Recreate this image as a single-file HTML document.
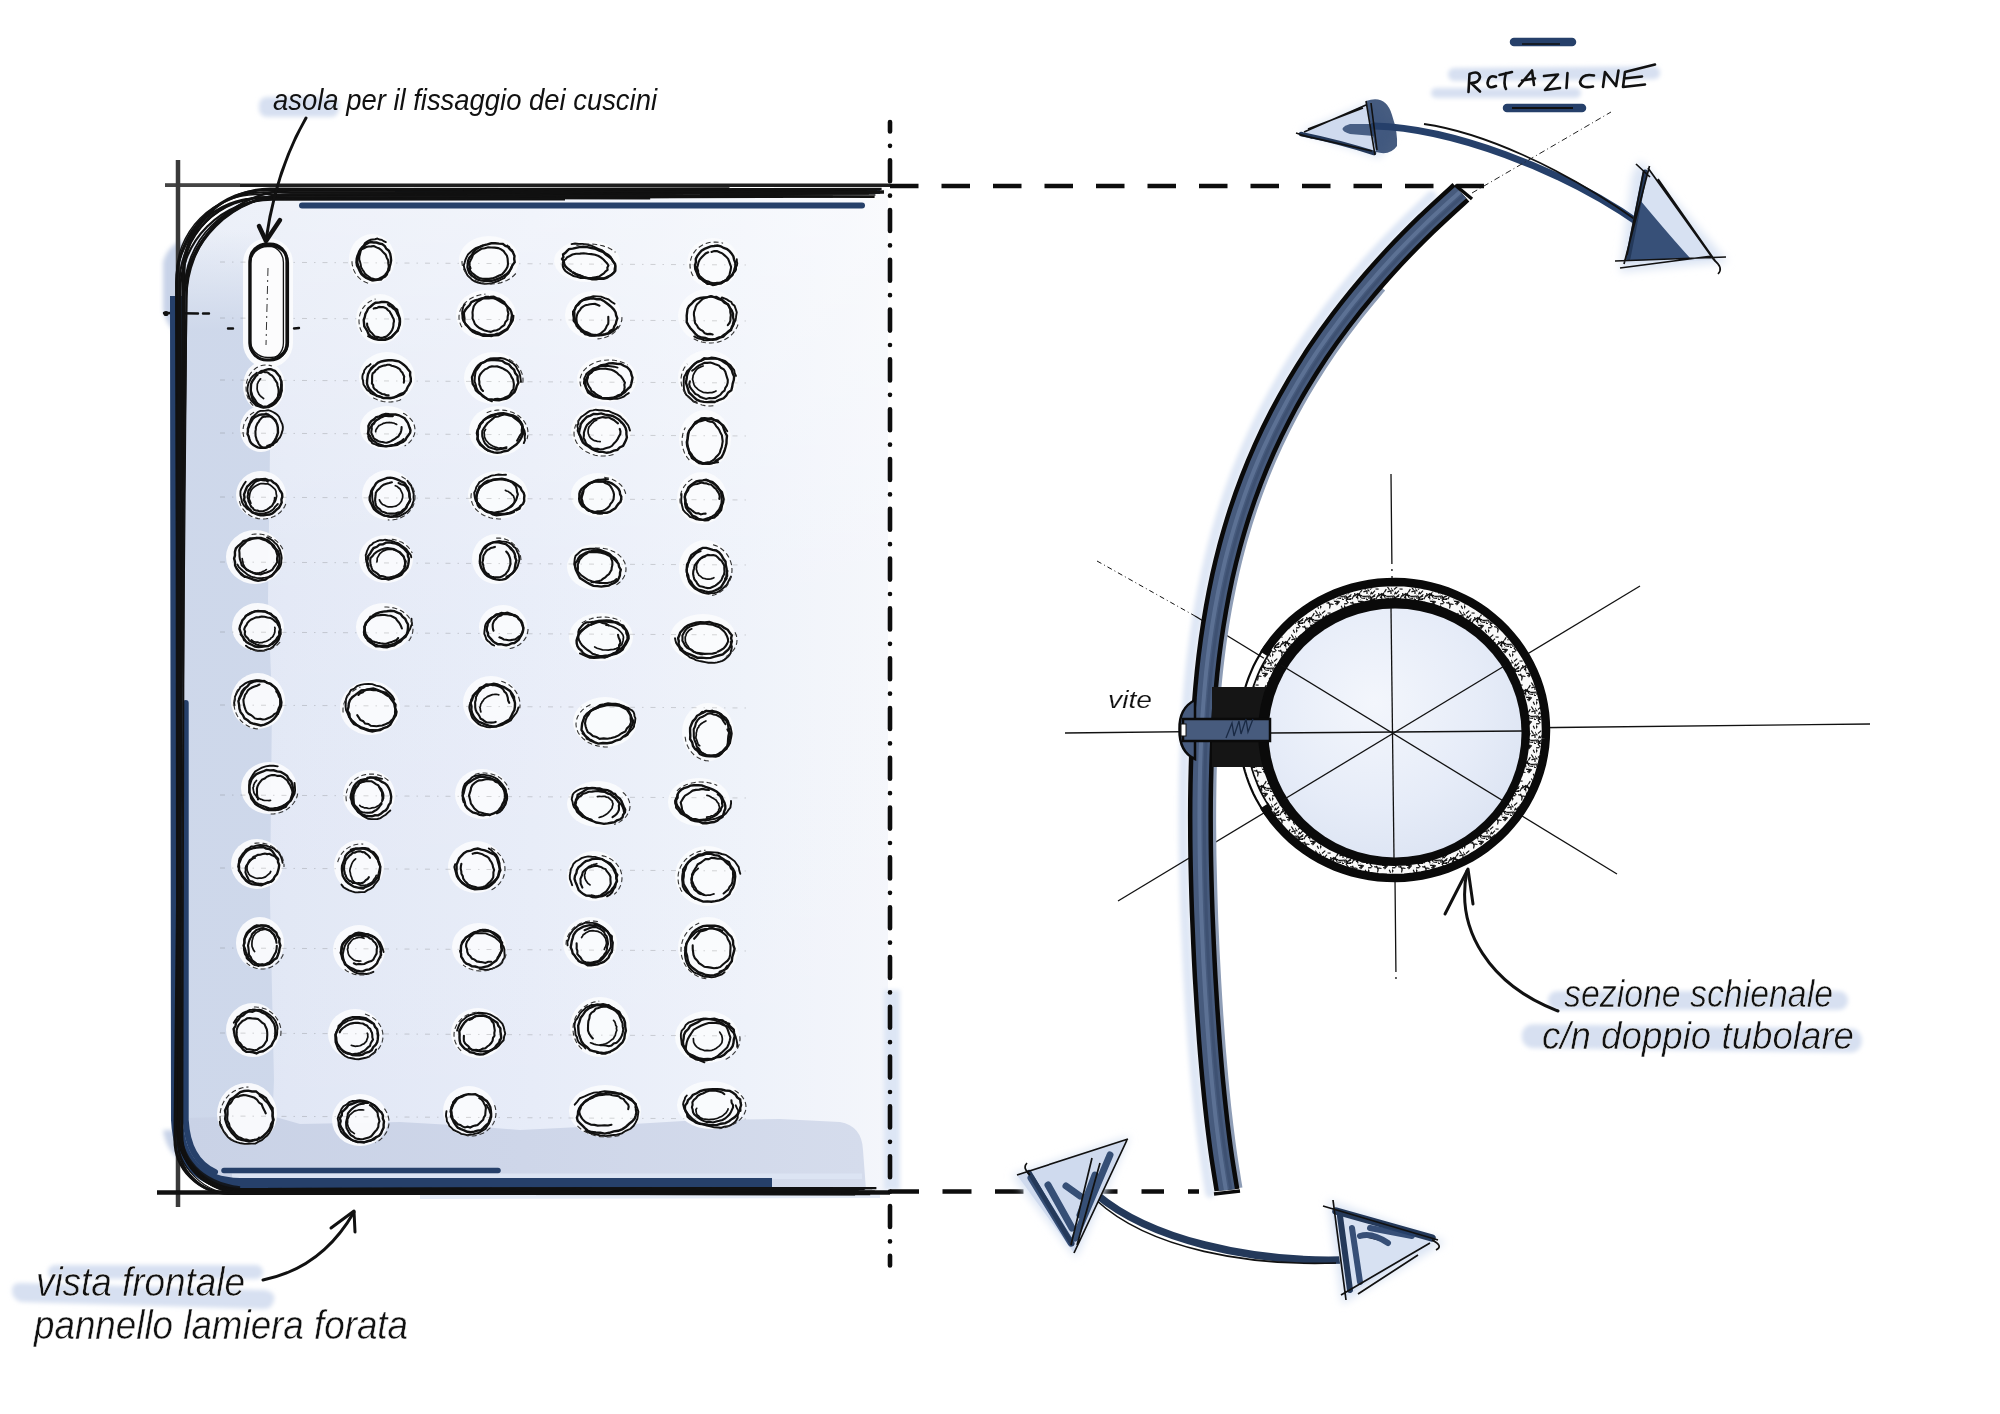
<!DOCTYPE html>
<html><head><meta charset="utf-8"><title>sketch</title>
<style>html,body{margin:0;padding:0;background:#fff;overflow:hidden}svg{display:block}</style>
</head><body>
<svg width="2000" height="1414" viewBox="0 0 2000 1414">
<defs>
<filter id="b2" x="-20%" y="-50%" width="140%" height="200%"><feGaussianBlur stdDeviation="2"/></filter>
<filter id="b4" x="-20%" y="-50%" width="140%" height="200%"><feGaussianBlur stdDeviation="4"/></filter>
<filter id="b8" x="-30%" y="-30%" width="160%" height="160%"><feGaussianBlur stdDeviation="8"/></filter>
<pattern id="hatch" width="24" height="24" patternUnits="userSpaceOnUse">
<rect width="24" height="24" fill="#fafafa"/>
<path d="M14.2,17.3 l-3.9,2.9 M17.2,22.0 l3.9,0.4 M22.5,14.9 l-3.1,1.0 M10.2,4.4 l-0.6,4.1 M-1.7,3.6 l3.1,3.7 M17.9,2.1 l-2.6,2.0 M14.1,1.3 l4.7,0.0 M3.4,3.6 l-4.7,0.3 M5.5,23.0 l-0.5,4.3 M3.3,22.5 l-2.8,4.1 M21.2,5.8 l1.4,3.0 M1.8,-0.3 l2.5,3.4 M-1.9,15.6 l1.8,3.2 M19.3,10.5 l2.2,3.3 M16.3,-0.5 l-3.0,0.2 M17.5,20.0 l4.6,0.3 M7.5,13.0 l3.1,0.1 M2.7,22.8 l3.7,2.6 M22.2,22.5 l1.7,3.3 M11.6,18.2 l4.2,1.5 M18.7,20.4 l4.9,0.6 M0.4,6.9 l-1.7,4.5 M6.8,22.0 l-0.5,3.6 M6.2,2.6 l3.2,0.8 M15.9,23.9 l2.7,1.5 M23.7,11.9 l1.0,3.3 M13.4,19.5 l0.5,3.8 M-0.6,21.8 l4.0,0.4 M19.8,1.4 l-3.3,3.7 M14.4,18.5 l3.7,1.3 M1.9,20.0 l2.3,3.1 M24.0,20.2 l-3.9,0.3 M10.7,17.0 l0.2,3.6 M8.5,1.8 l1.9,4.6 M23.0,14.3 l0.0,3.7 M0.3,5.1 l-3.7,3.0 M7.4,18.4 l-3.3,2.9 M15.3,17.8 l1.8,4.0 M5.3,10.6 l-3.3,2.9 M5.6,22.6 l-1.9,3.7 M-1.7,12.2 l3.1,3.1 M10.0,19.2 l-2.1,4.1 M7.0,14.7 l-3.2,3.4 M7.1,19.9 l-4.0,1.7 M23.4,22.9 l-0.2,4.1 M2.3,19.8 l-3.9,0.8 M16.0,16.7 l-2.2,2.5 M18.3,13.1 l-1.9,3.3 M14.2,18.1 l-1.9,4.0 M-1.3,2.2 l0.8,4.2 M3.7,15.8 l-1.2,2.8 M10.3,3.9 l3.2,0.6" stroke="#111" stroke-width="1.2" stroke-linecap="butt"/>
</pattern>
<linearGradient id="pg" x1="181" y1="0" x2="888" y2="0" gradientUnits="userSpaceOnUse">
<stop offset="0" stop-color="#dbe3f2"/>
<stop offset="0.15" stop-color="#e1e7f5"/>
<stop offset="0.5" stop-color="#e7ecf8"/>
<stop offset="0.8" stop-color="#eef2fa"/>
<stop offset="1" stop-color="#f4f6fb"/>
</linearGradient>
<linearGradient id="pgv" x1="0" y1="190" x2="0" y2="1190" gradientUnits="userSpaceOnUse">
<stop offset="0" stop-color="#ffffff" stop-opacity="0.45"/>
<stop offset="0.4" stop-color="#ffffff" stop-opacity="0.1"/>
<stop offset="1" stop-color="#ffffff" stop-opacity="0"/>
</linearGradient>
<radialGradient id="ig" cx="0.42" cy="0.38" r="0.7"><stop offset="0" stop-color="#f3f6fc"/><stop offset="0.6" stop-color="#e6ecf8"/><stop offset="1" stop-color="#dbe3f2"/></radialGradient>
</defs>
<rect width="2000" height="1414" fill="#fff"/>
<path d="M888,189 L286,191 A105,105 0 0 0 181,296 L181,1130 A60,60 0 0 0 241,1190 L888,1191 Z" fill="url(#pg)"/>
<path d="M888,189 L286,191 A105,105 0 0 0 181,296 L181,1130 A60,60 0 0 0 241,1190 L888,1191 Z" fill="url(#pgv)"/>
<linearGradient id="lsg" x1="0" y1="230" x2="0" y2="330" gradientUnits="userSpaceOnUse"><stop offset="0" stop-color="#cdd7ea" stop-opacity="0"/><stop offset="1" stop-color="#cdd7ea" stop-opacity="0.95"/></linearGradient>
<path d="M183,230 L262,230 L266,320 L270,450 L268,600 L272,700 L270,900 L274,1080 L272,1128 L183,1128 Z" fill="url(#lsg)"/>
<linearGradient id="bsg" x1="183" y1="0" x2="866" y2="0" gradientUnits="userSpaceOnUse"><stop offset="0" stop-color="#c9d2e6"/><stop offset="0.5" stop-color="#ced6e9"/><stop offset="1" stop-color="#d5dcec"/></linearGradient>
<path d="M183,1118 L272,1116 L300,1124 L400,1122 L470,1126 L520,1130 L600,1126 L700,1120 L780,1119 L840,1122 Q862,1126 863,1150 L866,1190 L241,1190 A60,60 0 0 1 183,1130 Z" fill="url(#bsg)"/>
<path d="M232,1173.5 L862,1173.5 L862,1179 L232,1179 Z" fill="#dce4f3"/>
<path d="M163,262 Q168,245 183,240 L183,335 Q168,332 163,310 Z" fill="#c8d3e8" filter="url(#b2)"/>
<path d="M163,1130 Q166,1150 180,1160 L186,1130 Z" fill="#c8d3e8" filter="url(#b2)"/>
<rect x="884" y="990" width="16" height="200" fill="#dde6f5" filter="url(#b2)"/>
<path d="M420,1192 L880,1192 L880,1198 L420,1199 Z" fill="#e4ebf7"/>
<ellipse cx="372" cy="259" rx="23" ry="25" fill="#fafbfd" opacity="0.95"/>
<ellipse cx="489" cy="260" rx="30" ry="24" fill="#fafbfd" opacity="0.95"/>
<ellipse cx="587" cy="261" rx="33" ry="21" fill="#fafbfd" opacity="0.95"/>
<ellipse cx="713" cy="263" rx="26" ry="25" fill="#fafbfd" opacity="0.95"/>
<ellipse cx="380" cy="319" rx="24" ry="25" fill="#fafbfd" opacity="0.95"/>
<ellipse cx="486" cy="315" rx="30" ry="25" fill="#fafbfd" opacity="0.95"/>
<ellipse cx="593" cy="315" rx="28" ry="24" fill="#fafbfd" opacity="0.95"/>
<ellipse cx="708" cy="316" rx="30" ry="27" fill="#fafbfd" opacity="0.95"/>
<ellipse cx="264" cy="386" rx="21" ry="25" fill="#fafbfd" opacity="0.95"/>
<ellipse cx="387" cy="377" rx="28" ry="25" fill="#fafbfd" opacity="0.95"/>
<ellipse cx="493" cy="378" rx="29" ry="26" fill="#fafbfd" opacity="0.95"/>
<ellipse cx="607" cy="379" rx="30" ry="23" fill="#fafbfd" opacity="0.95"/>
<ellipse cx="708" cy="378" rx="30" ry="28" fill="#fafbfd" opacity="0.95"/>
<ellipse cx="261" cy="429" rx="21" ry="23" fill="#fafbfd" opacity="0.95"/>
<ellipse cx="387" cy="428" rx="27" ry="22" fill="#fafbfd" opacity="0.95"/>
<ellipse cx="498" cy="431" rx="29" ry="25" fill="#fafbfd" opacity="0.95"/>
<ellipse cx="601" cy="431" rx="30" ry="25" fill="#fafbfd" opacity="0.95"/>
<ellipse cx="705" cy="439" rx="26" ry="29" fill="#fafbfd" opacity="0.95"/>
<ellipse cx="261" cy="495" rx="25" ry="24" fill="#fafbfd" opacity="0.95"/>
<ellipse cx="388" cy="495" rx="26" ry="25" fill="#fafbfd" opacity="0.95"/>
<ellipse cx="498" cy="495" rx="30" ry="24" fill="#fafbfd" opacity="0.95"/>
<ellipse cx="598" cy="495" rx="27" ry="22" fill="#fafbfd" opacity="0.95"/>
<ellipse cx="702" cy="498" rx="25" ry="26" fill="#fafbfd" opacity="0.95"/>
<ellipse cx="255" cy="557" rx="29" ry="27" fill="#fafbfd" opacity="0.95"/>
<ellipse cx="386" cy="559" rx="27" ry="24" fill="#fafbfd" opacity="0.95"/>
<ellipse cx="496" cy="559" rx="24" ry="25" fill="#fafbfd" opacity="0.95"/>
<ellipse cx="596" cy="567" rx="29" ry="23" fill="#fafbfd" opacity="0.95"/>
<ellipse cx="705" cy="568" rx="26" ry="28" fill="#fafbfd" opacity="0.95"/>
<ellipse cx="258" cy="627" rx="26" ry="24" fill="#fafbfd" opacity="0.95"/>
<ellipse cx="384" cy="627" rx="28" ry="24" fill="#fafbfd" opacity="0.95"/>
<ellipse cx="503" cy="627" rx="24" ry="22" fill="#fafbfd" opacity="0.95"/>
<ellipse cx="601" cy="637" rx="32" ry="24" fill="#fafbfd" opacity="0.95"/>
<ellipse cx="703" cy="638" rx="33" ry="24" fill="#fafbfd" opacity="0.95"/>
<ellipse cx="258" cy="701" rx="27" ry="28" fill="#fafbfd" opacity="0.95"/>
<ellipse cx="370" cy="708" rx="30" ry="27" fill="#fafbfd" opacity="0.95"/>
<ellipse cx="491" cy="703" rx="28" ry="27" fill="#fafbfd" opacity="0.95"/>
<ellipse cx="605" cy="722" rx="32" ry="25" fill="#fafbfd" opacity="0.95"/>
<ellipse cx="708" cy="732" rx="26" ry="29" fill="#fafbfd" opacity="0.95"/>
<ellipse cx="269" cy="788" rx="28" ry="26" fill="#fafbfd" opacity="0.95"/>
<ellipse cx="369" cy="795" rx="26" ry="25" fill="#fafbfd" opacity="0.95"/>
<ellipse cx="482" cy="794" rx="27" ry="25" fill="#fafbfd" opacity="0.95"/>
<ellipse cx="598" cy="804" rx="31" ry="23" fill="#fafbfd" opacity="0.95"/>
<ellipse cx="699" cy="802" rx="31" ry="24" fill="#fafbfd" opacity="0.95"/>
<ellipse cx="257" cy="864" rx="26" ry="25" fill="#fafbfd" opacity="0.95"/>
<ellipse cx="359" cy="866" rx="25" ry="26" fill="#fafbfd" opacity="0.95"/>
<ellipse cx="476" cy="867" rx="28" ry="26" fill="#fafbfd" opacity="0.95"/>
<ellipse cx="594" cy="876" rx="27" ry="25" fill="#fafbfd" opacity="0.95"/>
<ellipse cx="707" cy="876" rx="32" ry="30" fill="#fafbfd" opacity="0.95"/>
<ellipse cx="260" cy="943" rx="24" ry="26" fill="#fafbfd" opacity="0.95"/>
<ellipse cx="359" cy="950" rx="26" ry="25" fill="#fafbfd" opacity="0.95"/>
<ellipse cx="479" cy="947" rx="27" ry="24" fill="#fafbfd" opacity="0.95"/>
<ellipse cx="590" cy="943" rx="27" ry="26" fill="#fafbfd" opacity="0.95"/>
<ellipse cx="708" cy="948" rx="30" ry="31" fill="#fafbfd" opacity="0.95"/>
<ellipse cx="253" cy="1030" rx="27" ry="27" fill="#fafbfd" opacity="0.95"/>
<ellipse cx="355" cy="1034" rx="27" ry="25" fill="#fafbfd" opacity="0.95"/>
<ellipse cx="478" cy="1033" rx="27" ry="25" fill="#fafbfd" opacity="0.95"/>
<ellipse cx="600" cy="1027" rx="30" ry="30" fill="#fafbfd" opacity="0.95"/>
<ellipse cx="707" cy="1037" rx="32" ry="26" fill="#fafbfd" opacity="0.95"/>
<ellipse cx="247" cy="1114" rx="30" ry="31" fill="#fafbfd" opacity="0.95"/>
<ellipse cx="360" cy="1120" rx="28" ry="26" fill="#fafbfd" opacity="0.95"/>
<ellipse cx="469" cy="1111" rx="26" ry="25" fill="#fafbfd" opacity="0.95"/>
<ellipse cx="605" cy="1111" rx="36" ry="26" fill="#fafbfd" opacity="0.95"/>
<ellipse cx="711" cy="1105" rx="34" ry="24" fill="#fafbfd" opacity="0.95"/>
<rect x="243" y="238" width="50" height="130" rx="25" fill="#fafbfd"/>
<line x1="220" y1="262" x2="750" y2="265" stroke="#555" stroke-width="0.8" stroke-dasharray="5 7 1.5 7" opacity="0.3"/>
<line x1="220" y1="318" x2="750" y2="321" stroke="#555" stroke-width="0.8" stroke-dasharray="5 7 1.5 7" opacity="0.3"/>
<line x1="220" y1="380" x2="750" y2="383" stroke="#555" stroke-width="0.8" stroke-dasharray="5 7 1.5 7" opacity="0.3"/>
<line x1="220" y1="433" x2="750" y2="436" stroke="#555" stroke-width="0.8" stroke-dasharray="5 7 1.5 7" opacity="0.3"/>
<line x1="220" y1="497" x2="750" y2="500" stroke="#555" stroke-width="0.8" stroke-dasharray="5 7 1.5 7" opacity="0.3"/>
<line x1="220" y1="562" x2="750" y2="565" stroke="#555" stroke-width="0.8" stroke-dasharray="5 7 1.5 7" opacity="0.3"/>
<line x1="220" y1="632" x2="750" y2="635" stroke="#555" stroke-width="0.8" stroke-dasharray="5 7 1.5 7" opacity="0.3"/>
<line x1="220" y1="705" x2="750" y2="708" stroke="#555" stroke-width="0.8" stroke-dasharray="5 7 1.5 7" opacity="0.3"/>
<line x1="220" y1="795" x2="750" y2="798" stroke="#555" stroke-width="0.8" stroke-dasharray="5 7 1.5 7" opacity="0.3"/>
<line x1="220" y1="868" x2="750" y2="871" stroke="#555" stroke-width="0.8" stroke-dasharray="5 7 1.5 7" opacity="0.3"/>
<line x1="220" y1="948" x2="750" y2="951" stroke="#555" stroke-width="0.8" stroke-dasharray="5 7 1.5 7" opacity="0.3"/>
<line x1="220" y1="1033" x2="750" y2="1036" stroke="#555" stroke-width="0.8" stroke-dasharray="5 7 1.5 7" opacity="0.3"/>
<line x1="220" y1="1116" x2="750" y2="1119" stroke="#555" stroke-width="0.8" stroke-dasharray="5 7 1.5 7" opacity="0.3"/>
<path d="M358.0,254.6 L359.2,251.6 L360.8,248.8 L363.1,246.8 L365.2,244.6 L367.8,243.1 L370.6,242.0 L373.6,242.5 L376.5,242.5 L379.3,243.5 L382.2,244.1 L384.7,246.0 L386.3,248.8 L388.9,250.8 L390.2,253.8 L390.8,257.1 L391.1,260.4 L390.5,263.7 L389.7,266.7 L389.1,269.9 L387.1,272.4 L385.3,274.8 L383.0,276.8 L380.4,278.1 L377.8,279.5 L374.9,279.9 L371.9,280.2 L369.1,279.2 L366.3,278.0 L363.9,276.2 L361.5,274.1 L359.9,271.4 L358.6,268.4 L357.0,265.5 L356.5,262.2 L356.7,258.8 L357.5,255.6 L358.9,252.7 L360.4,250.0 L362.3,247.5 L364.6,245.7" fill="none" stroke="#111" stroke-width="2.4" stroke-linecap="round"/>
<path d="M369.4,278.6 L366.6,277.8 L364.4,275.5 L362.0,273.7 L360.6,270.8 L359.5,268.0 L358.1,265.2 L357.4,262.2 L357.8,259.3 L358.3,256.6 L359.0,253.9 L359.7,251.2 L361.6,249.3 L364.0,248.2 L366.2,247.0 L368.7,246.5 L371.3,246.4 L373.9,246.0 L376.5,247.4 L379.2,248.4 L381.5,250.3 L383.5,252.6 L385.7,254.7 L386.7,257.7 L388.2,260.4 L388.3,263.4 L388.8,266.3 L388.3,269.1 L387.6,271.7 L387.0,274.6 L385.2,276.6 L382.9,277.8 L381.0,279.6 L378.2,279.7 L375.7,280.2 L373.0,280.4 L370.3,279.4" fill="none" stroke="#111" stroke-width="2.1" stroke-linecap="round"/>
<path d="M379.6,279.3 L377.5,279.4 L375.3,279.5 L373.1,278.7 L370.9,278.1 L369.0,276.7 L367.0,275.3 L365.1,273.8 L363.8,271.6 L362.4,269.5 L361.1,267.2 L360.7,264.5 L360.1,262.0 L359.3,259.5 L359.4,256.8 L360.0,254.3 L360.6,251.9 L361.1,249.3 L362.0,247.0 L363.8,245.4 L364.9,243.2 L366.7,241.7 L368.7,240.6 L370.8,239.8 L372.9,239.5 L375.1,239.2 L377.3,238.5 L379.5,239.5 L381.7,239.8 L383.7,241.2 L385.8,242.1" fill="none" stroke="#111" stroke-width="1.9" stroke-linecap="round"/>
<path d="M368.1,283.1 L366.9,282.8 L365.7,282.3 L364.6,281.8 L363.5,281.2 L362.4,280.5 L361.4,279.8 L360.4,279.1 L359.4,278.2 L358.5,277.3 L357.7,276.4 L356.9,275.4 L356.1,274.4 L355.4,273.3 L354.8,272.2 L354.2,271.0 L353.7,269.9 L353.3,268.7 L352.9,267.4 L352.6,266.2 L352.3,264.9 L352.1,263.6 L352.0,262.3 L352.0,261.0 L352.0,259.7" fill="none" stroke="#333" stroke-width="1.1" stroke-dasharray="5 3"/>
<path d="M507.4,245.8 L509.1,248.5 L511.9,250.3 L513.2,253.1 L514.5,255.9 L514.2,259.0 L514.7,262.1 L512.4,265.2 L511.3,268.3 L509.3,271.3 L506.7,274.1 L503.3,276.3 L499.7,278.1 L495.9,279.7 L491.9,280.8 L488.0,280.6 L484.1,280.8 L480.3,280.4 L476.8,279.2 L474.3,277.2 L471.4,275.4 L469.3,273.0 L468.3,270.1 L467.5,267.2 L467.8,264.0 L468.1,260.9 L469.3,257.8 L471.8,255.0 L473.6,251.9 L476.2,249.1 L479.7,247.0 L483.4,245.4 L487.4,244.4 L491.3,243.3 L495.2,243.2 L498.9,243.6 L502.8,243.9 L505.4,246.0 L508.9,247.1 L510.4,249.8 L512.9,251.9" fill="none" stroke="#111" stroke-width="2.4" stroke-linecap="round"/>
<path d="M470.5,268.3 L469.7,265.7 L469.4,262.9 L470.7,260.1 L472.0,257.5 L473.1,254.7 L475.7,252.5 L478.5,250.7 L481.4,248.8 L484.8,248.2 L488.1,247.2 L491.5,247.5 L494.8,247.6 L498.2,248.1 L501.1,249.3 L503.6,251.1 L505.2,253.5 L506.9,255.7 L507.6,258.4 L507.8,261.1 L508.0,263.9 L507.5,266.8 L506.1,269.5 L504.1,272.0 L501.9,274.4 L498.6,275.8 L495.6,277.2 L492.4,278.4 L489.0,278.9 L485.7,278.9 L482.4,278.7 L479.2,278.0 L476.5,276.5 L474.2,274.6 L471.8,272.9 L470.1,270.5 L469.8,267.6" fill="none" stroke="#111" stroke-width="2.1" stroke-linecap="round"/>
<path d="M512.4,265.3 L511.0,268.0 L509.9,270.6 L508.6,273.3 L506.2,275.5 L504.3,278.0 L501.2,279.5 L498.1,281.0 L494.9,282.1 L491.6,283.3 L488.1,283.6 L484.6,283.7 L481.2,283.3 L477.9,282.6 L474.7,281.5 L472.1,279.8 L470.0,277.7 L467.7,275.7 L466.3,273.2 L465.4,270.6 L464.3,268.1 L463.8,265.3 L464.7,262.5 L465.4,259.8 L466.6,257.1 L468.1,254.4 L470.4,252.2 L472.9,250.1 L475.7,248.2 L479.0,247.0 L482.2,245.6" fill="none" stroke="#111" stroke-width="1.9" stroke-linecap="round"/>
<path d="M515.8,273.5 L513.9,275.5 L511.8,277.3 L509.4,279.0 L506.8,280.4 L504.0,281.7 L501.1,282.6 L498.0,283.4 L494.8,283.8 L491.6,284.0 L488.3,283.9 L485.1,283.5 L482.0,282.9 L479.0,282.0 L476.2,280.9 L473.5,279.5 L471.0,277.9 L468.8,276.2 L466.9,274.2 L465.2,272.1 L463.9,269.8 L462.9,267.5 L462.3,265.1 L462.0,262.7 L462.1,260.2" fill="none" stroke="#333" stroke-width="1.1" stroke-dasharray="5 3"/>
<path d="M570.9,271.0 L568.0,268.8 L565.5,266.5 L564.2,264.0 L563.8,261.5 L562.1,259.0 L563.4,256.9 L563.1,254.4 L565.4,252.8 L567.1,250.9 L569.0,249.1 L572.7,248.6 L576.0,247.8 L579.3,247.1 L583.2,246.8 L587.3,247.1 L591.4,248.0 L595.6,248.9 L599.3,250.6 L603.3,252.1 L605.8,254.5 L608.7,256.6 L611.5,258.8 L613.0,261.2 L615.0,263.7 L615.5,266.2 L615.4,268.5 L615.3,270.9 L613.7,272.9 L611.6,274.5 L609.4,276.1 L607.1,277.7 L603.8,278.7 L599.7,278.6 L596.2,279.3 L592.1,279.2 L588.0,278.2 L583.9,277.2 L580.2,275.6 L576.3,274.3 L572.9,272.4" fill="none" stroke="#111" stroke-width="2.4" stroke-linecap="round"/>
<path d="M562.8,263.1 L563.4,261.0 L565.6,259.3 L567.1,257.4 L569.8,256.0 L572.4,254.5 L576.0,253.7 L579.9,253.6 L583.7,253.3 L587.5,253.8 L591.3,254.1 L595.1,254.8 L598.6,256.0 L601.2,257.7 L603.5,259.5 L605.3,261.5 L607.2,263.4 L608.4,265.6 L607.3,267.7 L607.6,269.8 L605.4,271.6 L603.8,273.4 L601.5,274.9 L599.1,276.5 L595.6,277.2 L592.0,277.9 L588.3,278.4 L584.5,278.0 L580.6,278.0 L577.1,276.8 L573.5,275.9 L570.6,274.4 L568.0,272.8 L565.4,271.0 L563.9,269.0 L563.0,266.9 L562.7,264.8" fill="none" stroke="#111" stroke-width="2.1" stroke-linecap="round"/>
<path d="M571.6,244.1 L575.0,243.5 L578.9,243.9 L582.7,243.9 L586.7,244.6 L590.8,245.5 L594.6,247.2 L598.3,248.8 L602.2,250.4 L604.9,252.7 L608.4,254.7 L610.8,257.1 L612.0,259.7 L613.6,262.1 L615.0,264.6 L614.9,266.9 L614.5,269.1 L614.5,271.5 L612.8,273.3 L611.3,275.1 L608.4,276.1 L605.9,277.4 L603.0,278.3 L599.2,278.3 L595.6,278.5 L591.9,278.6 L587.9,278.1 L583.8,277.2 L580.1,275.4 L576.2,274.1 L572.5,272.4" fill="none" stroke="#111" stroke-width="1.9" stroke-linecap="round"/>
<path d="M576.4,245.5 L578.1,245.1 L579.9,244.8 L581.6,244.5 L583.4,244.3 L585.3,244.1 L587.1,244.0 L588.9,244.0 L590.8,244.0 L592.6,244.1 L594.4,244.3 L596.2,244.5 L598.0,244.8 L599.7,245.1 L601.4,245.5 L603.1,245.9 L604.7,246.5 L606.3,247.0 L607.8,247.6 L609.3,248.3 L610.7,249.0 L612.0,249.8 L613.2,250.6 L614.4,251.4 L615.4,252.3" fill="none" stroke="#333" stroke-width="1.1" stroke-dasharray="5 3"/>
<path d="M697.6,274.5 L696.5,271.5 L695.7,268.4 L695.0,265.3 L695.9,262.2 L695.8,258.8 L697.3,255.9 L699.3,253.2 L701.5,250.7 L704.5,248.9 L707.6,247.6 L710.7,246.4 L714.1,246.0 L717.5,245.5 L720.8,246.3 L723.7,248.0 L727.0,249.0 L729.5,251.2 L731.7,253.7 L733.4,256.4 L734.1,259.6 L735.3,262.7 L735.4,266.0 L734.6,269.2 L733.6,272.3 L732.0,275.2 L729.6,277.6 L727.3,280.1 L724.1,281.2 L721.2,282.8 L717.9,283.7 L714.6,283.5 L711.3,283.6 L707.9,283.1 L704.9,281.8 L702.4,279.6 L699.4,278.0 L697.7,275.2 L696.6,272.2 L695.3,269.2 L695.0,266.0" fill="none" stroke="#111" stroke-width="2.4" stroke-linecap="round"/>
<path d="M711.5,251.9 L714.2,251.1 L717.0,251.1 L719.6,252.3 L722.2,253.3 L724.3,255.1 L726.4,256.9 L728.2,259.0 L729.2,261.6 L730.1,264.2 L731.1,266.9 L730.7,269.8 L730.0,272.5 L729.4,275.4 L727.6,277.7 L726.0,280.2 L723.6,281.8 L721.2,283.4 L718.3,283.7 L715.7,284.8 L712.9,285.1 L710.2,284.0 L707.3,283.9 L705.2,282.0 L702.8,280.5 L701.2,278.3 L699.4,276.1 L698.2,273.5 L698.1,270.7 L697.1,267.9 L697.9,265.1 L698.5,262.3 L699.7,259.7 L701.5,257.5 L703.5,255.5 L705.6,253.5 L708.2,252.3" fill="none" stroke="#111" stroke-width="2.1" stroke-linecap="round"/>
<path d="M736.8,259.2 L736.8,261.3 L737.3,263.3 L737.0,265.3 L736.0,267.3 L736.1,269.5 L735.1,271.4 L733.4,272.9 L732.7,275.0 L730.9,276.4 L729.3,277.9 L727.7,279.5 L725.4,280.1 L723.5,281.2 L721.4,282.2 L719.2,282.6 L717.0,282.7 L714.7,283.2 L712.5,282.9 L710.3,282.4 L708.4,281.4 L706.2,281.0 L704.4,279.9 L702.8,278.6 L701.3,277.2 L699.6,275.9 L698.7,274.1 L697.4,272.5 L696.5,270.7 L696.1,268.7 L695.9,266.6" fill="none" stroke="#111" stroke-width="1.9" stroke-linecap="round"/>
<path d="M693.1,276.1 L692.0,274.1 L691.2,271.9 L690.5,269.7 L690.1,267.4 L690.0,265.1 L690.1,262.8 L690.5,260.5 L691.1,258.3 L691.9,256.1 L693.0,254.0 L694.3,252.1 L695.8,250.2 L697.5,248.5 L699.4,247.0 L701.4,245.7 L703.6,244.5 L705.9,243.6 L708.3,242.8 L710.7,242.3 L713.2,242.1 L715.7,242.0 L718.2,242.2 L720.7,242.6 L723.1,243.2" fill="none" stroke="#333" stroke-width="1.1" stroke-dasharray="5 3"/>
<path d="M395.0,333.3 L392.9,335.4 L390.8,337.7 L388.1,338.9 L385.2,339.8 L382.2,339.8 L379.3,339.8 L376.5,338.8 L373.8,337.8 L371.0,336.5 L368.7,334.5 L367.5,331.5 L366.0,328.9 L364.3,326.3 L364.0,323.2 L363.7,320.0 L364.8,317.0 L365.4,314.0 L366.9,311.3 L368.2,308.4 L370.7,306.5 L372.9,304.5 L375.5,302.8 L378.6,302.6 L381.5,302.0 L384.5,301.9 L387.5,302.3 L390.0,304.0 L392.5,305.7 L394.5,307.9 L397.1,309.7 L397.8,312.8 L398.9,315.7 L399.9,318.6 L400.0,321.7 L399.8,324.8 L398.6,327.7 L397.7,330.8 L395.4,332.8 L393.4,335.1 L391.3,337.4" fill="none" stroke="#111" stroke-width="2.4" stroke-linecap="round"/>
<path d="M373.7,308.6 L375.5,308.1 L377.3,307.7 L379.1,306.9 L381.0,307.1 L383.0,307.1 L384.8,307.7 L386.6,308.7 L388.0,310.3 L389.7,311.5 L390.7,313.4 L391.8,315.2 L392.7,317.2 L393.7,319.1 L394.0,321.3 L393.5,323.5 L393.4,325.7 L393.0,327.7 L392.2,329.7 L391.3,331.5 L390.1,333.1 L388.7,334.4 L387.3,335.8 L385.7,336.9 L383.8,337.3 L382.0,337.9 L380.1,337.7 L378.2,337.0 L376.3,336.9 L374.5,336.1 L373.1,334.5 L371.8,332.9 L370.2,331.6 L369.1,329.8 L368.2,327.8 L367.2,325.8 L367.1,323.6" fill="none" stroke="#111" stroke-width="2.1" stroke-linecap="round"/>
<path d="M387.8,304.6 L389.5,306.1 L391.6,307.0 L393.0,308.6 L394.9,309.8 L396.2,311.6 L397.0,313.5 L397.9,315.4 L399.0,317.2 L399.3,319.2 L399.7,321.3 L399.3,323.3 L399.0,325.3 L399.0,327.4 L398.0,329.2 L396.9,330.9 L395.7,332.6 L394.4,334.2 L392.8,335.6 L391.2,337.0 L389.1,337.7 L387.2,338.8 L385.1,339.2 L382.9,339.8 L380.7,339.9 L378.4,339.9 L376.2,339.6 L374.0,339.2 L371.9,338.2 L369.9,337.2 L368.0,336.2" fill="none" stroke="#111" stroke-width="1.9" stroke-linecap="round"/>
<path d="M361.7,331.9 L361.0,330.3 L360.3,328.8 L359.8,327.1 L359.4,325.5 L359.2,323.8 L359.0,322.1 L359.0,320.4 L359.1,318.7 L359.4,317.0 L359.7,315.3 L360.2,313.7 L360.8,312.1 L361.5,310.5 L362.3,309.0 L363.3,307.6 L364.3,306.3 L365.5,305.0 L366.7,303.8 L368.0,302.7 L369.4,301.8 L370.9,300.9 L372.4,300.1 L374.0,299.4 L375.6,298.9" fill="none" stroke="#333" stroke-width="1.1" stroke-dasharray="5 3"/>
<path d="M490.6,335.7 L486.9,335.6 L483.1,335.8 L479.7,334.4 L476.1,333.3 L472.8,331.8 L470.3,329.4 L468.3,326.9 L465.7,324.5 L464.3,321.6 L464.4,318.6 L464.0,315.6 L463.8,312.5 L465.5,309.8 L467.5,307.3 L469.7,305.1 L471.3,302.2 L474.5,300.6 L478.0,299.6 L481.5,298.5 L485.2,298.0 L488.9,298.3 L492.8,297.9 L496.4,299.2 L499.5,300.9 L502.4,302.8 L505.5,304.5 L507.8,307.0 L510.1,309.4 L511.4,312.3 L512.0,315.3 L511.5,318.2 L511.1,321.1 L510.3,324.0 L508.7,326.6 L507.3,329.4 L504.4,331.3 L501.5,333.2 L498.5,335.0 L494.6,335.2 L491.0,336.0" fill="none" stroke="#111" stroke-width="2.4" stroke-linecap="round"/>
<path d="M490.6,296.7 L493.7,296.5 L496.4,297.9 L499.3,298.7 L501.8,300.4 L504.4,302.2 L505.8,304.9 L507.4,307.5 L507.6,310.6 L508.4,313.5 L507.7,316.5 L507.5,319.6 L505.4,322.0 L504.3,325.0 L501.7,326.8 L499.5,328.9 L496.7,330.2 L493.7,330.8 L490.7,331.9 L487.7,331.3 L484.7,330.6 L482.0,329.3 L479.4,328.0 L477.0,326.2 L474.9,324.0 L473.8,321.1 L472.5,318.4 L472.7,315.4 L472.5,312.4 L473.0,309.4 L473.7,306.4 L475.4,303.8 L477.6,301.6 L480.4,300.1 L482.8,298.3 L485.6,296.9 L488.7,296.8" fill="none" stroke="#111" stroke-width="2.1" stroke-linecap="round"/>
<path d="M513.5,315.6 L513.3,318.0 L512.9,320.4 L511.6,322.7 L510.3,324.8 L508.7,326.9 L507.0,328.9 L504.5,330.2 L502.0,331.6 L499.6,333.1 L496.6,333.7 L493.8,334.8 L490.7,334.8 L487.6,334.9 L484.5,334.3 L481.4,334.1 L478.7,332.7 L475.9,331.7 L473.3,330.3 L470.5,329.1 L468.2,327.2 L466.7,325.0 L464.9,322.9 L463.2,320.8 L462.5,318.3 L462.4,315.8 L462.1,313.4 L462.3,311.0 L462.8,308.6 L463.4,306.2 L464.9,304.2" fill="none" stroke="#111" stroke-width="1.9" stroke-linecap="round"/>
<path d="M462.0,327.2 L461.0,325.5 L460.3,323.7 L459.7,321.9 L459.3,320.1 L459.0,318.3 L459.0,316.4 L459.2,314.5 L459.5,312.7 L460.0,310.9 L460.8,309.1 L461.6,307.4 L462.7,305.7 L463.9,304.2 L465.3,302.7 L466.9,301.3 L468.5,300.0 L470.3,298.8 L472.2,297.7 L474.3,296.7 L476.4,295.9 L478.6,295.3 L480.8,294.7 L483.1,294.3 L485.4,294.1" fill="none" stroke="#333" stroke-width="1.1" stroke-dasharray="5 3"/>
<path d="M576.3,306.0 L578.7,304.1 L580.6,301.7 L583.2,300.0 L586.7,299.4 L589.9,298.6 L593.4,298.3 L596.9,299.3 L600.5,299.3 L603.7,300.9 L606.5,303.0 L609.1,305.0 L611.6,307.2 L613.9,309.6 L615.6,312.4 L616.1,315.3 L617.3,318.3 L616.4,321.1 L615.8,323.9 L614.2,326.4 L613.4,329.3 L610.4,330.7 L608.4,333.1 L605.2,334.1 L602.0,335.0 L598.6,335.4 L595.1,335.0 L591.6,335.2 L588.1,334.2 L584.9,332.6 L582.0,330.6 L579.8,328.1 L576.9,326.1 L575.7,323.2 L573.7,320.5 L573.8,317.5 L573.2,314.5 L573.2,311.6 L575.0,309.1 L576.0,306.4 L578.4,304.5" fill="none" stroke="#111" stroke-width="2.4" stroke-linecap="round"/>
<path d="M608.3,316.7 L608.3,319.1 L608.4,321.5 L608.2,323.9 L606.8,325.9 L605.9,328.0 L604.7,330.1 L602.9,331.5 L601.1,333.1 L599.1,334.4 L596.8,334.9 L594.6,335.7 L592.2,335.6 L589.8,335.6 L587.5,334.8 L585.2,334.2 L583.5,332.5 L581.3,331.5 L580.1,329.4 L578.1,327.8 L577.4,325.5 L576.8,323.2 L576.6,320.9 L576.4,318.5 L576.7,316.1 L577.4,313.8 L578.5,311.7 L580.1,309.9 L581.4,307.8 L583.4,306.4 L585.5,305.2 L587.9,304.8 L590.2,304.3 L592.6,304.0 L595.0,303.9 L597.3,304.8 L599.5,305.7" fill="none" stroke="#111" stroke-width="2.1" stroke-linecap="round"/>
<path d="M617.8,326.8 L615.7,329.4 L612.7,331.4 L609.8,333.3 L606.1,334.2 L602.5,334.9 L598.7,335.4 L594.8,335.1 L591.0,334.1 L587.5,332.5 L583.9,331.1 L581.0,328.7 L578.7,325.9 L576.7,323.0 L575.2,319.9 L574.6,316.7 L574.6,313.5 L574.3,310.2 L575.5,307.1 L577.5,304.4 L579.7,301.8 L582.8,299.9 L585.8,298.1 L589.6,297.3 L593.2,296.3 L597.1,296.4 L601.1,296.6 L604.7,298.2 L608.5,299.3 L611.4,301.7 L614.6,303.8" fill="none" stroke="#111" stroke-width="1.9" stroke-linecap="round"/>
<path d="M622.0,317.1 L621.9,318.4 L621.8,319.8 L621.5,321.1 L621.2,322.4 L620.7,323.7 L620.2,325.0 L619.5,326.2 L618.8,327.4 L617.9,328.6 L617.0,329.7 L616.0,330.8 L614.9,331.8 L613.8,332.8 L612.6,333.7 L611.3,334.6 L609.9,335.3 L608.5,336.0 L607.0,336.7 L605.5,337.3 L604.0,337.7 L602.4,338.2 L600.8,338.5 L599.2,338.7 L597.5,338.9" fill="none" stroke="#333" stroke-width="1.1" stroke-dasharray="5 3"/>
<path d="M733.5,323.7 L731.9,326.7 L731.1,330.0 L728.1,332.0 L725.6,334.2 L723.2,336.7 L719.7,337.7 L716.4,339.3 L712.7,339.7 L708.9,339.3 L705.3,338.0 L701.5,337.5 L697.9,336.1 L695.2,333.6 L692.8,330.8 L690.4,328.2 L688.5,325.3 L686.7,322.2 L686.8,318.9 L686.7,315.6 L687.1,312.4 L687.5,309.1 L689.0,306.0 L691.6,303.7 L693.8,301.2 L696.7,299.1 L700.2,298.0 L703.9,297.5 L707.5,297.1 L711.2,296.4 L714.9,297.4 L718.3,299.0 L721.9,300.2 L724.5,302.8 L728.1,304.5 L729.8,307.6 L731.8,310.6 L733.0,313.8 L733.0,317.2 L733.9,320.5 L733.0,323.7" fill="none" stroke="#111" stroke-width="2.4" stroke-linecap="round"/>
<path d="M712.7,334.5 L710.1,333.9 L707.2,334.1 L704.6,333.2 L702.7,330.9 L700.3,329.6 L698.2,327.8 L696.9,325.3 L695.1,323.1 L694.6,320.3 L694.4,317.6 L693.9,314.9 L694.0,312.1 L695.0,309.5 L695.7,306.8 L697.0,304.3 L699.0,302.4 L701.0,300.5 L703.0,298.7 L705.6,297.7 L708.2,297.0 L710.9,296.2 L713.6,297.0 L716.4,296.8 L718.8,298.2 L721.4,299.0 L723.5,300.8 L725.6,302.5 L727.7,304.4 L729.1,306.8 L730.2,309.4 L730.3,312.3 L730.9,314.9 L730.5,317.7 L730.4,320.5 L729.5,323.0 L727.8,325.2" fill="none" stroke="#111" stroke-width="2.1" stroke-linecap="round"/>
<path d="M721.9,297.5 L724.4,298.3 L726.8,299.4 L728.9,300.8 L731.3,301.9 L732.3,304.1 L734.5,305.6 L735.3,307.9 L736.1,310.1 L736.8,312.4 L736.3,315.0 L736.0,317.4 L735.6,319.9 L734.5,322.3 L733.6,324.8 L732.4,327.2 L730.5,329.4 L728.3,331.3 L726.3,333.4 L723.6,334.8 L721.3,336.8 L718.4,337.5 L715.6,338.6 L712.7,339.2 L709.8,340.1 L706.8,340.3 L704.0,340.2 L701.5,339.1 L698.7,338.7 L696.3,337.7 L694.2,336.4" fill="none" stroke="#111" stroke-width="1.9" stroke-linecap="round"/>
<path d="M738.0,324.5 L737.3,326.4 L736.4,328.3 L735.4,330.0 L734.2,331.7 L732.9,333.3 L731.4,334.9 L729.8,336.3 L728.1,337.6 L726.2,338.7 L724.3,339.8 L722.2,340.7 L720.1,341.4 L717.9,342.1 L715.7,342.5 L713.4,342.8 L711.1,343.0 L708.8,343.0 L706.5,342.8 L704.3,342.5 L702.0,342.0 L699.8,341.4 L697.7,340.7 L695.7,339.7 L693.7,338.7" fill="none" stroke="#333" stroke-width="1.1" stroke-dasharray="5 3"/>
<path d="M259.2,372.8 L261.3,371.1 L263.7,370.7 L266.0,369.8 L268.4,369.2 L270.8,369.2 L273.0,370.2 L275.2,371.0 L276.8,372.9 L278.3,374.8 L279.9,376.7 L280.5,379.4 L281.5,381.8 L281.2,384.7 L281.2,387.5 L280.6,390.3 L280.1,393.2 L278.7,395.7 L277.3,398.1 L275.6,400.4 L273.8,402.5 L271.6,403.9 L269.4,405.3 L267.1,406.7 L264.6,406.8 L262.2,406.9 L260.2,405.7 L258.0,405.0 L256.3,403.4 L254.2,402.3 L253.0,400.0 L252.0,397.7 L251.4,395.1 L250.9,392.5 L250.8,389.8 L250.9,386.9 L251.1,384.0 L252.3,381.3 L254.0,378.9 L255.5,376.5 L257.5,374.6" fill="none" stroke="#111" stroke-width="2.4" stroke-linecap="round"/>
<path d="M259.5,373.0 L261.3,372.7 L263.0,371.6 L264.9,372.3 L266.8,372.2 L268.6,373.2 L270.3,374.7 L272.0,375.6 L273.5,377.3 L274.7,379.2 L275.9,381.1 L277.2,383.1 L277.5,385.5 L278.2,387.8 L278.6,390.1 L278.6,392.5 L278.1,394.8 L278.0,397.2 L276.9,399.1 L276.3,401.3 L275.0,402.9 L273.3,404.0 L271.9,405.2 L270.2,406.1 L268.6,407.1 L266.7,407.1 L264.8,407.0 L262.9,407.1 L261.2,405.7 L259.4,404.7 L257.7,403.5 L256.3,401.8 L255.1,399.9 L253.9,398.0 L252.5,396.1 L251.8,393.8 L251.1,391.5" fill="none" stroke="#111" stroke-width="2.1" stroke-linecap="round"/>
<path d="M281.3,382.0 L281.9,384.8 L281.8,387.7 L282.0,390.6 L281.2,393.3 L280.5,396.1 L279.3,398.6 L277.5,400.8 L275.8,403.0 L273.7,404.7 L271.4,406.1 L268.8,406.9 L266.3,407.4 L263.7,407.7 L261.1,407.4 L258.6,406.4 L256.1,405.6 L254.1,403.7 L252.3,401.8 L250.5,399.7 L249.2,397.3 L248.5,394.6 L247.6,391.9 L247.4,389.0 L247.8,386.2 L248.4,383.4 L249.8,380.9 L251.0,378.3 L252.7,376.2 L254.8,374.4 L256.9,372.7" fill="none" stroke="#111" stroke-width="1.9" stroke-linecap="round"/>
<path d="M263.6,398.5 L262.8,397.9 L262.1,397.3 L261.3,396.9 L260.7,396.2 L260.0,395.6 L259.4,394.8 L258.8,394.1 L258.5,393.1 L258.0,392.2 L257.6,391.3 L257.4,390.3 L257.2,389.3 L257.1,388.3 L257.2,387.3 L257.2,386.3 L257.3,385.4 L257.3,384.3 L257.6,383.4 L258.1,382.6 L258.3,381.6 L259.0,381.0 L259.5,380.2 L260.0,379.4 L260.6,378.8" fill="none" stroke="#111" stroke-width="1.7" stroke-linecap="round"/>
<path d="M253.2,405.7 L251.5,403.9 L250.1,401.9 L248.8,399.7 L247.7,397.3 L246.9,394.9 L246.4,392.3 L246.1,389.7 L246.0,387.1 L246.2,384.4 L246.7,381.9 L247.5,379.4 L248.4,377.0 L249.6,374.8 L251.1,372.7 L252.7,370.8 L254.5,369.2 L256.4,367.8 L258.5,366.7 L260.7,365.8 L262.9,365.3 L265.2,365.0 L267.5,365.1 L269.8,365.4 L272.0,366.1" fill="none" stroke="#333" stroke-width="1.1" stroke-dasharray="5 3"/>
<path d="M370.4,369.9 L372.7,367.4 L375.3,365.2 L377.9,362.8 L381.3,361.5 L384.8,360.8 L388.3,360.2 L391.8,360.1 L395.2,360.7 L398.7,361.3 L401.4,363.1 L404.0,364.9 L406.3,367.1 L408.1,369.6 L410.2,372.1 L410.1,375.3 L410.8,378.3 L410.8,381.5 L409.4,384.5 L407.6,387.2 L406.3,390.3 L403.8,392.8 L400.3,394.1 L397.3,395.9 L394.0,397.3 L390.5,398.3 L387.0,398.0 L383.4,398.1 L380.2,396.7 L376.8,395.9 L374.3,393.7 L371.9,391.6 L369.5,389.4 L367.9,386.6 L367.0,383.6 L367.1,380.4 L367.5,377.3 L368.0,374.1 L369.5,371.2 L371.2,368.3 L373.7,365.8" fill="none" stroke="#111" stroke-width="2.4" stroke-linecap="round"/>
<path d="M388.6,395.4 L386.4,395.3 L384.3,394.2 L382.0,394.0 L380.1,392.9 L378.1,391.9 L376.6,390.4 L374.7,389.2 L373.4,387.4 L373.2,385.2 L371.9,383.4 L372.1,381.4 L372.1,379.4 L372.1,377.4 L372.2,375.3 L372.7,373.3 L374.6,371.9 L375.7,370.2 L377.5,369.0 L378.9,367.4 L380.9,366.5 L383.0,365.8 L385.1,365.4 L387.3,364.8 L389.6,364.8 L391.7,365.7 L393.8,366.2 L396.0,366.9 L397.9,368.0 L399.8,369.2 L400.9,371.1 L402.4,372.7 L403.2,374.6 L404.2,376.5 L403.9,378.6 L404.1,380.6 L403.8,382.6" fill="none" stroke="#111" stroke-width="2.1" stroke-linecap="round"/>
<path d="M404.7,392.9 L403.0,394.4 L400.7,395.3 L398.3,396.2 L396.0,397.1 L393.4,397.5 L390.8,397.8 L388.2,397.7 L385.6,397.6 L382.9,397.9 L380.4,396.9 L378.0,396.0 L375.6,395.2 L373.2,394.3 L370.8,393.3 L369.4,391.4 L367.2,390.1 L366.0,388.2 L364.8,386.4 L363.5,384.5 L363.2,382.5 L363.0,380.5 L362.4,378.5 L362.4,376.4 L362.8,374.4 L363.9,372.6 L364.2,370.5 L365.5,368.7 L366.8,367.0 L368.9,365.7 L370.6,364.1" fill="none" stroke="#111" stroke-width="1.9" stroke-linecap="round"/>
<path d="M401.1,399.5 L400.0,400.0 L398.9,400.4 L397.7,400.8 L396.6,401.1 L395.4,401.4 L394.2,401.6 L393.0,401.8 L391.7,401.9 L390.5,402.0 L389.3,402.0 L388.0,402.0 L386.8,401.9 L385.6,401.8 L384.4,401.7 L383.2,401.5 L382.0,401.2 L380.8,400.9 L379.6,400.6 L378.5,400.2 L377.4,399.8 L376.3,399.3 L375.2,398.8 L374.1,398.2 L373.1,397.6" fill="none" stroke="#333" stroke-width="1.1" stroke-dasharray="5 3"/>
<path d="M515.7,389.1 L514.1,392.0 L511.9,394.5 L509.4,396.9 L506.4,398.7 L502.7,399.4 L499.1,400.3 L495.4,400.0 L491.7,399.5 L487.8,399.2 L484.6,397.0 L481.6,394.8 L478.7,392.7 L475.9,390.2 L474.7,386.9 L472.7,383.8 L472.3,380.5 L472.0,377.1 L473.3,374.0 L474.5,371.0 L476.1,368.2 L478.1,365.6 L480.8,363.4 L484.2,362.2 L487.2,360.5 L490.9,360.0 L494.6,360.0 L498.4,360.2 L502.2,360.8 L505.3,363.1 L509.0,364.4 L511.3,367.3 L514.1,369.8 L515.2,373.1 L517.6,376.1 L517.6,379.5 L518.4,382.9 L516.8,386.0 L515.9,389.2 L514.5,392.2 L511.7,394.3" fill="none" stroke="#111" stroke-width="2.4" stroke-linecap="round"/>
<path d="M483.0,391.0 L481.1,389.0 L480.3,386.6 L479.3,384.3 L479.4,381.8 L479.0,379.3 L479.2,376.9 L480.1,374.6 L481.6,372.6 L483.2,370.9 L485.0,369.3 L487.4,368.4 L489.4,366.9 L491.9,366.4 L494.6,366.5 L497.2,366.4 L499.8,367.2 L502.3,368.2 L504.6,369.5 L507.0,370.8 L508.9,372.6 L510.5,374.7 L511.5,377.1 L513.0,379.3 L513.5,381.7 L513.9,384.2 L513.7,386.6 L513.5,389.1 L511.8,391.0 L510.8,393.1 L509.6,395.2 L507.4,396.6 L505.0,397.4 L502.8,398.6 L500.4,399.3 L497.6,398.8 L495.0,399.0" fill="none" stroke="#111" stroke-width="2.1" stroke-linecap="round"/>
<path d="M491.9,401.3 L488.6,400.0 L485.6,398.1 L482.5,396.3 L480.7,393.3 L478.0,391.0 L476.5,387.9 L475.7,384.6 L474.6,381.4 L474.8,378.0 L475.1,374.8 L475.7,371.5 L477.7,368.8 L479.5,366.1 L481.5,363.5 L484.4,361.8 L487.1,359.9 L490.3,358.5 L493.7,358.1 L497.2,358.1 L500.7,357.9 L504.2,358.7 L507.5,360.0 L510.5,361.9 L513.5,363.8 L515.9,366.3 L517.4,369.4 L519.2,372.3 L520.1,375.5 L520.6,378.8 L521.0,382.0" fill="none" stroke="#111" stroke-width="1.9" stroke-linecap="round"/>
<path d="M509.1,359.3 L510.3,359.9 L511.5,360.6 L512.7,361.4 L513.8,362.2 L514.8,363.1 L515.9,364.0 L516.8,364.9 L517.7,365.9 L518.5,367.0 L519.3,368.0 L520.0,369.1 L520.6,370.3 L521.1,371.4 L521.6,372.6 L522.1,373.8 L522.4,375.0 L522.7,376.3 L522.8,377.5 L523.0,378.7 L523.0,380.0 L523.0,381.2 L522.8,382.5 L522.7,383.7 L522.4,385.0" fill="none" stroke="#333" stroke-width="1.1" stroke-dasharray="5 3"/>
<path d="M629.3,387.4 L626.6,390.0 L623.6,392.3 L620.8,395.0 L616.8,396.5 L612.8,397.8 L608.7,398.2 L604.7,398.3 L600.8,398.1 L597.3,397.1 L593.6,396.2 L590.9,394.3 L588.1,392.4 L586.9,389.6 L585.8,386.9 L585.4,384.0 L585.1,381.0 L587.0,378.0 L588.3,374.9 L591.1,372.4 L593.6,369.7 L597.2,367.8 L600.6,365.5 L604.7,364.8 L608.7,363.4 L612.9,363.3 L616.8,363.7 L620.8,364.0 L623.8,365.8 L627.1,367.2 L629.3,369.4 L630.9,372.0 L631.5,374.9 L632.5,377.6 L632.0,380.6 L631.3,383.6 L630.3,386.8 L627.3,389.3 L624.9,392.0 L621.5,394.3 L617.6,395.7" fill="none" stroke="#111" stroke-width="2.4" stroke-linecap="round"/>
<path d="M601.1,397.0 L598.5,395.6 L596.0,394.2 L594.1,392.3 L591.4,390.8 L590.5,388.5 L588.9,386.5 L588.0,384.3 L587.1,382.1 L587.1,379.8 L587.8,377.8 L588.0,375.6 L589.1,373.7 L591.5,372.7 L592.9,370.9 L595.2,369.9 L597.6,369.2 L600.2,368.7 L603.0,368.7 L605.7,368.6 L608.6,369.2 L611.5,369.8 L614.2,371.0 L616.7,372.5 L618.6,374.5 L620.9,376.2 L622.4,378.3 L623.7,380.5 L624.9,382.7 L624.3,384.9 L624.7,387.2 L624.3,389.3 L623.7,391.3 L622.1,392.9 L621.2,395.0 L618.6,395.7 L616.5,396.9" fill="none" stroke="#111" stroke-width="2.1" stroke-linecap="round"/>
<path d="M628.8,393.1 L626.1,394.7 L623.8,396.6 L620.7,397.8 L617.4,398.7 L613.7,398.8 L610.1,399.2 L606.5,398.7 L602.8,398.6 L599.2,397.7 L595.9,396.4 L593.3,394.3 L590.5,392.6 L588.1,390.6 L586.3,388.3 L585.3,385.9 L583.9,383.4 L584.1,380.9 L584.2,378.4 L585.4,376.2 L586.4,373.8 L588.6,371.9 L590.9,370.2 L593.3,368.4 L596.5,367.4 L599.6,366.2 L603.2,366.0 L606.8,365.8 L610.4,366.2 L614.0,366.7 L617.6,367.6" fill="none" stroke="#111" stroke-width="1.9" stroke-linecap="round"/>
<path d="M580.9,386.3 L580.3,384.1 L580.0,381.9 L580.1,379.7 L580.4,377.5 L581.1,375.4 L582.0,373.3 L583.3,371.2 L584.9,369.3 L586.7,367.6 L588.8,365.9 L591.1,364.5 L593.6,363.2 L596.3,362.1 L599.1,361.3 L602.0,360.6 L605.0,360.2 L608.1,360.0 L611.1,360.1 L614.1,360.3 L617.1,360.8 L620.0,361.6 L622.8,362.5 L625.4,363.7 L627.8,365.0" fill="none" stroke="#333" stroke-width="1.1" stroke-dasharray="5 3"/>
<path d="M714.9,402.0 L711.1,401.8 L707.4,402.1 L703.8,401.9 L700.1,401.2 L696.7,399.7 L694.1,397.3 L691.6,394.9 L689.0,392.5 L688.0,389.1 L687.0,385.9 L685.9,382.6 L686.6,379.1 L687.0,375.7 L688.1,372.4 L689.7,369.3 L692.1,366.5 L694.6,363.9 L697.5,361.8 L701.0,360.5 L704.2,358.3 L708.0,358.6 L711.6,357.8 L715.3,358.1 L718.8,359.2 L721.9,360.7 L724.8,362.7 L727.7,364.6 L729.8,367.3 L731.8,370.1 L732.7,373.4 L734.1,376.5 L733.8,380.0 L732.7,383.4 L732.2,386.8 L731.3,390.3 L728.1,392.5 L726.3,395.6 L723.6,398.3 L720.0,399.5 L716.6,401.1" fill="none" stroke="#111" stroke-width="2.4" stroke-linecap="round"/>
<path d="M692.2,370.7 L694.7,369.0 L696.8,367.0 L699.1,365.3 L701.7,364.2 L704.5,362.8 L707.5,362.9 L710.5,362.5 L713.4,363.5 L716.1,364.6 L719.0,365.6 L720.9,367.8 L723.7,369.2 L725.3,371.7 L726.1,374.5 L726.9,377.1 L727.8,379.9 L727.7,382.7 L726.9,385.5 L725.3,387.9 L724.5,390.7 L722.1,392.5 L720.3,394.8 L717.8,396.3 L715.2,397.9 L712.2,398.3 L709.2,398.0 L706.1,398.9 L703.2,398.1 L700.4,397.0 L698.1,395.1 L695.3,393.9 L693.5,391.6 L691.6,389.4 L690.0,387.0 L689.2,384.2 L689.9,381.3" fill="none" stroke="#111" stroke-width="2.1" stroke-linecap="round"/>
<path d="M696.6,402.5 L693.4,401.4 L691.2,399.1 L688.9,397.0 L686.3,395.0 L684.9,392.3 L684.0,389.4 L683.8,386.3 L683.7,383.2 L683.8,380.2 L684.0,377.0 L685.7,374.0 L687.1,371.0 L689.8,368.6 L692.1,366.1 L694.9,363.8 L697.8,361.8 L701.4,360.9 L704.6,359.1 L708.2,358.8 L711.8,358.9 L715.3,358.6 L718.7,359.2 L722.1,360.0 L725.3,361.1 L727.8,363.2 L730.4,365.1 L732.2,367.6 L734.2,370.1 L734.7,373.1 L736.0,375.9" fill="none" stroke="#111" stroke-width="1.9" stroke-linecap="round"/>
<path d="M716.0,391.0 L714.1,391.9 L712.1,392.6 L709.9,392.7 L707.7,392.9 L705.6,392.7 L703.4,392.5 L701.6,391.4 L699.6,390.6 L698.0,389.3 L696.5,387.9 L695.0,386.5 L694.1,384.8 L693.5,382.9 L693.1,381.1 L692.5,379.2 L692.9,377.3 L693.1,375.4 L694.0,373.6 L694.9,371.9 L696.1,370.3 L697.4,368.8 L699.2,367.6 L701.2,366.8 L703.1,366.0" fill="none" stroke="#111" stroke-width="1.7" stroke-linecap="round"/>
<path d="M713.4,405.8 L710.5,406.0 L707.7,405.9 L704.9,405.6 L702.1,405.0 L699.4,404.2 L696.8,403.1 L694.3,401.9 L692.0,400.4 L689.8,398.7 L687.9,396.8 L686.2,394.8 L684.7,392.6 L683.4,390.3 L682.4,387.9 L681.7,385.5 L681.2,383.0 L681.0,380.4 L681.1,377.8 L681.5,375.3 L682.1,372.8 L683.1,370.4 L684.2,368.1 L685.7,365.9 L687.3,363.8" fill="none" stroke="#333" stroke-width="1.1" stroke-dasharray="5 3"/>
<path d="M265.4,413.9 L267.8,414.4 L269.8,415.7 L271.9,417.0 L273.5,418.7 L275.4,420.2 L276.4,422.6 L277.3,424.9 L277.8,427.4 L277.9,430.1 L278.0,432.7 L277.2,435.3 L276.2,437.8 L274.9,440.1 L273.5,442.3 L271.8,444.4 L269.4,445.3 L267.3,447.1 L264.9,447.8 L262.4,447.9 L260.0,447.7 L257.6,447.4 L255.5,446.2 L253.4,445.0 L251.5,443.5 L250.1,441.4 L249.3,438.9 L248.7,436.4 L247.5,434.0 L247.9,431.3 L247.9,428.6 L249.1,426.1 L249.9,423.6 L251.4,421.3 L252.8,419.0 L254.7,417.1 L257.1,416.0 L259.3,414.9 L261.8,414.5 L264.1,414.5 L266.6,414.0" fill="none" stroke="#111" stroke-width="2.4" stroke-linecap="round"/>
<path d="M275.8,439.3 L275.4,441.6 L274.0,442.9 L273.0,444.8 L271.4,445.4 L270.1,446.8 L268.5,446.9 L267.0,447.2 L265.4,447.8 L263.8,447.9 L262.3,447.1 L260.9,446.3 L259.6,445.1 L258.5,443.5 L257.7,441.6 L256.7,440.1 L256.2,438.0 L255.6,436.0 L255.5,433.8 L255.4,431.6 L255.8,429.4 L255.9,427.2 L256.7,425.2 L257.5,423.3 L258.7,421.8 L259.7,420.0 L261.0,418.6 L262.3,417.2 L263.9,416.7 L265.5,416.7 L267.0,416.3 L268.5,416.4 L270.1,416.5 L271.6,417.1 L273.0,418.1 L274.3,419.5 L275.4,421.1" fill="none" stroke="#111" stroke-width="2.1" stroke-linecap="round"/>
<path d="M248.6,427.6 L248.7,424.9 L249.9,422.4 L250.7,419.8 L251.9,417.3 L254.1,415.7 L256.0,413.9 L257.9,412.0 L260.3,410.9 L263.0,410.9 L265.5,410.6 L268.1,410.2 L270.6,410.9 L273.0,412.0 L275.3,413.3 L277.4,414.9 L279.1,416.9 L280.1,419.4 L281.2,421.8 L282.4,424.3 L282.9,427.0 L282.7,429.8 L281.9,432.4 L281.1,435.0 L279.9,437.4 L278.2,439.4 L276.7,441.7 L274.4,443.1 L272.2,444.5 L269.8,445.4 L267.2,445.8" fill="none" stroke="#111" stroke-width="1.9" stroke-linecap="round"/>
<path d="M243.8,436.9 L243.5,435.6 L243.3,434.4 L243.1,433.1 L243.0,431.9 L243.0,430.6 L243.1,429.3 L243.2,428.0 L243.4,426.8 L243.7,425.5 L244.0,424.3 L244.5,423.1 L244.9,422.0 L245.5,420.8 L246.1,419.7 L246.8,418.7 L247.5,417.7 L248.3,416.7 L249.2,415.8 L250.1,415.0 L251.0,414.2 L252.0,413.4 L253.1,412.8 L254.1,412.2 L255.3,411.6" fill="none" stroke="#333" stroke-width="1.1" stroke-dasharray="5 3"/>
<path d="M409.7,427.7 L410.5,430.3 L410.1,432.9 L408.4,435.3 L406.7,437.5 L405.4,440.0 L403.0,441.9 L399.9,443.2 L397.2,444.8 L393.8,445.3 L390.5,445.7 L387.1,446.1 L383.7,445.9 L380.6,444.9 L377.4,444.0 L375.4,441.9 L372.7,440.5 L370.9,438.3 L369.9,435.9 L367.9,433.7 L368.5,431.1 L368.5,428.5 L368.4,425.9 L369.6,423.4 L371.3,421.1 L374.1,419.3 L376.1,417.2 L379.5,416.3 L382.3,414.8 L385.6,413.9 L389.0,414.3 L392.3,414.5 L395.7,414.5 L399.0,415.3 L401.8,416.7 L404.6,418.2 L406.2,420.5 L407.8,422.7 L408.7,425.1 L409.5,427.6 L410.5,430.1" fill="none" stroke="#111" stroke-width="2.4" stroke-linecap="round"/>
<path d="M401.6,427.1 L401.5,429.0 L401.1,430.9 L400.6,432.8 L399.4,434.6 L398.4,436.5 L396.4,437.6 L394.8,439.0 L392.9,440.0 L391.0,441.1 L388.9,442.1 L386.8,442.7 L384.6,442.5 L382.5,442.0 L380.5,441.8 L378.5,441.3 L376.9,440.1 L375.0,439.3 L373.5,438.0 L372.9,436.2 L372.0,434.5 L371.3,432.8 L371.4,430.8 L371.8,428.9 L371.6,426.9 L372.3,425.0 L374.1,423.5 L374.9,421.5 L376.6,420.2 L378.5,419.1 L380.3,417.9 L382.3,417.0 L384.3,416.0 L386.5,416.0 L388.6,416.1 L390.7,416.1 L392.9,416.1" fill="none" stroke="#111" stroke-width="2.1" stroke-linecap="round"/>
<path d="M403.7,438.9 L401.7,440.7 L399.3,442.1 L396.8,443.4 L394.2,444.6 L391.5,445.2 L388.8,445.8 L386.0,446.5 L383.4,446.4 L380.9,446.1 L378.5,445.8 L376.3,445.0 L374.4,444.0 L372.2,443.2 L371.2,441.4 L369.5,440.2 L368.7,438.4 L368.2,436.5 L368.6,434.4 L368.4,432.4 L368.5,430.4 L369.9,428.3 L371.2,426.3 L372.2,424.2 L374.3,422.4 L376.0,420.5 L378.4,419.0 L380.5,417.2 L383.2,416.2 L385.9,415.3 L388.5,414.1" fill="none" stroke="#111" stroke-width="1.9" stroke-linecap="round"/>
<path d="M375.7,431.7 L375.7,430.8 L375.9,430.0 L376.4,429.1 L377.0,428.4 L377.4,427.6 L378.0,426.8 L378.6,426.1 L379.3,425.3 L380.4,425.0 L381.3,424.4 L382.4,424.0 L383.3,423.4 L384.5,423.2 L385.5,422.8 L386.6,422.6 L387.9,422.7 L389.0,422.4 L390.2,422.6 L391.3,422.7 L392.5,422.9 L393.7,423.0 L394.7,423.5 L395.7,423.9 L396.7,424.4" fill="none" stroke="#111" stroke-width="1.7" stroke-linecap="round"/>
<path d="M403.1,413.2 L404.8,414.1 L406.4,415.1 L407.9,416.3 L409.3,417.5 L410.5,418.8 L411.6,420.1 L412.6,421.5 L413.4,423.0 L414.0,424.5 L414.5,426.1 L414.8,427.7 L415.0,429.3 L415.0,430.9 L414.8,432.5 L414.5,434.1 L413.9,435.6 L413.3,437.1 L412.5,438.6 L411.5,440.0 L410.4,441.4 L409.1,442.7 L407.7,443.9 L406.2,445.0 L404.6,446.0" fill="none" stroke="#333" stroke-width="1.1" stroke-dasharray="5 3"/>
<path d="M483.7,420.3 L486.6,418.2 L490.0,416.9 L493.2,415.6 L496.5,414.1 L500.0,413.4 L503.6,413.1 L507.0,413.9 L510.0,415.2 L513.4,415.9 L515.5,418.2 L518.6,419.5 L520.4,422.0 L521.8,424.6 L522.8,427.5 L522.8,430.5 L523.1,433.6 L521.9,436.6 L520.4,439.4 L518.6,442.1 L516.3,444.6 L513.5,446.6 L510.7,448.5 L507.9,450.7 L504.3,451.2 L500.9,452.4 L497.3,452.7 L493.8,452.4 L490.6,451.4 L487.7,450.1 L485.0,448.5 L482.7,446.5 L480.2,444.6 L478.6,442.0 L477.3,439.3 L477.6,436.2 L476.9,433.2 L477.5,430.2 L479.4,427.4 L480.3,424.3 L482.8,421.8" fill="none" stroke="#111" stroke-width="2.4" stroke-linecap="round"/>
<path d="M506.3,448.3 L503.1,448.8 L500.0,449.3 L496.8,449.6 L494.1,448.7 L491.4,447.9 L488.6,447.1 L486.8,445.3 L485.0,443.5 L483.9,441.2 L483.1,438.8 L482.3,436.4 L482.2,433.8 L482.3,431.0 L483.8,428.3 L485.5,425.8 L487.4,423.3 L489.8,421.2 L492.3,419.1 L494.9,417.0 L498.2,416.5 L501.2,415.3 L504.4,414.5 L507.5,414.4 L510.4,414.9 L513.3,415.6 L516.0,416.6 L518.2,418.2 L519.3,420.6 L521.0,422.5 L522.4,424.7 L522.2,427.5 L521.7,430.2 L521.8,433.0 L520.0,435.5 L518.6,438.1 L517.1,440.7" fill="none" stroke="#111" stroke-width="2.1" stroke-linecap="round"/>
<path d="M488.1,450.8 L485.3,448.8 L483.1,446.3 L480.8,443.8 L478.8,441.1 L477.8,438.1 L478.0,434.9 L477.9,431.9 L478.3,428.8 L478.9,425.8 L480.7,423.2 L482.9,420.9 L485.1,418.6 L487.8,416.7 L490.8,415.1 L494.2,414.4 L497.7,413.7 L501.3,413.6 L504.8,414.0 L508.2,415.3 L511.7,416.1 L514.5,418.2 L517.2,420.3 L519.9,422.4 L521.6,425.2 L523.1,428.0 L524.5,430.9 L525.1,434.0 L524.7,437.0 L525.0,440.2 L523.8,443.1" fill="none" stroke="#111" stroke-width="1.9" stroke-linecap="round"/>
<path d="M506.7,447.0 L505.3,447.4 L503.9,447.7 L502.4,448.2 L500.8,447.9 L499.3,448.1 L497.7,447.9 L496.2,447.4 L494.7,446.9 L493.2,446.3 L491.8,445.6 L490.6,444.7 L489.2,443.9 L488.2,442.8 L487.3,441.7 L486.2,440.6 L485.6,439.4 L485.0,438.1 L484.4,436.8 L484.4,435.5 L484.4,434.2 L484.1,432.9 L484.3,431.7 L484.9,430.5 L485.6,429.4" fill="none" stroke="#111" stroke-width="1.7" stroke-linecap="round"/>
<path d="M486.7,412.8 L489.2,411.8 L491.7,411.0 L494.4,410.5 L497.1,410.1 L499.8,410.0 L502.5,410.1 L505.2,410.4 L507.9,410.9 L510.4,411.7 L512.9,412.6 L515.3,413.7 L517.5,415.0 L519.5,416.5 L521.4,418.2 L523.1,419.9 L524.5,421.9 L525.7,423.9 L526.7,426.0 L527.4,428.1 L527.8,430.3 L528.0,432.6 L527.9,434.8 L527.6,437.0 L527.0,439.2" fill="none" stroke="#333" stroke-width="1.1" stroke-dasharray="5 3"/>
<path d="M618.9,419.9 L621.7,422.3 L623.9,425.0 L625.6,428.0 L626.4,431.1 L626.4,434.2 L626.9,437.4 L625.9,440.3 L624.5,443.1 L623.1,445.9 L619.7,447.4 L617.4,449.8 L613.8,450.7 L610.5,452.1 L606.8,452.8 L602.9,451.9 L599.1,451.7 L595.3,450.6 L591.8,449.0 L588.9,446.8 L585.6,444.9 L582.9,442.4 L581.3,439.4 L580.4,436.3 L578.9,433.3 L579.4,430.2 L580.2,427.3 L580.7,424.2 L582.5,421.6 L584.6,419.2 L586.9,416.8 L590.4,415.6 L593.6,414.0 L597.5,414.1 L601.2,413.4 L605.0,414.6 L608.8,415.1 L612.6,416.0 L616.0,417.8 L619.2,419.8 L621.4,422.6" fill="none" stroke="#111" stroke-width="2.4" stroke-linecap="round"/>
<path d="M619.7,428.9 L620.5,431.4 L620.3,434.1 L618.9,436.6 L617.6,439.1 L616.0,441.4 L613.9,443.4 L612.1,445.8 L609.4,447.3 L606.4,448.0 L603.5,449.0 L600.5,449.5 L597.7,448.7 L594.6,448.9 L591.8,448.0 L589.9,446.1 L587.4,444.8 L585.7,442.7 L584.9,440.3 L583.5,438.0 L583.9,435.3 L583.9,432.7 L584.7,430.1 L585.7,427.5 L587.0,425.0 L589.2,422.9 L591.5,421.0 L593.9,419.1 L597.1,418.6 L600.0,417.8 L602.9,417.1 L605.8,417.6 L608.9,417.3 L611.3,418.8 L613.8,420.0 L615.9,421.7 L618.0,423.4" fill="none" stroke="#111" stroke-width="2.1" stroke-linecap="round"/>
<path d="M582.7,440.8 L581.4,438.3 L579.8,435.9 L578.9,433.4 L577.6,430.9 L578.0,428.4 L577.3,425.9 L578.3,423.6 L578.3,421.0 L579.7,419.0 L581.2,416.9 L583.4,415.5 L585.5,413.9 L587.6,412.4 L589.9,410.9 L592.9,410.4 L595.8,409.7 L599.1,410.2 L602.2,410.3 L605.3,410.8 L608.6,411.0 L611.5,412.4 L614.5,413.6 L617.6,414.9 L620.3,416.6 L622.4,418.8 L624.7,420.9 L626.4,423.2 L628.2,425.5 L629.2,428.1 L630.0,430.6" fill="none" stroke="#111" stroke-width="1.9" stroke-linecap="round"/>
<path d="M600.2,441.7 L598.7,441.5 L597.3,441.3 L595.9,440.9 L594.4,440.7 L593.2,440.1 L592.2,439.3 L591.1,438.5 L590.2,437.6 L589.5,436.6 L589.0,435.5 L588.6,434.4 L588.2,433.2 L588.1,431.9 L588.1,430.7 L588.3,429.4 L588.6,428.2 L589.0,426.9 L590.0,425.8 L590.9,424.7 L591.7,423.6 L592.9,422.7 L593.8,421.5 L595.2,420.8 L596.6,420.3" fill="none" stroke="#111" stroke-width="1.7" stroke-linecap="round"/>
<path d="M613.5,454.5 L610.5,455.2 L607.5,455.7 L604.4,456.0 L601.3,456.0 L598.2,455.7 L595.2,455.2 L592.3,454.4 L589.5,453.3 L586.8,452.1 L584.3,450.6 L582.1,448.9 L580.1,447.1 L578.3,445.1 L576.8,442.9 L575.6,440.6 L574.8,438.3 L574.2,435.9 L574.0,433.4 L574.1,430.9 L574.6,428.5 L575.3,426.1 L576.4,423.8 L577.8,421.6 L579.5,419.6" fill="none" stroke="#333" stroke-width="1.1" stroke-dasharray="5 3"/>
<path d="M721.2,457.6 L718.2,459.5 L715.6,461.9 L712.3,463.1 L709.1,463.9 L705.8,463.5 L702.5,463.5 L699.2,463.0 L696.3,461.0 L694.0,458.4 L691.5,456.0 L689.6,453.0 L688.4,449.5 L687.2,446.0 L686.8,442.2 L687.7,438.5 L688.2,434.8 L689.0,431.1 L691.2,428.1 L693.4,425.4 L695.4,422.2 L698.5,420.7 L701.4,418.5 L704.8,418.2 L708.1,418.6 L711.4,418.3 L714.4,419.8 L717.7,420.7 L720.3,423.0 L722.7,425.6 L723.9,429.2 L725.2,432.5 L727.0,435.8 L726.6,439.7 L726.5,443.4 L725.6,447.0 L724.6,450.5 L723.2,454.0 L721.4,457.4 L718.4,459.2 L715.5,461.1" fill="none" stroke="#111" stroke-width="2.4" stroke-linecap="round"/>
<path d="M692.3,426.8 L693.8,424.4 L696.2,423.4 L698.3,421.6 L700.7,421.3 L703.1,420.4 L705.6,419.7 L707.9,420.9 L710.2,421.6 L712.7,421.9 L714.7,423.7 L716.2,426.1 L717.9,428.0 L719.4,430.3 L720.5,432.8 L721.9,435.3 L722.3,438.3 L722.7,441.3 L722.2,444.3 L721.7,447.2 L720.6,449.9 L719.8,452.8 L718.1,455.1 L716.1,456.9 L714.5,459.2 L712.4,460.7 L710.2,462.0 L707.8,462.3 L705.4,462.7 L702.9,463.9 L700.6,462.8 L698.3,462.0 L696.2,460.6 L693.9,459.6 L691.8,458.0 L690.7,455.2 L689.1,453.1" fill="none" stroke="#111" stroke-width="2.1" stroke-linecap="round"/>
<path d="M718.2,462.2 L714.9,462.6 L711.7,463.4 L708.4,463.8 L705.0,463.7 L701.7,462.5 L698.6,461.2 L695.7,459.2 L693.1,456.8 L691.4,453.7 L689.1,451.1 L688.3,447.6 L687.5,444.2 L687.4,440.8 L687.6,437.4 L687.6,433.9 L689.3,430.8 L691.2,428.1 L693.3,425.5 L695.4,422.8 L698.4,421.2 L701.4,419.6 L704.8,419.6 L708.1,419.3 L711.4,419.4 L714.6,420.3 L717.7,421.7 L720.6,423.5 L723.5,425.4 L725.4,428.3 L727.3,431.3" fill="none" stroke="#111" stroke-width="1.9" stroke-linecap="round"/>
<path d="M689.3,460.0 L688.3,459.0 L687.5,457.8 L686.6,456.7 L685.9,455.4 L685.2,454.2 L684.5,452.9 L684.0,451.5 L683.5,450.2 L683.1,448.8 L682.7,447.3 L682.4,445.9 L682.2,444.4 L682.1,443.0 L682.0,441.5 L682.0,440.0 L682.1,438.6 L682.3,437.1 L682.5,435.7 L682.8,434.2 L683.2,432.8 L683.6,431.4 L684.1,430.1 L684.7,428.7 L685.4,427.4" fill="none" stroke="#333" stroke-width="1.1" stroke-dasharray="5 3"/>
<path d="M280.8,491.3 L282.1,493.9 L282.3,496.8 L281.4,499.5 L281.7,502.5 L280.4,505.1 L279.0,507.6 L276.7,509.5 L274.7,511.5 L272.4,513.4 L269.6,514.5 L266.5,514.8 L263.6,515.4 L260.5,515.4 L257.6,514.6 L254.8,513.3 L252.0,512.2 L250.3,509.7 L248.1,507.8 L246.3,505.5 L245.5,502.7 L244.0,500.2 L244.5,497.3 L244.0,494.5 L245.0,491.8 L246.0,489.2 L247.2,486.6 L249.4,484.7 L251.3,482.7 L253.6,480.8 L256.3,479.5 L259.4,479.5 L262.3,479.1 L265.3,478.9 L268.1,480.1 L271.1,480.4 L273.4,482.5 L275.9,483.9 L277.8,486.2 L279.1,488.7 L280.3,491.2" fill="none" stroke="#111" stroke-width="2.4" stroke-linecap="round"/>
<path d="M274.9,497.8 L274.6,500.0 L274.0,502.1 L273.1,504.1 L271.9,506.0 L270.2,507.2 L268.6,508.5 L266.9,509.6 L265.1,510.4 L263.3,511.3 L261.3,511.3 L259.4,511.4 L257.7,510.6 L255.7,510.5 L253.9,509.7 L252.8,507.9 L251.2,506.8 L250.3,504.9 L249.5,503.0 L248.5,501.2 L248.3,499.1 L247.6,497.1 L247.9,494.9 L248.1,492.7 L248.5,490.5 L250.0,488.8 L251.0,486.9 L252.3,485.3 L253.6,483.6 L255.0,482.0 L256.9,481.1 L258.7,480.5 L260.6,479.8 L262.5,480.1 L264.4,480.5 L266.3,480.4 L267.8,481.7" fill="none" stroke="#111" stroke-width="2.1" stroke-linecap="round"/>
<path d="M277.8,504.0 L276.3,505.6 L274.8,507.2 L273.6,509.0 L271.8,510.4 L270.0,511.6 L267.9,512.3 L265.8,513.0 L263.6,513.7 L261.4,513.8 L259.1,514.0 L256.9,513.3 L254.7,513.1 L252.6,512.3 L250.6,511.2 L249.0,509.8 L247.0,508.7 L245.6,507.1 L244.0,505.6 L242.9,503.7 L241.9,501.8 L241.6,499.7 L241.0,497.6 L240.5,495.6 L240.4,493.4 L240.5,491.2 L241.2,489.2 L242.3,487.3 L243.2,485.4 L244.4,483.6 L245.7,481.8" fill="none" stroke="#111" stroke-width="1.9" stroke-linecap="round"/>
<path d="M250.9,503.2 L250.1,501.1 L249.2,499.0 L249.4,496.8 L249.7,494.5 L250.2,492.3 L251.2,490.2 L252.6,488.3 L254.4,486.8 L256.4,485.5 L258.6,484.4 L260.9,483.5 L263.3,483.6 L265.6,483.8 L268.0,483.9 L270.1,485.0 L271.9,486.4 L273.5,487.9 L275.2,489.5 L276.0,491.5 L276.2,493.8 L276.7,496.0 L276.2,498.2 L275.6,500.4 L274.6,502.5" fill="none" stroke="#111" stroke-width="1.7" stroke-linecap="round"/>
<path d="M285.8,503.9 L284.8,506.2 L283.5,508.4 L282.0,510.4 L280.3,512.3 L278.3,513.9 L276.2,515.4 L273.9,516.6 L271.4,517.6 L268.8,518.3 L266.2,518.8 L263.5,519.0 L260.9,518.9 L258.2,518.6 L255.6,517.9 L253.1,517.1 L250.7,515.9 L248.5,514.5 L246.5,513.0 L244.6,511.2 L243.0,509.2 L241.7,507.1 L240.6,504.9 L239.8,502.5 L239.2,500.1" fill="none" stroke="#333" stroke-width="1.1" stroke-dasharray="5 3"/>
<path d="M370.8,502.9 L369.7,500.0 L369.7,497.0 L370.7,494.1 L371.2,491.1 L372.7,488.5 L374.5,486.1 L376.1,483.4 L378.5,481.4 L381.4,480.2 L384.3,479.0 L387.2,477.9 L390.4,477.6 L393.4,478.1 L396.3,479.2 L399.1,480.3 L401.7,481.7 L404.5,483.0 L406.2,485.5 L408.0,487.9 L408.8,490.7 L409.5,493.6 L409.5,496.5 L410.2,499.6 L409.0,502.4 L407.3,505.0 L406.3,507.9 L404.2,510.1 L401.8,512.2 L399.3,514.0 L396.3,515.1 L393.3,516.2 L390.2,516.6 L387.1,515.9 L384.0,515.6 L381.2,514.2 L378.6,512.8 L376.2,511.0 L373.9,509.0 L372.6,506.4 L371.4,503.7" fill="none" stroke="#111" stroke-width="2.4" stroke-linecap="round"/>
<path d="M398.5,483.0 L401.0,484.2 L403.8,484.9 L406.0,486.6 L407.2,488.9 L408.6,491.1 L409.2,493.6 L409.6,496.1 L410.1,498.6 L409.9,501.3 L408.1,503.5 L406.9,505.9 L405.5,508.3 L403.0,509.8 L400.9,511.9 L398.0,512.6 L395.3,513.5 L392.4,513.6 L389.6,513.6 L386.7,513.3 L384.2,512.3 L381.5,511.4 L379.9,509.3 L377.6,507.7 L376.0,505.6 L375.5,503.0 L375.1,500.5 L375.2,498.0 L375.6,495.5 L375.8,492.8 L377.3,490.5 L379.5,488.6 L381.3,486.4 L383.6,484.7 L386.3,483.7 L389.1,483.1 L391.9,482.3" fill="none" stroke="#111" stroke-width="2.1" stroke-linecap="round"/>
<path d="M407.5,480.8 L409.1,483.4 L411.1,485.6 L412.1,488.5 L413.0,491.3 L413.7,494.2 L413.5,497.2 L413.8,500.3 L412.7,503.2 L411.7,506.1 L410.0,508.7 L407.9,510.9 L405.5,512.9 L402.9,514.4 L400.2,515.9 L397.2,516.7 L394.2,516.7 L391.1,517.0 L388.1,516.5 L385.2,515.7 L382.4,514.5 L379.8,512.8 L377.6,510.8 L375.5,508.5 L373.9,506.0 L373.3,503.0 L372.5,500.1 L372.2,497.1 L372.2,494.2 L372.1,491.1 L373.5,488.3" fill="none" stroke="#111" stroke-width="1.9" stroke-linecap="round"/>
<path d="M395.3,485.7 L397.2,486.4 L398.6,487.8 L400.2,489.0 L400.9,490.7 L401.8,492.4 L402.6,494.1 L402.7,496.0 L402.6,497.8 L402.0,499.5 L401.4,501.2 L400.2,502.7 L399.0,504.1 L397.5,505.1 L395.9,506.2 L394.0,506.5 L392.1,506.8 L390.1,506.9 L388.2,506.8 L386.3,506.3 L384.6,505.2 L382.7,504.5 L381.3,503.1 L380.2,501.5 L379.4,499.8" fill="none" stroke="#111" stroke-width="1.7" stroke-linecap="round"/>
<path d="M401.5,476.6 L403.9,477.9 L406.2,479.5 L408.3,481.3 L410.1,483.4 L411.7,485.6 L413.0,487.9 L413.9,490.4 L414.6,493.0 L415.0,495.6 L415.0,498.2 L414.7,500.8 L414.0,503.4 L413.1,505.9 L411.8,508.3 L410.3,510.5 L408.4,512.5 L406.4,514.4 L404.1,516.0 L401.7,517.3 L399.1,518.4 L396.3,519.2 L393.5,519.8 L390.7,520.0 L387.8,519.9" fill="none" stroke="#333" stroke-width="1.1" stroke-dasharray="5 3"/>
<path d="M513.9,511.8 L510.8,513.1 L507.3,513.8 L503.8,514.4 L500.2,514.9 L496.5,515.2 L492.8,514.4 L489.8,512.5 L486.5,511.4 L483.6,509.6 L481.2,507.5 L479.5,505.1 L477.4,502.8 L476.0,500.1 L476.2,497.3 L476.6,494.6 L477.4,492.0 L478.7,489.5 L479.5,486.7 L482.3,484.9 L484.5,482.6 L487.5,481.0 L491.2,480.5 L494.6,479.7 L498.2,479.2 L501.9,478.8 L505.6,479.3 L508.9,480.7 L512.2,481.8 L515.2,483.6 L517.9,485.4 L520.5,487.5 L521.6,490.2 L523.6,492.7 L524.4,495.5 L524.1,498.3 L524.2,501.1 L523.1,503.8 L520.6,505.9 L519.5,508.7 L516.2,510.2" fill="none" stroke="#111" stroke-width="2.4" stroke-linecap="round"/>
<path d="M479.5,507.7 L477.8,505.4 L477.0,502.8 L476.9,500.0 L476.5,497.3 L477.0,494.6 L477.8,491.8 L478.8,488.9 L481.2,486.6 L483.5,484.2 L486.8,482.8 L489.8,481.2 L492.9,479.6 L496.4,479.2 L499.7,479.1 L503.0,479.5 L506.1,480.1 L509.2,480.9 L511.9,482.3 L513.9,484.3 L515.8,486.4 L516.7,489.0 L517.0,491.7 L517.9,494.3 L517.0,497.1 L516.2,499.9 L514.5,502.5 L512.4,504.9 L509.8,507.0 L507.2,509.0 L504.2,510.5 L500.8,511.5 L497.5,512.1 L494.1,512.8 L490.9,512.1 L487.4,512.3 L484.8,510.7" fill="none" stroke="#111" stroke-width="2.1" stroke-linecap="round"/>
<path d="M520.7,505.6 L518.6,507.9 L515.7,509.6 L512.7,511.4 L509.4,512.6 L505.8,513.5 L502.1,513.8 L498.4,513.7 L494.8,513.2 L491.3,512.5 L487.9,511.4 L484.8,509.8 L481.8,508.2 L479.4,506.0 L478.1,503.4 L475.9,501.1 L475.0,498.3 L474.5,495.5 L474.2,492.7 L475.6,490.0 L476.2,487.3 L477.9,484.8 L479.4,482.2 L482.4,480.5 L485.0,478.4 L488.3,477.2 L491.4,475.6 L495.0,475.1 L498.6,474.5 L502.3,474.9 L506.0,474.8" fill="none" stroke="#111" stroke-width="1.9" stroke-linecap="round"/>
<path d="M505.4,490.3 L506.4,491.0 L507.8,491.2 L508.7,491.9 L509.6,492.6 L510.7,493.2 L511.4,494.0 L512.1,494.8 L513.1,495.5 L513.7,496.4 L513.8,497.3 L514.3,498.2 L514.4,499.1 L514.7,500.0 L514.4,500.9 L514.4,501.8 L514.2,502.7 L513.9,503.5 L513.4,504.3 L512.9,505.1 L512.4,505.9 L511.6,506.6 L510.7,507.2 L509.7,507.7 L508.5,507.9" fill="none" stroke="#111" stroke-width="1.7" stroke-linecap="round"/>
<path d="M501.0,519.0 L498.8,519.0 L496.6,518.8 L494.3,518.6 L492.2,518.2 L490.0,517.7 L488.0,517.0 L486.0,516.3 L484.1,515.4 L482.2,514.4 L480.5,513.3 L478.9,512.1 L477.5,510.8 L476.1,509.5 L474.9,508.1 L473.9,506.6 L473.0,505.0 L472.3,503.4 L471.7,501.8 L471.3,500.1 L471.1,498.4 L471.0,496.7 L471.1,495.0 L471.4,493.3 L471.9,491.7" fill="none" stroke="#333" stroke-width="1.1" stroke-dasharray="5 3"/>
<path d="M589.2,483.1 L592.4,482.4 L595.3,480.9 L598.8,481.3 L602.1,481.4 L605.6,481.2 L608.8,482.1 L611.8,483.4 L614.5,485.1 L616.8,487.0 L618.7,489.2 L619.8,491.6 L620.1,494.2 L621.3,496.6 L621.2,499.2 L620.5,501.8 L618.4,503.9 L616.8,506.0 L615.3,508.4 L612.6,509.9 L610.0,511.6 L606.9,512.7 L603.4,512.8 L600.1,513.2 L596.7,512.9 L593.4,512.3 L590.5,511.0 L587.4,509.9 L585.4,507.8 L582.5,506.3 L580.9,504.0 L579.6,501.6 L579.2,499.0 L579.4,496.5 L579.4,494.0 L580.0,491.4 L581.5,489.1 L583.8,487.3 L586.1,485.5 L588.4,483.7 L591.4,482.6" fill="none" stroke="#111" stroke-width="2.4" stroke-linecap="round"/>
<path d="M586.0,486.6 L588.1,484.9 L590.3,483.3 L592.8,482.3 L595.4,481.8 L597.9,481.5 L600.5,481.8 L603.1,481.7 L605.2,483.1 L607.7,483.9 L609.8,485.4 L611.2,487.4 L612.4,489.6 L613.4,491.9 L614.0,494.4 L613.8,497.0 L613.5,499.5 L612.2,501.8 L610.5,503.9 L609.4,506.2 L607.4,508.1 L605.3,509.7 L602.8,510.7 L600.2,511.2 L597.6,511.2 L595.0,511.9 L592.5,511.2 L589.9,510.6 L587.9,509.0 L585.8,507.6 L584.2,505.6 L582.8,503.5 L582.4,501.0 L581.6,498.6 L582.1,496.1 L582.9,493.7 L583.5,491.2" fill="none" stroke="#111" stroke-width="2.1" stroke-linecap="round"/>
<path d="M602.4,513.5 L600.0,513.3 L597.6,513.5 L595.3,512.9 L592.9,512.6 L591.0,511.4 L588.6,510.8 L587.3,509.2 L585.5,508.0 L584.3,506.4 L583.4,504.8 L582.3,503.1 L581.1,501.5 L581.3,499.5 L581.0,497.6 L581.1,495.7 L581.8,493.8 L582.3,491.9 L583.6,490.2 L584.6,488.4 L586.1,486.8 L587.4,485.0 L589.3,483.6 L591.3,482.4 L593.5,481.4 L595.7,480.4 L598.1,479.8 L600.6,479.8 L603.0,479.4 L605.5,479.0 L608.0,479.1" fill="none" stroke="#111" stroke-width="1.9" stroke-linecap="round"/>
<path d="M604.1,477.3 L605.5,477.5 L606.9,477.7 L608.3,478.0 L609.6,478.4 L610.9,478.9 L612.2,479.3 L613.5,479.9 L614.7,480.5 L615.8,481.1 L616.9,481.8 L618.0,482.6 L619.0,483.4 L620.0,484.2 L620.8,485.0 L621.7,485.9 L622.4,486.9 L623.1,487.8 L623.7,488.8 L624.3,489.9 L624.8,490.9 L625.2,492.0 L625.5,493.0 L625.7,494.1 L625.9,495.2" fill="none" stroke="#333" stroke-width="1.1" stroke-dasharray="5 3"/>
<path d="M721.8,506.5 L721.1,509.9 L719.1,512.7 L716.5,514.7 L714.4,517.4 L711.1,518.1 L708.2,520.0 L704.9,520.3 L701.6,519.7 L698.3,518.8 L695.5,516.9 L692.3,515.7 L690.4,512.8 L688.0,510.4 L686.0,507.4 L685.2,504.0 L685.4,500.5 L684.8,497.0 L685.5,493.6 L687.1,490.7 L688.4,487.5 L690.8,485.1 L693.5,483.2 L696.3,481.5 L699.6,480.8 L702.8,480.4 L706.1,479.8 L709.3,481.2 L712.5,482.1 L715.1,484.4 L717.5,486.8 L719.3,489.6 L721.9,492.2 L722.8,495.6 L723.6,499.1 L723.1,502.5 L721.9,505.7 L720.9,508.9 L719.1,511.7 L717.5,514.7 L714.9,516.8" fill="none" stroke="#111" stroke-width="2.4" stroke-linecap="round"/>
<path d="M705.6,513.6 L703.2,513.8 L700.8,514.4 L698.6,513.4 L696.1,513.3 L694.1,512.1 L692.3,510.7 L690.6,509.3 L688.6,508.1 L687.1,506.4 L686.8,504.2 L685.4,502.3 L685.4,500.2 L684.9,498.1 L684.9,495.9 L685.6,493.8 L686.9,492.0 L688.1,490.2 L688.9,488.0 L690.6,486.5 L692.5,485.1 L694.8,484.3 L697.2,484.0 L699.3,483.2 L701.6,482.4 L704.0,483.3 L706.3,483.4 L708.5,484.3 L711.0,484.5 L712.7,486.0 L714.3,487.6 L716.0,489.0 L717.2,490.8 L718.4,492.6 L719.3,494.6 L719.7,496.7 L719.3,498.9" fill="none" stroke="#111" stroke-width="2.1" stroke-linecap="round"/>
<path d="M704.3,480.0 L707.7,480.4 L710.5,482.1 L713.5,483.4 L716.0,485.5 L718.2,487.9 L720.1,490.6 L721.1,493.7 L721.4,496.9 L721.6,500.1 L721.4,503.3 L720.3,506.4 L719.1,509.4 L717.0,511.8 L715.0,514.5 L712.2,516.3 L709.2,517.6 L706.1,518.7 L702.9,519.8 L699.5,519.8 L696.2,519.3 L693.2,517.9 L690.0,516.9 L687.8,514.4 L685.2,512.4 L683.1,509.8 L682.3,506.6 L681.6,503.5 L681.2,500.4 L681.4,497.2 L681.5,494.0" fill="none" stroke="#111" stroke-width="1.9" stroke-linecap="round"/>
<path d="M680.3,503.5 L680.1,502.3 L680.0,501.1 L680.0,499.8 L680.0,498.6 L680.1,497.3 L680.3,496.1 L680.6,494.9 L680.9,493.7 L681.2,492.5 L681.6,491.3 L682.1,490.1 L682.7,489.0 L683.3,487.9 L683.9,486.9 L684.6,485.8 L685.4,484.9 L686.2,483.9 L687.1,483.0 L688.0,482.1 L688.9,481.3 L689.9,480.6 L690.9,479.9 L692.0,479.2 L693.1,478.6" fill="none" stroke="#333" stroke-width="1.1" stroke-dasharray="5 3"/>
<path d="M244.6,576.7 L241.5,574.5 L239.1,571.7 L236.8,568.8 L235.1,565.5 L235.0,562.0 L234.1,558.6 L235.0,555.3 L234.9,551.8 L235.9,548.4 L238.3,545.8 L241.0,543.7 L243.4,541.1 L246.9,540.1 L250.0,538.5 L253.7,538.4 L257.3,537.9 L261.0,537.9 L264.6,539.1 L268.1,540.6 L271.0,543.1 L273.7,545.5 L275.5,548.6 L278.1,551.3 L279.1,554.7 L279.6,558.1 L279.3,561.5 L279.2,564.9 L277.5,567.9 L276.0,570.8 L273.8,573.4 L271.6,576.0 L268.4,577.4 L265.5,579.6 L261.8,580.1 L258.1,580.7 L254.4,580.0 L250.9,578.7 L247.5,577.4 L243.9,576.2 L241.2,573.6" fill="none" stroke="#111" stroke-width="2.4" stroke-linecap="round"/>
<path d="M256.0,574.0 L252.8,572.8 L249.9,571.3 L246.8,570.0 L244.4,567.6 L241.8,565.4 L240.9,562.2 L239.9,559.3 L239.5,556.2 L239.5,553.2 L239.2,550.1 L240.3,547.2 L242.7,545.0 L244.8,543.0 L246.9,540.7 L249.9,539.7 L252.9,538.5 L256.1,537.9 L259.5,538.3 L262.6,539.5 L265.9,540.4 L268.6,542.4 L271.5,544.2 L273.3,547.0 L275.6,549.5 L276.6,552.6 L277.5,555.7 L277.0,558.8 L277.2,562.0 L275.8,564.7 L273.9,567.1 L272.3,569.7 L269.6,571.3 L266.7,572.5 L263.7,573.3 L260.7,574.4 L257.4,573.9" fill="none" stroke="#111" stroke-width="2.1" stroke-linecap="round"/>
<path d="M267.1,537.4 L269.9,538.8 L272.5,540.4 L274.6,542.6 L276.9,544.6 L278.4,547.1 L279.8,549.7 L280.6,552.4 L281.3,555.1 L281.7,557.9 L281.3,560.6 L281.2,563.3 L280.5,566.0 L279.1,568.4 L277.2,570.4 L275.2,572.2 L273.2,574.2 L270.8,575.6 L268.4,577.1 L265.4,577.6 L262.5,578.0 L259.5,578.2 L256.5,577.9 L253.5,577.3 L250.7,576.3 L247.9,574.9 L245.6,573.1 L243.3,571.2 L241.1,569.2 L238.9,567.1 L237.4,564.5" fill="none" stroke="#111" stroke-width="1.9" stroke-linecap="round"/>
<path d="M266.3,569.6 L265.2,570.4 L264.0,571.1 L262.7,571.6 L261.5,572.3 L260.1,572.5 L258.8,573.0 L257.4,573.1 L256.0,573.1 L254.6,572.9 L253.2,572.7 L251.9,572.1 L250.6,571.7 L249.3,571.1 L248.3,570.2 L247.1,569.6 L246.1,568.5 L245.0,567.6 L244.4,566.4 L243.8,565.2 L243.1,564.0 L243.0,562.6 L242.6,561.3 L242.4,560.0 L242.2,558.6" fill="none" stroke="#111" stroke-width="1.7" stroke-linecap="round"/>
<path d="M251.6,534.5 L253.2,534.2 L254.8,534.1 L256.4,534.0 L258.0,534.0 L259.6,534.1 L261.2,534.3 L262.7,534.5 L264.3,534.9 L265.8,535.3 L267.3,535.8 L268.8,536.3 L270.2,537.0 L271.6,537.7 L272.9,538.5 L274.2,539.3 L275.5,540.2 L276.6,541.2 L277.7,542.2 L278.8,543.3 L279.8,544.4 L280.6,545.6 L281.5,546.8 L282.2,548.1 L282.9,549.4" fill="none" stroke="#333" stroke-width="1.1" stroke-dasharray="5 3"/>
<path d="M367.7,564.5 L366.7,561.7 L367.9,558.8 L368.2,555.9 L370.2,553.4 L371.7,550.7 L373.6,548.0 L376.9,546.8 L379.4,544.6 L382.9,544.3 L386.0,542.6 L389.4,542.4 L392.7,543.1 L395.9,543.6 L398.8,544.9 L401.3,546.7 L403.8,548.4 L405.8,550.6 L407.8,552.9 L407.9,555.9 L408.9,558.6 L408.7,561.6 L408.2,564.5 L407.4,567.4 L405.5,570.0 L403.2,572.2 L401.3,574.8 L398.2,576.3 L395.0,577.4 L391.9,578.6 L388.5,579.5 L385.3,578.6 L381.9,578.9 L378.8,577.8 L376.1,576.3 L373.7,574.5 L371.5,572.6 L369.5,570.3 L368.3,567.7 L367.3,565.0 L367.4,562.1" fill="none" stroke="#111" stroke-width="2.4" stroke-linecap="round"/>
<path d="M394.3,549.7 L397.1,550.9 L399.9,552.2 L401.8,554.3 L403.7,556.4 L404.5,558.9 L405.8,561.3 L405.2,563.9 L405.4,566.5 L403.9,568.8 L402.4,571.0 L400.5,573.1 L398.1,574.7 L395.4,575.9 L392.4,576.8 L389.3,577.5 L386.1,577.3 L383.1,576.2 L379.8,575.9 L377.7,573.9 L375.3,572.2 L372.7,570.6 L371.7,568.1 L371.0,565.7 L370.4,563.2 L370.2,560.6 L370.5,558.1 L372.6,556.0 L374.1,553.9 L376.3,552.2 L378.8,550.7 L381.4,549.4 L384.4,548.6 L387.5,548.0 L390.7,548.5 L393.8,549.1 L396.6,550.4" fill="none" stroke="#111" stroke-width="2.1" stroke-linecap="round"/>
<path d="M368.8,565.9 L367.9,563.7 L366.7,561.7 L365.9,559.5 L366.0,557.3 L365.7,555.2 L366.5,553.2 L366.9,551.2 L367.8,549.3 L368.7,547.4 L369.9,545.7 L371.9,544.5 L373.4,542.9 L375.5,542.0 L377.7,541.0 L379.9,540.2 L382.6,540.3 L385.0,539.7 L387.7,540.3 L390.3,540.6 L392.9,541.4 L395.4,542.3 L398.0,543.0 L400.1,544.6 L402.2,546.0 L404.3,547.6 L406.4,549.2 L407.8,551.2 L409.2,553.2 L410.8,555.1 L411.3,557.3" fill="none" stroke="#111" stroke-width="1.9" stroke-linecap="round"/>
<path d="M376.9,561.8 L377.2,560.0 L377.2,558.2 L378.1,556.6 L379.0,555.0 L379.9,553.5 L381.4,552.3 L382.9,551.1 L384.7,550.4 L386.5,549.6 L388.6,549.5 L390.6,549.3 L392.7,549.5 L394.7,550.2 L396.7,550.8 L398.5,551.9 L400.1,553.2 L401.4,554.7 L402.9,556.1 L404.0,557.7 L404.5,559.6 L404.7,561.4 L404.9,563.2 L404.6,565.0 L404.0,566.7" fill="none" stroke="#111" stroke-width="1.7" stroke-linecap="round"/>
<path d="M391.7,539.2 L392.8,539.4 L394.0,539.6 L395.1,539.8 L396.2,540.1 L397.2,540.4 L398.3,540.8 L399.4,541.2 L400.4,541.7 L401.4,542.1 L402.3,542.6 L403.3,543.2 L404.2,543.8 L405.1,544.4 L405.9,545.1 L406.7,545.7 L407.5,546.5 L408.3,547.2 L409.0,548.0 L409.6,548.8 L410.2,549.6 L410.8,550.4 L411.3,551.3 L411.8,552.2 L412.3,553.1" fill="none" stroke="#333" stroke-width="1.1" stroke-dasharray="5 3"/>
<path d="M508.7,546.3 L510.8,548.9 L513.3,551.0 L514.8,554.0 L515.1,557.3 L516.4,560.5 L515.5,563.7 L515.1,566.8 L514.5,570.1 L512.8,572.9 L510.3,574.9 L508.1,577.1 L505.5,578.8 L502.4,579.6 L499.2,579.9 L496.1,579.4 L493.1,578.5 L490.2,577.4 L487.4,576.0 L484.9,573.8 L483.1,571.1 L481.4,568.2 L480.4,565.1 L479.8,561.8 L480.1,558.5 L480.2,555.2 L481.6,552.3 L482.9,549.3 L484.9,546.7 L487.5,544.8 L490.3,543.3 L493.4,542.4 L496.5,542.1 L499.6,542.5 L502.6,543.4 L505.8,544.0 L508.3,546.1 L510.9,548.0 L512.9,550.7 L514.5,553.5 L515.4,556.7" fill="none" stroke="#111" stroke-width="2.4" stroke-linecap="round"/>
<path d="M506.2,551.5 L507.7,553.2 L508.9,555.1 L509.7,557.3 L510.3,559.5 L510.4,561.9 L510.5,564.2 L509.7,566.4 L509.0,568.6 L508.2,570.7 L506.8,572.3 L505.6,574.3 L503.7,575.3 L501.9,576.5 L500.0,577.2 L497.9,577.4 L495.9,577.2 L493.8,577.1 L491.8,576.7 L489.8,576.1 L488.4,574.2 L486.4,573.2 L485.0,571.4 L484.0,569.3 L483.5,567.0 L483.2,564.8 L482.3,562.5 L483.0,560.3 L483.2,558.0 L483.4,555.6 L484.6,553.7 L485.8,551.7 L487.2,550.1 L489.2,549.2 L490.9,547.9 L492.9,547.6 L494.9,546.9" fill="none" stroke="#111" stroke-width="2.1" stroke-linecap="round"/>
<path d="M484.9,548.5 L486.4,546.8 L488.2,545.1 L490.3,544.0 L492.2,542.6 L494.5,541.9 L496.8,541.4 L499.2,540.9 L501.5,541.4 L503.8,541.6 L506.2,541.9 L508.4,542.7 L510.6,543.5 L512.4,545.0 L513.7,546.9 L515.8,548.2 L516.7,550.3 L517.5,552.4 L518.7,554.4 L519.0,556.6 L519.4,558.9 L519.1,561.2 L518.4,563.4 L517.9,565.7 L517.0,567.8 L515.7,569.7 L514.4,571.7 L512.5,573.1 L510.7,574.6 L508.7,575.7 L506.5,576.6" fill="none" stroke="#111" stroke-width="1.9" stroke-linecap="round"/>
<path d="M496.2,538.1 L497.9,538.0 L499.6,538.1 L501.2,538.2 L502.9,538.5 L504.5,538.9 L506.1,539.5 L507.6,540.1 L509.1,540.9 L510.6,541.7 L511.9,542.7 L513.2,543.8 L514.4,544.9 L515.6,546.2 L516.6,547.5 L517.5,548.9 L518.4,550.3 L519.1,551.8 L519.7,553.4 L520.2,555.0 L520.6,556.6 L520.8,558.3 L521.0,560.0 L521.0,561.6 L520.9,563.3" fill="none" stroke="#333" stroke-width="1.1" stroke-dasharray="5 3"/>
<path d="M596.1,551.1 L600.1,551.6 L603.8,553.1 L607.5,554.4 L610.5,556.6 L613.7,558.6 L616.2,561.1 L618.5,563.8 L619.1,566.8 L620.8,569.7 L620.0,572.6 L619.9,575.5 L618.8,578.2 L617.4,580.8 L614.8,582.8 L611.5,584.0 L608.7,585.7 L604.9,586.0 L601.3,586.6 L597.4,586.1 L593.4,585.9 L589.9,584.1 L586.5,582.2 L583.4,580.2 L580.0,578.1 L578.5,575.2 L577.0,572.3 L575.7,569.4 L575.1,566.4 L575.1,563.3 L577.2,561.0 L578.4,558.4 L580.2,555.9 L583.1,554.2 L586.1,552.7 L589.6,551.8 L593.5,552.0 L597.2,552.1 L601.0,552.6 L604.8,553.5 L608.2,555.2" fill="none" stroke="#111" stroke-width="2.4" stroke-linecap="round"/>
<path d="M577.6,571.4 L577.9,569.1 L577.9,566.9 L577.8,564.6 L578.7,562.5 L579.3,560.2 L580.9,558.2 L582.5,556.4 L584.5,554.8 L586.7,553.7 L588.6,551.8 L591.2,551.3 L593.6,550.3 L596.1,550.8 L598.6,550.5 L601.0,550.8 L603.1,551.8 L605.1,552.8 L607.5,553.4 L609.2,555.0 L610.7,556.7 L611.3,558.9 L612.2,560.9 L612.4,563.1 L612.3,565.4 L611.7,567.6 L611.5,569.9 L610.2,572.0 L609.1,574.1 L607.0,575.6 L605.3,577.4 L603.2,578.7 L601.2,580.4 L598.7,581.1 L596.2,581.5 L593.7,582.2 L591.3,581.9" fill="none" stroke="#111" stroke-width="2.1" stroke-linecap="round"/>
<path d="M616.5,579.0 L614.2,581.0 L610.9,582.1 L607.5,583.0 L603.6,583.0 L599.8,583.0 L595.8,582.5 L591.8,581.2 L588.0,579.8 L584.6,577.6 L581.3,575.4 L578.9,572.7 L576.6,570.0 L575.1,567.0 L574.2,564.1 L574.5,561.3 L574.8,558.5 L575.6,555.8 L577.9,553.8 L580.0,551.8 L582.6,550.0 L586.2,549.3 L589.9,548.7 L593.8,548.7 L597.8,549.0 L601.8,550.4 L605.6,551.9 L609.4,553.6 L612.2,556.2 L615.3,558.5 L617.4,561.3" fill="none" stroke="#111" stroke-width="1.9" stroke-linecap="round"/>
<path d="M594.9,548.1 L597.9,548.0 L600.9,548.1 L603.8,548.5 L606.7,549.0 L609.5,549.8 L612.1,550.9 L614.6,552.1 L616.9,553.5 L619.0,555.1 L620.8,556.8 L622.4,558.7 L623.7,560.7 L624.8,562.8 L625.5,565.0 L625.9,567.2 L626.0,569.4 L625.8,571.6 L625.2,573.8 L624.4,576.0 L623.3,578.0 L621.9,580.0 L620.2,581.8 L618.2,583.5 L616.1,585.1" fill="none" stroke="#333" stroke-width="1.1" stroke-dasharray="5 3"/>
<path d="M727.3,571.0 L726.5,574.6 L726.5,578.4 L724.5,581.3 L722.7,584.3 L720.8,587.3 L717.9,589.1 L714.8,590.5 L711.7,591.8 L708.3,592.2 L705.0,591.4 L701.8,590.3 L698.4,589.7 L695.4,587.8 L692.9,585.2 L691.2,582.0 L688.8,579.2 L688.2,575.5 L686.7,572.1 L686.8,568.4 L687.1,564.7 L688.7,561.5 L689.8,558.2 L691.4,555.0 L694.3,553.1 L697.0,551.3 L699.7,549.4 L702.8,547.9 L706.2,547.9 L709.5,548.8 L712.7,549.9 L716.2,550.5 L719.1,552.5 L721.5,555.2 L723.2,558.5 L725.5,561.4 L725.8,565.1 L726.6,568.6 L726.9,572.2 L727.1,576.0 L725.1,579.0" fill="none" stroke="#111" stroke-width="2.4" stroke-linecap="round"/>
<path d="M699.2,585.9 L697.4,583.8 L696.2,581.5 L694.4,579.5 L693.7,576.8 L693.1,574.0 L693.3,571.1 L694.1,568.3 L694.7,565.4 L696.5,563.0 L698.3,560.8 L700.3,558.7 L702.6,556.9 L705.2,555.9 L707.8,554.9 L710.5,555.3 L713.3,555.0 L715.8,555.8 L717.9,557.5 L719.6,559.4 L721.7,561.0 L723.1,563.4 L724.3,565.8 L724.3,568.7 L724.5,571.6 L724.0,574.4 L722.6,577.0 L721.6,579.8 L719.8,582.0 L717.6,583.9 L715.4,585.6 L712.9,586.8 L710.3,588.0 L707.6,588.1 L705.0,587.6 L702.7,586.7 L700.0,586.2" fill="none" stroke="#111" stroke-width="2.1" stroke-linecap="round"/>
<path d="M731.0,576.5 L729.6,579.3 L728.2,581.9 L726.9,584.6 L724.7,586.7 L722.5,588.6 L720.2,590.7 L717.5,592.1 L714.6,593.0 L711.5,593.1 L708.5,593.7 L705.5,593.4 L702.6,592.6 L699.8,591.5 L697.2,590.0 L694.6,588.5 L692.5,586.3 L690.5,584.1 L688.9,581.5 L688.1,578.6 L687.0,575.7 L687.0,572.7 L686.6,569.7 L687.6,566.8 L688.2,563.9 L689.4,561.1 L691.0,558.5 L693.2,556.3 L695.3,554.1 L697.8,552.3 L700.7,551.1" fill="none" stroke="#111" stroke-width="1.9" stroke-linecap="round"/>
<path d="M713.9,577.7 L712.4,578.4 L710.8,578.8 L709.2,579.1 L707.6,579.1 L706.0,578.9 L704.4,578.5 L702.8,578.2 L701.5,577.2 L700.3,576.1 L698.8,575.2 L698.1,573.7 L697.2,572.3 L696.8,570.6 L696.3,569.1 L696.6,567.4 L696.6,565.7 L696.9,564.1 L697.8,562.7 L698.3,561.1 L699.5,560.0 L700.6,558.7 L702.1,558.0 L703.6,557.3 L705.1,556.8" fill="none" stroke="#111" stroke-width="1.7" stroke-linecap="round"/>
<path d="M713.0,544.8 L715.7,545.6 L718.3,546.8 L720.7,548.2 L722.9,550.0 L725.0,552.0 L726.8,554.2 L728.4,556.6 L729.7,559.2 L730.7,561.9 L731.5,564.7 L731.9,567.6 L732.0,570.5 L731.8,573.4 L731.3,576.2 L730.4,579.0 L729.3,581.7 L727.9,584.2 L726.3,586.6 L724.4,588.7 L722.2,590.6 L719.9,592.3 L717.4,593.6 L714.8,594.7 L712.1,595.4" fill="none" stroke="#333" stroke-width="1.1" stroke-dasharray="5 3"/>
<path d="M244.2,640.2 L243.1,637.2 L241.3,634.7 L240.5,631.8 L239.5,628.8 L240.1,625.8 L241.4,623.1 L242.3,620.3 L244.5,618.1 L246.2,615.6 L249.1,614.2 L251.9,612.7 L254.8,611.4 L258.1,611.0 L261.4,611.4 L264.7,611.5 L267.7,612.8 L270.8,613.9 L273.0,616.3 L275.9,617.9 L277.4,620.7 L278.4,623.6 L279.4,626.4 L280.1,629.4 L279.2,632.2 L279.4,635.4 L277.3,637.8 L275.8,640.3 L273.3,642.2 L271.0,644.3 L268.4,646.1 L264.9,646.3 L261.7,646.7 L258.4,647.0 L255.1,646.5 L252.2,645.0 L249.3,643.6 L246.4,642.0 L244.5,639.5 L243.0,636.9 L240.9,634.4" fill="none" stroke="#111" stroke-width="2.4" stroke-linecap="round"/>
<path d="M264.9,645.9 L262.0,645.8 L259.2,645.2 L256.4,644.4 L253.9,643.2 L251.6,641.8 L249.2,640.5 L247.8,638.3 L245.7,636.4 L244.7,634.1 L245.1,631.7 L244.2,629.3 L245.0,627.0 L246.5,625.0 L247.5,622.8 L249.2,621.0 L251.3,619.5 L253.8,618.4 L256.2,617.4 L259.0,617.1 L261.8,616.5 L264.6,616.7 L267.4,617.5 L270.4,617.9 L272.9,619.3 L274.9,621.1 L277.0,622.8 L278.2,625.1 L279.7,627.2 L280.4,629.6 L280.1,632.0 L280.3,634.4 L279.1,636.6 L277.8,638.6 L276.5,640.6 L274.3,642.1 L272.5,643.9" fill="none" stroke="#111" stroke-width="2.1" stroke-linecap="round"/>
<path d="M245.1,616.5 L247.6,614.6 L250.2,612.8 L253.3,611.8 L256.5,611.1 L259.7,610.9 L262.9,611.2 L266.1,611.6 L269.0,613.2 L271.7,614.9 L274.3,616.7 L276.3,619.1 L278.4,621.5 L279.6,624.4 L279.9,627.5 L280.5,630.5 L280.7,633.6 L279.8,636.6 L278.9,639.6 L277.2,642.1 L275.0,644.3 L273.0,646.7 L270.4,648.6 L267.2,649.3 L264.2,650.5 L261.0,650.8 L257.8,650.7 L254.6,650.0 L251.6,648.9 L248.5,647.7 L246.0,645.7" fill="none" stroke="#111" stroke-width="1.9" stroke-linecap="round"/>
<path d="M274.8,627.4 L275.1,628.6 L274.8,629.9 L274.9,631.1 L274.8,632.4 L274.3,633.6 L273.7,634.8 L273.2,636.0 L272.4,637.1 L271.1,637.9 L270.4,639.1 L269.0,639.7 L267.8,640.6 L266.5,641.3 L265.0,641.6 L263.6,642.0 L262.2,642.6 L260.7,642.7 L259.2,642.8 L257.8,642.2 L256.4,642.2 L255.0,641.9 L253.6,641.5 L252.4,640.8 L251.5,639.9" fill="none" stroke="#111" stroke-width="1.7" stroke-linecap="round"/>
<path d="M280.1,642.0 L279.3,643.0 L278.4,643.9 L277.4,644.8 L276.3,645.7 L275.2,646.4 L274.1,647.2 L272.9,647.8 L271.7,648.4 L270.4,649.0 L269.2,649.5 L267.8,649.9 L266.5,650.2 L265.1,650.5 L263.7,650.8 L262.3,650.9 L260.9,651.0 L259.5,651.0 L258.1,650.9 L256.7,650.8 L255.3,650.6 L254.0,650.4 L252.6,650.0 L251.3,649.6 L250.0,649.2" fill="none" stroke="#333" stroke-width="1.1" stroke-dasharray="5 3"/>
<path d="M366.1,638.0 L364.7,635.2 L364.8,632.1 L364.6,629.1 L364.7,626.0 L365.8,622.9 L368.3,620.4 L370.6,617.9 L373.1,615.5 L376.1,613.6 L379.6,612.3 L383.2,611.6 L386.8,611.3 L390.6,610.8 L394.3,611.1 L397.5,612.6 L400.7,614.0 L402.6,616.6 L405.2,618.7 L406.4,621.5 L408.0,624.3 L408.0,627.4 L407.7,630.5 L407.1,633.6 L405.6,636.7 L402.7,638.9 L400.4,641.5 L397.2,643.2 L394.2,645.3 L390.6,646.1 L387.0,647.3 L383.3,647.0 L379.8,646.3 L376.0,646.3 L373.3,644.2 L370.5,642.5 L367.9,640.5 L366.6,637.7 L364.5,635.2 L364.0,632.1 L364.7,629.0" fill="none" stroke="#111" stroke-width="2.4" stroke-linecap="round"/>
<path d="M398.2,638.0 L396.6,639.9 L394.0,640.9 L391.5,642.1 L388.9,642.8 L386.2,643.8 L383.3,643.6 L380.5,643.3 L377.7,642.7 L375.0,642.0 L372.2,641.2 L370.3,639.4 L368.0,637.9 L366.8,635.8 L365.5,633.8 L365.1,631.5 L364.6,629.3 L364.4,627.0 L365.6,625.0 L366.2,622.8 L367.8,621.0 L369.6,619.2 L371.6,617.7 L374.0,616.6 L376.5,615.4 L379.4,615.3 L382.1,614.9 L385.0,615.0 L387.7,615.5 L390.7,615.8 L393.2,617.0 L395.7,618.3 L397.1,620.4 L398.7,622.2 L400.1,624.2 L401.1,626.3 L401.9,628.5" fill="none" stroke="#111" stroke-width="2.1" stroke-linecap="round"/>
<path d="M411.5,618.8 L411.5,621.3 L412.1,623.8 L410.9,626.4 L410.0,629.0 L408.5,631.5 L407.2,634.1 L404.6,636.2 L402.4,638.4 L399.7,640.2 L396.8,641.8 L394.0,643.7 L390.7,644.6 L387.5,645.3 L384.4,645.4 L381.1,645.9 L378.1,645.5 L375.4,644.6 L373.0,643.3 L370.9,641.9 L368.6,640.6 L367.0,638.7 L365.4,636.7 L364.4,634.4 L364.2,631.9 L364.7,629.2 L364.5,626.7 L365.7,624.1 L367.4,621.6 L368.9,619.1 L370.4,616.5" fill="none" stroke="#111" stroke-width="1.9" stroke-linecap="round"/>
<path d="M384.4,607.0 L386.9,607.0 L389.3,607.2 L391.8,607.5 L394.2,608.0 L396.5,608.7 L398.7,609.6 L400.9,610.6 L402.9,611.8 L404.7,613.1 L406.4,614.6 L408.0,616.2 L409.3,617.9 L410.5,619.7 L411.4,621.5 L412.1,623.5 L412.6,625.4 L412.9,627.5 L413.0,629.5 L412.8,631.5 L412.4,633.5 L411.8,635.4 L411.0,637.3 L409.9,639.2 L408.7,640.9" fill="none" stroke="#333" stroke-width="1.1" stroke-dasharray="5 3"/>
<path d="M488.9,622.3 L490.1,620.1 L491.7,618.0 L494.1,616.5 L496.1,614.7 L499.0,614.2 L501.5,613.1 L504.4,613.4 L507.2,612.7 L509.9,613.5 L512.4,614.7 L515.1,615.3 L517.4,616.8 L518.7,619.1 L521.0,620.7 L522.3,623.0 L522.5,625.5 L523.3,628.0 L523.1,630.5 L522.5,632.9 L521.4,635.2 L520.0,637.4 L518.7,639.7 L516.7,641.4 L514.4,643.0 L511.5,643.4 L509.0,644.6 L506.2,645.2 L503.5,644.7 L500.8,644.1 L497.9,644.2 L495.4,642.9 L493.1,641.4 L491.4,639.4 L489.7,637.5 L488.1,635.5 L487.9,632.9 L486.8,630.6 L486.8,628.0 L487.5,625.6 L487.8,623.1" fill="none" stroke="#111" stroke-width="2.4" stroke-linecap="round"/>
<path d="M493.5,630.7 L492.9,628.6 L492.7,626.5 L492.7,624.4 L493.4,622.4 L494.2,620.6 L495.9,619.1 L497.1,617.5 L498.8,616.2 L501.0,615.5 L502.8,614.2 L505.3,614.2 L507.6,614.3 L509.9,614.7 L512.3,614.9 L514.5,615.9 L516.8,616.7 L518.5,618.3 L520.0,620.1 L521.0,622.0 L521.9,623.9 L523.1,625.8 L523.3,627.9 L523.0,629.9 L522.5,631.9 L521.6,633.7 L520.8,635.7 L518.7,636.7 L517.1,638.0 L515.4,639.4 L513.0,639.7 L510.7,640.1 L508.4,640.2 L506.1,639.8 L503.7,639.5 L501.7,638.2 L499.4,637.3" fill="none" stroke="#111" stroke-width="2.1" stroke-linecap="round"/>
<path d="M494.1,645.5 L492.2,644.6 L490.6,643.4 L489.3,641.9 L487.6,640.7 L486.3,639.2 L485.8,637.3 L485.1,635.6 L484.3,633.8 L484.4,631.9 L484.6,630.0 L484.9,628.2 L485.0,626.3 L485.6,624.4 L486.6,622.6 L488.0,621.0 L489.2,619.4 L490.9,618.0 L492.9,617.0 L494.7,615.9 L496.6,614.7 L498.7,614.0 L501.0,613.7 L503.2,613.4 L505.4,613.5 L507.5,613.8 L509.7,614.0 L511.8,614.6 L513.9,615.1 L515.8,616.0 L517.5,617.2" fill="none" stroke="#111" stroke-width="1.9" stroke-linecap="round"/>
<path d="M528.0,629.1 L528.0,630.3 L527.8,631.4 L527.6,632.6 L527.3,633.7 L527.0,634.9 L526.6,636.0 L526.1,637.1 L525.5,638.1 L524.8,639.1 L524.1,640.1 L523.3,641.1 L522.5,642.0 L521.6,642.9 L520.6,643.7 L519.6,644.5 L518.5,645.2 L517.4,645.8 L516.3,646.4 L515.1,647.0 L513.8,647.5 L512.6,647.9 L511.3,648.2 L510.0,648.5 L508.7,648.7" fill="none" stroke="#333" stroke-width="1.1" stroke-dasharray="5 3"/>
<path d="M591.3,624.4 L594.7,622.6 L598.4,621.0 L602.5,620.6 L606.5,620.5 L610.5,620.6 L613.9,621.8 L617.6,622.6 L620.1,624.5 L623.3,625.8 L624.9,628.3 L626.6,630.5 L627.7,633.1 L628.5,635.7 L628.6,638.5 L627.4,641.3 L625.9,644.0 L624.1,646.6 L622.7,649.5 L619.8,651.8 L616.4,653.7 L612.3,654.6 L608.6,655.9 L604.8,657.4 L600.8,656.8 L597.0,656.9 L593.0,656.9 L589.1,656.3 L585.9,654.9 L583.1,653.1 L581.4,650.6 L579.0,648.6 L577.4,646.1 L576.7,643.3 L576.6,640.4 L577.5,637.5 L578.6,634.7 L580.5,632.0 L583.1,629.6 L585.7,627.2 L588.5,624.8" fill="none" stroke="#111" stroke-width="2.4" stroke-linecap="round"/>
<path d="M618.0,634.7 L618.6,637.5 L619.9,640.2 L620.4,643.0 L619.0,645.2 L619.4,648.1 L617.5,650.0 L616.2,652.2 L613.3,653.1 L611.2,654.5 L608.4,655.3 L605.4,655.6 L602.4,656.1 L599.1,655.8 L595.8,654.8 L592.6,653.7 L589.9,651.5 L587.1,649.7 L584.6,647.6 L582.1,645.4 L580.4,642.7 L578.9,640.0 L578.3,637.2 L578.4,634.6 L578.4,631.9 L579.1,629.4 L580.7,627.4 L582.3,625.4 L584.2,623.6 L586.8,622.4 L590.0,622.2 L593.0,621.9 L595.9,621.2 L599.2,621.6 L602.4,623.0 L605.7,623.6 L608.7,625.3" fill="none" stroke="#111" stroke-width="2.1" stroke-linecap="round"/>
<path d="M579.1,632.6 L581.9,629.8 L585.8,627.8 L589.2,625.4 L593.4,623.8 L597.7,622.3 L602.1,621.9 L606.4,621.7 L610.6,622.2 L614.8,622.5 L618.0,624.2 L621.5,625.6 L623.3,628.2 L625.9,630.3 L626.2,633.3 L627.3,636.0 L627.3,639.1 L625.6,642.2 L624.1,645.2 L621.5,648.0 L618.3,650.5 L615.4,653.2 L611.3,654.9 L607.2,656.7 L602.7,657.2 L598.4,657.9 L594.1,658.0 L589.8,657.9 L586.4,656.4 L583.1,655.0 L579.9,653.4" fill="none" stroke="#111" stroke-width="1.9" stroke-linecap="round"/>
<path d="M606.0,625.2 L608.8,625.5 L611.5,626.2 L614.1,627.2 L616.5,628.4 L618.6,629.8 L620.3,631.5 L621.8,633.3 L623.0,635.1 L623.5,637.1 L623.3,639.0 L623.0,640.9 L622.4,642.7 L621.8,644.6 L619.9,645.9 L618.4,647.4 L616.2,648.6 L613.7,649.3 L611.0,649.7 L608.3,650.1 L605.4,650.0 L602.5,649.9 L599.8,649.0 L597.1,648.2 L594.7,647.0" fill="none" stroke="#111" stroke-width="1.7" stroke-linecap="round"/>
<path d="M581.8,623.0 L583.1,622.1 L584.5,621.4 L585.9,620.7 L587.4,620.0 L588.9,619.4 L590.5,618.9 L592.1,618.4 L593.8,618.0 L595.5,617.7 L597.2,617.4 L598.9,617.2 L600.7,617.1 L602.4,617.0 L604.2,617.0 L605.9,617.1 L607.7,617.2 L609.4,617.5 L611.1,617.8 L612.8,618.1 L614.4,618.5 L616.0,619.0 L617.6,619.6 L619.1,620.2 L620.6,620.9" fill="none" stroke="#333" stroke-width="1.1" stroke-dasharray="5 3"/>
<path d="M682.3,649.4 L679.8,646.9 L678.6,644.0 L678.8,641.1 L678.1,638.2 L679.3,635.3 L680.2,632.5 L682.5,630.0 L684.9,627.4 L688.0,625.3 L692.0,623.9 L696.1,622.8 L700.4,622.2 L704.8,622.4 L709.3,622.0 L713.4,623.3 L717.5,624.3 L721.4,625.7 L724.3,627.9 L727.8,629.8 L729.6,632.6 L731.8,635.2 L731.1,638.3 L731.9,641.2 L731.1,644.1 L730.1,646.9 L728.2,649.6 L725.5,652.0 L722.8,654.3 L718.6,655.5 L714.6,656.7 L710.6,657.9 L706.1,658.1 L701.8,657.6 L697.2,657.7 L693.5,655.9 L689.9,654.3 L686.0,652.8 L682.7,650.7 L680.4,648.1 L678.8,645.3" fill="none" stroke="#111" stroke-width="2.4" stroke-linecap="round"/>
<path d="M716.2,652.8 L712.5,653.6 L708.5,653.8 L704.6,653.9 L700.8,653.4 L696.8,652.9 L693.3,651.6 L690.6,649.5 L687.2,648.0 L685.1,645.7 L683.9,643.2 L682.4,640.7 L682.5,638.1 L682.4,635.4 L683.7,633.0 L685.2,630.6 L687.1,628.4 L689.9,626.6 L693.4,625.4 L697.0,624.5 L700.6,623.6 L704.5,623.5 L708.4,624.3 L712.2,624.6 L715.7,625.9 L719.2,627.2 L721.6,629.3 L724.1,631.4 L725.8,633.7 L727.0,636.2 L727.9,638.8 L728.1,641.4 L727.0,643.9 L725.5,646.3 L723.6,648.5 L720.6,650.2 L717.6,651.7" fill="none" stroke="#111" stroke-width="2.1" stroke-linecap="round"/>
<path d="M730.6,642.0 L731.1,644.2 L731.9,646.6 L731.6,648.7 L731.0,650.8 L730.7,653.0 L729.5,654.9 L728.1,656.6 L726.4,658.1 L724.5,659.6 L722.4,660.8 L719.9,661.7 L717.2,662.4 L714.5,662.9 L711.4,662.8 L708.4,662.8 L705.2,662.1 L702.1,661.5 L699.0,660.9 L695.9,660.1 L693.1,658.5 L689.9,657.5 L687.6,655.4 L685.0,653.7 L682.7,651.7 L680.2,649.8 L679.2,647.3 L677.6,645.1 L676.1,642.8 L675.5,640.5 L675.0,638.2" fill="none" stroke="#111" stroke-width="1.9" stroke-linecap="round"/>
<path d="M702.8,654.4 L700.9,654.3 L699.1,653.7 L697.2,653.4 L695.6,652.4 L693.8,651.8 L692.7,650.5 L691.2,649.6 L689.4,648.7 L688.7,647.3 L687.9,646.0 L686.9,644.7 L686.2,643.4 L685.6,642.1 L685.3,640.7 L685.3,639.3 L685.2,637.9 L685.4,636.5 L686.0,635.3 L686.3,633.9 L687.0,632.7 L687.9,631.6 L688.9,630.4 L690.3,629.6 L691.8,628.8" fill="none" stroke="#111" stroke-width="1.7" stroke-linecap="round"/>
<path d="M735.0,632.3 L735.5,633.4 L736.0,634.5 L736.4,635.6 L736.6,636.7 L736.8,637.9 L737.0,639.0 L737.0,640.2 L736.9,641.3 L736.8,642.4 L736.6,643.6 L736.3,644.7 L735.9,645.8 L735.4,646.9 L734.8,648.0 L734.2,649.1 L733.4,650.1 L732.6,651.1 L731.7,652.1 L730.8,653.0 L729.8,653.9 L728.7,654.8 L727.5,655.6 L726.3,656.4 L725.0,657.2" fill="none" stroke="#333" stroke-width="1.1" stroke-dasharray="5 3"/>
<path d="M239.1,698.7 L240.6,695.2 L241.9,691.6 L244.3,688.7 L247.3,686.5 L249.7,683.5 L253.1,681.9 L256.7,680.9 L260.4,681.4 L264.0,681.0 L267.2,682.9 L270.7,683.9 L273.5,686.2 L276.2,688.6 L278.1,691.7 L279.8,694.9 L280.6,698.6 L281.4,702.3 L281.0,706.1 L279.6,709.6 L278.1,713.0 L276.2,716.1 L273.8,719.0 L271.0,721.3 L267.8,723.2 L264.5,724.7 L260.8,725.5 L257.2,724.5 L253.8,723.8 L250.3,722.7 L247.7,720.3 L244.5,718.4 L242.9,715.1 L240.6,712.2 L239.4,708.6 L239.1,704.9 L238.4,701.1 L240.0,697.5 L241.6,694.2 L243.3,690.9 L245.4,688.0" fill="none" stroke="#111" stroke-width="2.4" stroke-linecap="round"/>
<path d="M276.3,691.6 L278.0,693.6 L278.7,696.1 L280.1,698.3 L280.2,700.9 L280.3,703.4 L279.8,705.9 L278.7,708.2 L277.9,710.6 L276.8,712.9 L274.3,714.1 L272.6,716.0 L270.3,717.2 L267.9,718.2 L265.5,719.3 L262.8,719.5 L260.2,718.9 L257.5,719.0 L254.9,718.4 L252.9,716.5 L250.8,715.0 L248.4,713.8 L246.5,711.9 L245.5,709.6 L244.6,707.2 L244.0,704.8 L243.6,702.3 L243.4,699.7 L244.3,697.3 L245.0,694.9 L246.6,692.8 L247.8,690.5 L249.8,688.8 L252.1,687.5 L254.5,686.5 L257.0,685.7 L259.5,684.5" fill="none" stroke="#111" stroke-width="2.1" stroke-linecap="round"/>
<path d="M234.5,705.5 L234.1,702.7 L234.9,699.8 L234.9,696.9 L236.1,694.3 L237.4,691.7 L239.1,689.3 L240.6,686.8 L243.0,685.1 L245.3,683.4 L247.9,682.2 L250.6,681.1 L253.4,680.6 L256.2,680.1 L259.0,680.3 L261.8,680.8 L264.6,681.3 L267.1,682.6 L269.9,683.5 L271.9,685.6 L274.5,687.0 L275.9,689.6 L277.4,692.0 L278.9,694.5 L279.5,697.3 L280.5,700.0 L280.3,702.9 L280.7,705.8 L279.4,708.5 L278.5,711.2 L278.0,714.1" fill="none" stroke="#111" stroke-width="1.9" stroke-linecap="round"/>
<path d="M257.8,728.9 L255.5,728.6 L253.2,728.1 L250.9,727.4 L248.8,726.5 L246.7,725.3 L244.8,724.1 L242.9,722.6 L241.2,721.0 L239.7,719.2 L238.3,717.3 L237.1,715.3 L236.1,713.2 L235.3,711.0 L234.6,708.7 L234.2,706.4 L234.0,704.0 L234.0,701.7 L234.3,699.4 L234.7,697.1 L235.3,694.8 L236.2,692.6 L237.2,690.5 L238.4,688.5 L239.8,686.6" fill="none" stroke="#333" stroke-width="1.1" stroke-dasharray="5 3"/>
<path d="M385.9,692.6 L388.9,695.2 L390.8,698.5 L393.2,701.4 L395.5,704.5 L395.2,708.2 L396.5,711.8 L395.8,715.3 L393.8,718.4 L392.1,721.5 L390.3,724.7 L387.3,727.0 L383.5,728.2 L380.2,730.1 L376.2,730.5 L372.3,731.5 L368.2,730.7 L364.5,729.1 L360.7,728.0 L357.7,725.6 L353.9,723.9 L351.4,720.9 L349.7,717.5 L349.4,713.9 L347.5,710.5 L348.5,707.0 L348.8,703.4 L350.0,700.0 L352.3,697.2 L355.4,694.9 L358.3,692.6 L361.4,690.4 L365.5,690.0 L369.3,689.1 L373.3,688.5 L377.3,689.8 L380.9,691.3 L384.8,692.5 L387.8,695.0 L391.0,697.3 L392.8,700.7" fill="none" stroke="#111" stroke-width="2.4" stroke-linecap="round"/>
<path d="M358.4,695.0 L360.1,693.2 L362.8,692.3 L364.6,690.4 L367.4,689.6 L370.3,689.6 L373.3,690.2 L376.2,690.0 L379.0,691.0 L381.8,692.0 L384.3,693.6 L386.7,695.4 L389.5,696.8 L391.2,699.1 L392.9,701.4 L394.2,704.0 L394.6,706.6 L395.3,709.1 L395.0,711.7 L395.1,714.3 L394.0,716.5 L393.2,718.9 L391.2,720.6 L389.4,722.4 L387.1,723.5 L384.7,724.6 L382.2,725.5 L379.4,725.8 L376.7,726.3 L373.8,726.0 L370.8,725.8 L368.3,724.0 L365.1,723.6 L363.2,721.2 L360.3,719.9 L358.7,717.4 L357.2,715.1" fill="none" stroke="#111" stroke-width="2.1" stroke-linecap="round"/>
<path d="M380.4,729.2 L376.8,730.3 L372.8,730.0 L368.9,729.7 L365.0,728.5 L361.3,727.1 L357.5,725.5 L354.7,722.6 L351.8,719.9 L349.0,716.9 L347.6,713.4 L346.0,710.0 L345.6,706.4 L345.8,702.8 L346.0,699.3 L347.2,696.0 L349.2,693.2 L351.0,690.1 L354.4,688.5 L357.1,686.1 L360.6,684.8 L364.4,684.1 L368.4,684.0 L372.3,684.1 L376.1,685.6 L380.1,686.4 L383.8,688.2 L386.9,690.8 L390.0,693.4 L392.5,696.4 L394.3,699.8" fill="none" stroke="#111" stroke-width="1.9" stroke-linecap="round"/>
<path d="M343.1,712.5 L343.0,711.2 L343.0,709.8 L343.0,708.5 L343.2,707.2 L343.4,705.9 L343.7,704.7 L344.0,703.4 L344.5,702.1 L345.0,700.9 L345.6,699.7 L346.2,698.5 L347.0,697.4 L347.8,696.3 L348.6,695.2 L349.6,694.1 L350.6,693.2 L351.6,692.2 L352.7,691.3 L353.9,690.5 L355.1,689.7 L356.4,688.9 L357.7,688.3 L359.0,687.7 L360.4,687.1" fill="none" stroke="#333" stroke-width="1.1" stroke-dasharray="5 3"/>
<path d="M511.1,693.6 L512.6,696.7 L514.3,699.8 L515.0,703.2 L514.9,706.7 L514.4,710.2 L512.6,713.2 L511.2,716.4 L509.4,719.5 L506.2,721.4 L503.1,723.2 L499.8,724.5 L496.4,726.3 L492.7,726.5 L489.1,725.6 L485.6,724.6 L482.3,723.2 L478.9,721.8 L476.1,719.4 L473.8,716.6 L472.2,713.3 L471.3,709.9 L471.5,706.4 L470.5,702.8 L472.2,699.6 L472.8,696.1 L475.1,693.3 L477.7,690.9 L479.9,688.0 L483.3,686.6 L486.3,684.5 L490.1,684.6 L493.7,683.8 L497.3,684.5 L500.6,685.9 L504.0,687.1 L507.0,689.0 L510.0,691.0 L512.2,693.9 L514.0,697.0 L514.1,700.6" fill="none" stroke="#111" stroke-width="2.4" stroke-linecap="round"/>
<path d="M495.7,721.9 L493.6,722.5 L491.3,722.6 L489.0,722.5 L486.7,722.4 L484.6,721.3 L482.8,719.7 L480.6,718.7 L479.5,716.3 L478.2,714.2 L476.7,712.2 L475.7,709.9 L475.2,707.3 L475.2,704.7 L475.1,702.2 L475.8,699.7 L476.0,697.0 L477.1,694.7 L478.3,692.5 L480.1,690.7 L481.5,688.6 L483.7,687.6 L485.6,686.0 L487.9,685.7 L490.1,684.6 L492.4,685.2 L494.7,685.2 L496.9,685.7 L499.1,686.6 L501.2,687.6 L503.1,689.1 L504.3,691.5 L506.1,693.1 L507.1,695.4 L507.8,697.8 L508.1,700.4 L509.2,702.8" fill="none" stroke="#111" stroke-width="2.1" stroke-linecap="round"/>
<path d="M518.4,707.5 L517.6,710.2 L516.4,712.8 L514.5,715.2 L512.6,717.6 L510.9,720.2 L508.2,721.9 L505.3,723.3 L502.5,724.9 L499.4,725.8 L496.3,726.6 L493.2,726.8 L490.0,727.3 L486.8,727.1 L483.9,726.1 L481.0,725.4 L478.4,723.9 L476.3,722.1 L474.3,720.2 L472.4,718.1 L471.4,715.6 L470.7,713.0 L469.8,710.5 L469.3,707.8 L469.6,705.0 L470.9,702.3 L471.2,699.5 L473.2,697.1 L474.6,694.5 L476.9,692.4 L479.1,690.2" fill="none" stroke="#111" stroke-width="1.9" stroke-linecap="round"/>
<path d="M480.9,711.9 L480.5,710.8 L480.3,709.7 L480.3,708.6 L479.9,707.5 L480.4,706.3 L480.6,705.1 L480.8,704.0 L481.6,703.0 L482.1,701.8 L483.0,700.9 L483.6,699.9 L484.3,698.8 L485.4,698.1 L486.5,697.4 L487.5,696.6 L488.7,696.1 L489.9,695.6 L491.1,695.1 L492.4,694.7 L493.7,694.5 L495.0,694.3 L496.3,694.3 L497.5,694.5 L498.8,694.8" fill="none" stroke="#111" stroke-width="1.7" stroke-linecap="round"/>
<path d="M501.3,681.2 L502.8,681.7 L504.2,682.3 L505.6,682.9 L507.0,683.6 L508.3,684.4 L509.5,685.2 L510.7,686.2 L511.9,687.1 L513.0,688.2 L514.0,689.3 L514.9,690.4 L515.8,691.6 L516.6,692.9 L517.3,694.1 L518.0,695.5 L518.5,696.8 L519.0,698.2 L519.4,699.6 L519.7,701.0 L519.9,702.4 L520.0,703.9 L520.0,705.3 L519.9,706.8 L519.8,708.2" fill="none" stroke="#333" stroke-width="1.1" stroke-dasharray="5 3"/>
<path d="M594.0,741.9 L590.3,740.4 L587.8,737.9 L585.0,735.7 L583.4,732.8 L581.5,729.9 L581.8,726.5 L582.2,723.2 L583.4,720.0 L584.5,716.5 L587.2,713.6 L590.7,711.1 L594.3,708.8 L598.4,707.1 L602.6,705.5 L607.0,704.7 L611.4,705.0 L615.6,705.4 L619.9,705.9 L623.3,707.8 L626.8,709.4 L628.8,712.3 L630.5,715.1 L631.6,718.1 L633.2,721.2 L632.4,724.6 L630.5,727.9 L629.1,731.1 L626.9,734.3 L623.3,736.7 L620.2,739.5 L615.7,740.6 L611.7,742.5 L607.2,743.3 L602.8,743.0 L598.2,743.6 L594.3,742.1 L591.0,740.2 L587.2,738.8 L585.5,735.8 L582.7,733.4" fill="none" stroke="#111" stroke-width="2.4" stroke-linecap="round"/>
<path d="M630.9,722.7 L629.6,725.8 L626.9,728.4 L625.4,731.5 L621.7,733.2 L618.7,735.4 L615.1,736.9 L611.3,737.9 L607.5,738.8 L603.7,738.4 L599.6,738.9 L596.5,737.1 L592.9,736.1 L590.5,733.9 L587.7,732.0 L586.5,729.1 L585.6,726.3 L585.0,723.3 L585.6,720.2 L586.8,717.2 L588.8,714.4 L590.4,711.3 L593.4,709.0 L596.8,707.1 L600.1,704.9 L604.1,704.2 L608.0,703.3 L611.9,703.7 L615.7,703.9 L619.4,704.5 L622.3,706.3 L625.9,707.5 L628.2,709.8 L629.6,712.6 L630.8,715.4 L630.6,718.5 L631.0,721.5" fill="none" stroke="#111" stroke-width="2.1" stroke-linecap="round"/>
<path d="M586.5,714.0 L588.8,712.2 L591.2,710.4 L594.2,709.3 L597.1,708.1 L599.9,706.8 L603.0,706.2 L606.0,705.4 L609.1,704.8 L612.2,704.4 L615.0,704.9 L617.9,705.1 L620.8,705.3 L623.5,706.0 L625.6,707.1 L628.2,707.9 L630.1,709.3 L632.2,710.6 L633.6,712.2 L634.3,714.2 L634.5,716.3 L635.4,718.1 L635.2,720.2 L635.0,722.3 L634.2,724.4 L634.0,726.6 L632.7,728.7 L630.8,730.7 L629.0,732.6 L627.6,734.8 L625.0,736.4" fill="none" stroke="#111" stroke-width="1.9" stroke-linecap="round"/>
<path d="M607.8,747.0 L604.3,746.9 L600.9,746.5 L597.5,745.9 L594.3,745.0 L591.2,743.8 L588.3,742.4 L585.7,740.7 L583.3,738.8 L581.2,736.7 L579.4,734.5 L578.0,732.2 L577.0,729.7 L576.3,727.2 L576.0,724.6 L576.1,722.0 L576.6,719.5 L577.5,717.0 L578.7,714.6 L580.3,712.3 L582.3,710.1 L584.5,708.2 L587.0,706.4 L589.8,704.9 L592.8,703.6" fill="none" stroke="#333" stroke-width="1.1" stroke-dasharray="5 3"/>
<path d="M700.3,714.0 L703.2,712.8 L706.1,710.9 L709.3,711.3 L712.5,711.7 L715.8,711.8 L718.9,713.1 L721.5,715.6 L723.6,718.5 L726.4,720.7 L728.1,724.0 L728.5,727.7 L729.5,731.2 L730.5,734.8 L729.8,738.5 L728.7,741.9 L728.3,745.7 L725.8,748.1 L723.7,750.7 L721.6,753.5 L718.9,755.6 L715.8,756.5 L712.5,756.2 L709.3,756.2 L706.2,756.0 L703.0,755.4 L699.9,754.1 L697.8,751.0 L695.0,748.9 L693.0,745.9 L692.2,742.3 L690.1,739.1 L690.3,735.3 L690.1,731.7 L690.1,727.9 L691.4,724.5 L692.8,721.3 L695.2,718.9 L697.0,715.8 L699.9,714.3 L702.4,712.0" fill="none" stroke="#111" stroke-width="2.4" stroke-linecap="round"/>
<path d="M727.4,729.4 L729.1,732.6 L728.3,736.2 L728.0,739.5 L727.8,743.0 L727.0,746.4 L724.8,748.8 L722.7,751.0 L720.2,752.7 L717.8,754.3 L715.1,755.4 L712.2,755.7 L709.3,755.3 L706.3,755.2 L703.4,753.9 L700.8,751.9 L699.1,748.8 L696.8,746.4 L695.8,743.0 L694.4,739.8 L693.8,736.4 L693.8,732.9 L693.7,729.3 L695.1,726.3 L695.9,722.9 L697.6,720.1 L699.8,717.9 L702.6,716.7 L705.1,715.3 L707.7,713.7 L710.7,713.3 L713.6,714.6 L716.6,715.0 L719.3,716.5 L721.9,718.4 L723.6,721.5 L725.5,724.2" fill="none" stroke="#111" stroke-width="2.1" stroke-linecap="round"/>
<path d="M700.6,713.6 L703.3,712.1 L706.1,710.8 L709.2,711.1 L712.2,710.6 L715.1,711.8 L718.0,712.7 L720.9,713.8 L723.2,716.1 L725.9,718.0 L727.9,720.6 L729.0,723.8 L730.5,726.8 L731.2,730.1 L731.8,733.5 L731.3,736.8 L730.6,740.0 L730.0,743.3 L728.1,745.9 L726.7,748.9 L724.2,750.7 L721.8,752.6 L719.2,754.4 L716.3,755.3 L713.3,755.2 L710.3,755.6 L707.2,755.4 L704.4,753.8 L701.6,752.5 L699.0,750.6 L696.6,748.4" fill="none" stroke="#111" stroke-width="1.9" stroke-linecap="round"/>
<path d="M699.7,745.7 L698.7,745.1 L698.1,744.1 L697.7,742.9 L697.3,741.7 L696.8,740.6 L696.5,739.4 L695.9,738.3 L695.9,736.9 L696.2,735.6 L696.3,734.3 L696.2,733.0 L696.6,731.7 L696.9,730.4 L697.2,729.2 L697.8,728.0 L698.7,727.0 L699.1,725.7 L700.1,724.9 L700.9,724.0 L701.9,723.3 L702.9,722.6 L703.9,722.0 L704.9,721.4 L705.9,720.9" fill="none" stroke="#111" stroke-width="1.7" stroke-linecap="round"/>
<path d="M708.8,761.0 L707.2,760.8 L705.6,760.6 L704.1,760.2 L702.6,759.8 L701.1,759.2 L699.6,758.6 L698.2,757.8 L696.8,756.9 L695.5,756.0 L694.2,755.0 L693.1,753.8 L691.9,752.7 L690.9,751.4 L689.9,750.0 L689.0,748.6 L688.2,747.2 L687.5,745.7 L686.8,744.1 L686.3,742.5 L685.8,740.9 L685.5,739.2 L685.2,737.5 L685.1,735.8 L685.0,734.1" fill="none" stroke="#333" stroke-width="1.1" stroke-dasharray="5 3"/>
<path d="M292.4,787.7 L293.1,791.0 L292.5,794.3 L291.3,797.4 L290.3,800.6 L287.7,802.9 L285.2,805.2 L282.1,806.8 L279.0,808.4 L275.8,810.1 L272.1,810.0 L268.4,810.1 L264.9,809.1 L261.6,807.6 L258.4,806.0 L255.5,804.0 L253.4,801.3 L251.3,798.5 L250.6,795.3 L249.3,792.2 L249.5,788.9 L249.5,785.6 L250.5,782.4 L251.6,779.2 L253.8,776.5 L256.4,774.1 L259.8,772.7 L263.1,771.5 L266.4,769.9 L270.1,770.4 L273.7,770.3 L277.1,771.4 L280.8,771.9 L284.0,773.7 L287.0,775.8 L288.6,778.9 L291.2,781.4 L292.3,784.6 L292.9,787.9 L292.9,791.3 L292.9,794.6" fill="none" stroke="#111" stroke-width="2.4" stroke-linecap="round"/>
<path d="M258.0,799.4 L257.5,796.7 L257.0,794.1 L257.0,791.4 L256.9,788.7 L257.6,786.1 L258.8,783.7 L260.4,781.6 L262.1,779.6 L264.7,778.5 L266.8,776.8 L269.2,775.7 L271.9,775.1 L274.7,775.0 L277.4,775.9 L280.3,775.9 L282.9,777.0 L285.1,778.8 L287.3,780.5 L288.6,782.9 L290.1,785.2 L291.1,787.6 L292.1,790.1 L292.8,792.8 L292.0,795.4 L292.1,798.2 L290.9,800.7 L288.8,802.5 L287.2,804.5 L285.8,807.0 L283.2,807.9 L280.8,809.2 L278.1,810.0 L275.3,809.6 L272.6,809.2 L269.8,809.4 L267.1,808.5" fill="none" stroke="#111" stroke-width="2.1" stroke-linecap="round"/>
<path d="M294.5,782.9 L294.9,786.5 L295.1,790.2 L294.6,793.8 L292.8,797.1 L290.7,800.2 L287.9,802.6 L284.7,804.7 L281.3,806.5 L277.6,807.6 L273.6,808.2 L269.6,808.4 L265.7,807.0 L262.0,805.6 L258.3,804.0 L255.1,801.7 L253.0,798.4 L251.0,795.2 L249.6,791.8 L249.2,788.2 L249.2,784.6 L249.4,781.0 L251.1,777.7 L253.0,774.6 L255.2,771.5 L258.5,769.5 L261.9,767.7 L265.7,766.4 L269.6,765.8 L273.7,765.7 L277.7,766.4" fill="none" stroke="#111" stroke-width="1.9" stroke-linecap="round"/>
<path d="M270.5,800.3 L269.0,800.6 L267.5,800.5 L266.0,800.5 L264.5,800.5 L263.1,800.1 L261.8,799.5 L260.4,799.1 L259.3,798.4 L258.0,797.8 L256.7,797.1 L256.2,795.9 L255.3,794.9 L254.5,793.9 L253.9,792.7 L253.7,791.5 L253.4,790.2 L253.2,789.0 L253.0,787.7 L253.7,786.4 L253.6,785.1 L254.2,783.9 L254.7,782.6 L255.7,781.5 L256.5,780.4" fill="none" stroke="#111" stroke-width="1.7" stroke-linecap="round"/>
<path d="M297.7,793.5 L297.4,794.9 L297.1,796.3 L296.6,797.7 L296.0,799.0 L295.4,800.3 L294.6,801.6 L293.8,802.8 L292.9,804.0 L291.9,805.2 L290.9,806.3 L289.7,807.3 L288.5,808.2 L287.3,809.1 L286.0,810.0 L284.6,810.7 L283.2,811.4 L281.7,812.0 L280.2,812.6 L278.7,813.0 L277.1,813.4 L275.5,813.7 L273.9,813.9 L272.3,814.0 L270.7,814.0" fill="none" stroke="#333" stroke-width="1.1" stroke-dasharray="5 3"/>
<path d="M367.3,778.0 L370.4,777.4 L373.6,777.8 L376.5,779.3 L379.4,780.2 L381.9,781.9 L384.8,783.2 L387.1,785.3 L388.7,788.0 L390.0,790.8 L390.7,793.7 L391.2,796.7 L390.9,799.7 L390.5,802.7 L388.7,805.1 L387.6,807.9 L385.8,810.3 L383.1,811.8 L380.8,813.8 L378.1,815.4 L374.9,815.3 L371.9,816.3 L368.7,816.1 L365.6,815.7 L362.5,814.7 L359.9,812.8 L357.5,810.9 L355.5,808.6 L353.7,806.1 L352.2,803.5 L351.7,800.5 L350.7,797.6 L351.1,794.6 L351.8,791.8 L352.7,789.0 L354.0,786.2 L355.8,783.8 L358.1,781.7 L360.8,780.2 L363.9,779.4 L366.9,778.9" fill="none" stroke="#111" stroke-width="2.4" stroke-linecap="round"/>
<path d="M381.6,803.8 L380.0,806.0 L378.5,808.1 L376.5,809.8 L374.4,811.0 L372.2,812.4 L369.7,812.6 L367.3,812.7 L364.8,812.5 L362.3,812.2 L359.9,811.2 L358.2,809.0 L356.5,807.1 L354.5,805.3 L353.7,802.6 L352.8,800.0 L352.3,797.3 L352.8,794.6 L353.7,792.0 L354.1,789.3 L355.6,787.0 L357.8,785.6 L359.3,783.2 L361.6,782.2 L364.1,781.7 L366.5,781.1 L369.0,781.3 L371.6,781.3 L373.8,782.6 L375.9,784.2 L378.3,785.3 L379.5,787.7 L380.7,790.1 L382.1,792.4 L382.1,795.2 L382.6,797.8 L382.2,800.5" fill="none" stroke="#111" stroke-width="2.1" stroke-linecap="round"/>
<path d="M390.3,810.5 L387.9,812.6 L385.7,814.7 L383.1,816.3 L380.5,818.1 L377.5,819.0 L374.4,819.1 L371.3,819.1 L368.2,818.8 L365.5,817.4 L362.8,815.9 L360.4,814.0 L357.9,812.2 L356.6,809.3 L355.2,806.6 L353.7,803.8 L353.8,800.6 L353.6,797.6 L353.7,794.4 L354.7,791.5 L355.8,788.6 L357.7,786.1 L359.3,783.4 L361.9,781.7 L364.4,779.9 L367.2,778.8 L370.1,777.5 L373.1,777.5 L376.2,777.3 L379.1,778.3 L382.1,778.9" fill="none" stroke="#111" stroke-width="1.9" stroke-linecap="round"/>
<path d="M378.8,786.5 L380.1,787.7 L381.4,788.9 L382.0,790.4 L382.7,791.9 L383.3,793.4 L383.6,795.0 L383.5,796.7 L383.5,798.3 L382.8,799.9 L382.2,801.4 L381.2,802.8 L380.1,804.2 L378.9,805.4 L377.2,806.3 L375.6,807.2 L373.8,807.7 L371.9,807.9 L370.1,808.5 L368.2,808.4 L366.4,807.9 L364.5,807.9 L362.8,807.1 L361.0,806.5 L359.7,805.3" fill="none" stroke="#111" stroke-width="1.7" stroke-linecap="round"/>
<path d="M346.4,801.2 L346.1,798.7 L346.0,796.2 L346.3,793.7 L346.8,791.2 L347.6,788.8 L348.7,786.6 L350.1,784.4 L351.7,782.4 L353.5,780.5 L355.6,778.9 L357.8,777.5 L360.2,776.3 L362.7,775.3 L365.3,774.6 L368.0,774.2 L370.7,774.0 L373.4,774.1 L376.1,774.5 L378.7,775.1 L381.3,776.0 L383.7,777.2 L385.9,778.6 L388.0,780.2 L389.9,782.0" fill="none" stroke="#333" stroke-width="1.1" stroke-dasharray="5 3"/>
<path d="M504.8,801.0 L502.8,803.8 L501.3,806.7 L499.7,809.7 L496.9,811.8 L493.7,813.4 L490.4,814.6 L486.7,814.5 L483.2,815.4 L479.6,814.9 L476.4,813.3 L472.8,812.5 L469.9,810.4 L467.3,808.1 L465.3,805.3 L464.7,802.0 L463.7,798.9 L462.6,795.8 L463.7,792.6 L464.4,789.5 L465.3,786.4 L467.3,783.6 L470.2,781.7 L473.0,779.8 L476.1,778.1 L479.4,776.8 L483.1,776.9 L486.7,777.4 L490.1,778.2 L493.3,779.5 L496.6,780.8 L499.4,782.9 L501.1,785.8 L503.4,788.3 L504.5,791.5 L505.0,794.7 L504.9,797.9 L504.2,801.1 L502.5,803.9 L501.4,806.9 L499.2,809.5" fill="none" stroke="#111" stroke-width="2.4" stroke-linecap="round"/>
<path d="M489.8,815.2 L486.9,814.2 L484.2,813.6 L481.5,812.7 L478.6,812.0 L476.4,810.2 L474.2,808.4 L472.6,805.9 L470.9,803.6 L470.4,800.9 L469.7,798.3 L469.0,795.5 L469.8,792.9 L470.6,790.4 L471.1,787.7 L472.3,785.2 L474.3,783.2 L476.5,781.6 L479.1,780.4 L482.0,780.2 L484.7,779.5 L487.4,779.0 L490.3,779.4 L493.2,779.8 L495.5,781.7 L498.3,782.7 L500.1,784.9 L502.6,786.6 L503.6,789.3 L505.2,791.7 L506.3,794.3 L506.9,797.1 L506.6,799.8 L506.0,802.5 L504.6,804.9 L503.6,807.4 L501.8,809.4" fill="none" stroke="#111" stroke-width="2.1" stroke-linecap="round"/>
<path d="M463.6,802.2 L462.7,799.1 L462.8,795.9 L462.4,792.8 L462.9,789.8 L463.6,786.7 L464.9,783.9 L467.3,781.8 L469.6,779.8 L471.8,777.4 L474.6,776.0 L478.0,775.5 L481.1,774.8 L484.5,774.9 L487.8,775.4 L491.1,776.1 L494.2,777.4 L497.2,779.0 L499.6,781.4 L501.9,783.8 L503.8,786.5 L505.7,789.3 L506.3,792.4 L507.1,795.5 L507.2,798.7 L505.9,801.6 L505.5,804.7 L503.5,807.1 L502.0,809.8 L499.8,812.0 L496.9,813.4" fill="none" stroke="#111" stroke-width="1.9" stroke-linecap="round"/>
<path d="M474.7,774.5 L476.4,774.0 L478.1,773.6 L479.9,773.3 L481.7,773.1 L483.4,773.0 L485.2,773.0 L487.0,773.2 L488.8,773.4 L490.5,773.7 L492.3,774.2 L493.9,774.7 L495.6,775.4 L497.2,776.2 L498.7,777.0 L500.1,777.9 L501.5,779.0 L502.8,780.1 L504.0,781.3 L505.1,782.5 L506.1,783.8 L507.0,785.2 L507.7,786.6 L508.4,788.1 L509.0,789.6" fill="none" stroke="#333" stroke-width="1.1" stroke-dasharray="5 3"/>
<path d="M614.8,793.7 L616.8,796.5 L619.8,798.7 L621.6,801.4 L622.6,804.1 L623.8,806.8 L625.2,809.7 L624.9,812.4 L623.1,814.7 L622.5,817.4 L620.2,819.3 L616.9,820.4 L614.6,822.2 L611.0,822.8 L607.6,823.4 L604.0,823.9 L600.1,823.1 L596.3,822.5 L592.8,821.0 L589.1,819.7 L585.9,817.9 L583.2,815.6 L580.8,813.2 L578.4,810.8 L577.4,808.0 L575.2,805.3 L575.9,802.6 L576.0,799.9 L577.2,797.6 L577.7,794.8 L580.4,793.2 L582.9,791.7 L585.5,790.0 L588.4,788.5 L592.0,788.0 L595.9,788.3 L599.7,788.5 L603.4,789.8 L607.5,790.1 L611.0,791.8 L613.9,794.1" fill="none" stroke="#111" stroke-width="2.4" stroke-linecap="round"/>
<path d="M591.7,819.7 L588.8,818.8 L585.9,817.8 L582.8,817.0 L580.7,815.2 L578.7,813.5 L576.9,811.6 L576.3,809.4 L575.7,807.3 L575.2,805.2 L575.0,803.0 L575.8,800.9 L577.3,799.0 L578.8,797.1 L581.2,795.7 L582.9,793.8 L585.9,792.9 L588.7,791.8 L592.0,791.6 L595.1,791.2 L598.4,791.1 L601.6,791.6 L604.9,792.0 L607.6,793.4 L610.7,794.2 L612.8,796.0 L615.1,797.6 L616.4,799.6 L618.0,801.5 L619.5,803.5 L618.8,805.7 L619.0,807.8 L618.9,810.0 L618.0,812.0 L616.6,814.0 L614.7,815.7 L612.5,817.2" fill="none" stroke="#111" stroke-width="2.1" stroke-linecap="round"/>
<path d="M586.8,818.7 L583.5,816.8 L580.7,814.5 L578.6,811.9 L576.1,809.6 L573.9,807.0 L573.0,804.4 L572.6,801.9 L571.7,799.3 L572.2,797.0 L572.7,794.7 L574.0,792.8 L576.0,791.3 L578.2,790.0 L580.7,788.9 L583.6,788.4 L586.5,787.6 L590.1,788.2 L593.4,787.9 L597.1,789.1 L600.7,790.1 L604.3,791.3 L607.6,793.2 L611.0,794.9 L613.6,797.3 L616.9,799.4 L618.6,802.0 L621.1,804.4 L622.6,807.1 L623.5,809.6 L623.9,812.2" fill="none" stroke="#111" stroke-width="1.9" stroke-linecap="round"/>
<path d="M597.4,796.7 L599.4,796.4 L601.2,796.5 L603.1,796.3 L605.0,796.4 L606.4,797.1 L608.2,797.4 L609.2,798.3 L610.2,799.2 L611.2,800.2 L612.3,801.1 L612.4,802.4 L613.0,803.6 L612.8,805.0 L612.3,806.4 L612.2,807.8 L611.2,809.2 L610.2,810.5 L609.0,811.8 L607.8,813.1 L606.3,814.3 L604.7,815.3 L603.0,816.3 L601.0,816.9 L599.1,817.5" fill="none" stroke="#111" stroke-width="1.7" stroke-linecap="round"/>
<path d="M622.8,792.3 L624.2,793.5 L625.4,794.8 L626.5,796.2 L627.5,797.6 L628.3,799.1 L629.0,800.6 L629.5,802.1 L629.8,803.6 L630.0,805.2 L630.0,806.8 L629.8,808.3 L629.5,809.9 L629.0,811.4 L628.3,812.9 L627.5,814.3 L626.6,815.8 L625.5,817.1 L624.2,818.4 L622.8,819.6 L621.3,820.8 L619.7,821.9 L617.9,822.8 L616.1,823.7 L614.2,824.5" fill="none" stroke="#333" stroke-width="1.1" stroke-dasharray="5 3"/>
<path d="M681.1,812.2 L679.7,809.1 L677.5,806.3 L676.2,803.3 L676.1,800.2 L677.6,797.6 L677.5,794.5 L679.0,792.0 L681.1,789.8 L683.9,788.1 L687.4,787.2 L690.3,785.6 L694.0,785.2 L697.9,785.3 L701.8,785.4 L705.5,786.9 L709.3,788.1 L713.0,789.6 L716.5,791.5 L719.5,794.0 L721.9,796.8 L723.0,799.9 L724.5,802.8 L725.3,805.8 L725.3,808.7 L724.2,811.4 L723.5,814.2 L722.5,816.9 L719.5,818.6 L717.3,820.7 L714.1,822.0 L710.3,822.5 L706.7,823.3 L702.8,823.2 L698.9,821.5 L695.0,821.1 L691.1,819.9 L688.0,817.4 L684.9,815.2 L682.5,812.6 L679.4,810.2" fill="none" stroke="#111" stroke-width="2.4" stroke-linecap="round"/>
<path d="M717.7,794.5 L720.2,796.2 L721.3,798.5 L722.1,800.9 L722.0,803.4 L722.6,805.8 L721.2,808.1 L720.6,810.5 L718.7,812.6 L716.8,814.6 L714.3,816.2 L711.5,817.6 L708.6,818.8 L705.4,819.3 L702.1,819.7 L698.8,820.1 L695.7,819.1 L692.3,818.9 L689.7,817.3 L687.4,815.7 L684.7,814.2 L683.4,812.0 L682.1,809.8 L681.8,807.4 L681.3,805.0 L680.7,802.5 L682.0,800.2 L683.4,797.9 L685.0,795.7 L687.7,794.1 L690.1,792.5 L692.6,790.6 L695.8,789.9 L699.1,789.6 L702.4,788.9 L705.7,789.6 L708.9,790.0" fill="none" stroke="#111" stroke-width="2.1" stroke-linecap="round"/>
<path d="M731.0,801.0 L731.1,803.2 L730.7,805.4 L730.4,807.6 L728.7,809.5 L727.4,811.5 L725.8,813.5 L723.7,815.2 L720.7,816.4 L718.0,817.7 L715.1,818.8 L711.8,819.4 L708.6,820.1 L705.2,820.7 L701.7,820.2 L698.2,820.4 L694.8,819.9 L691.7,818.8 L688.7,817.7 L686.1,816.3 L683.2,815.0 L680.7,813.5 L679.2,811.5 L677.7,809.5 L676.0,807.6 L675.9,805.3 L675.1,803.2 L675.0,801.0 L675.8,798.8 L676.9,796.8 L677.9,794.7" fill="none" stroke="#111" stroke-width="1.9" stroke-linecap="round"/>
<path d="M706.9,795.3 L708.7,795.7 L710.2,796.5 L711.7,797.4 L713.2,798.2 L714.5,799.1 L715.9,800.0 L716.8,801.2 L717.5,802.4 L718.7,803.5 L718.7,804.8 L719.2,806.0 L719.5,807.2 L719.4,808.5 L718.7,809.6 L718.7,810.9 L717.7,811.9 L717.0,813.0 L715.7,813.8 L714.6,814.7 L713.4,815.5 L711.5,815.8 L710.1,816.5 L708.4,816.8 L706.7,817.2" fill="none" stroke="#111" stroke-width="1.7" stroke-linecap="round"/>
<path d="M676.9,790.9 L678.0,789.8 L679.3,788.8 L680.6,787.8 L682.1,786.9 L683.6,786.1 L685.1,785.3 L686.7,784.6 L688.4,784.0 L690.2,783.5 L691.9,783.0 L693.7,782.7 L695.6,782.4 L697.4,782.2 L699.3,782.0 L701.2,782.0 L703.1,782.1 L704.9,782.2 L706.8,782.4 L708.6,782.7 L710.4,783.1 L712.2,783.6 L713.9,784.1 L715.6,784.8 L717.2,785.5" fill="none" stroke="#333" stroke-width="1.1" stroke-dasharray="5 3"/>
<path d="M261.7,884.4 L258.4,884.7 L255.2,884.5 L251.9,884.1 L248.8,882.8 L246.2,880.9 L244.2,878.4 L242.1,876.1 L240.9,873.2 L238.9,870.5 L239.1,867.2 L238.8,864.0 L240.1,861.1 L241.2,858.1 L243.0,855.5 L244.9,852.9 L247.2,850.6 L250.1,849.0 L253.3,848.1 L256.5,847.6 L259.8,847.2 L263.2,847.0 L266.1,848.5 L269.5,849.0 L272.2,851.0 L274.0,853.7 L275.7,856.3 L278.0,858.7 L278.0,862.0 L279.2,865.0 L278.8,868.1 L278.0,871.2 L277.0,874.2 L274.7,876.6 L273.2,879.5 L270.7,881.7 L267.4,882.6 L264.4,884.0 L261.3,885.2 L258.0,884.7 L254.8,884.2" fill="none" stroke="#111" stroke-width="2.4" stroke-linecap="round"/>
<path d="M273.8,879.2 L272.3,881.1 L270.0,882.1 L267.6,882.6 L265.4,883.5 L263.1,884.0 L260.8,883.8 L258.6,883.6 L256.4,883.3 L254.3,882.7 L252.5,881.6 L250.1,881.1 L248.6,879.7 L247.8,877.8 L246.9,876.0 L246.1,874.1 L245.4,872.2 L245.8,870.1 L245.6,868.0 L246.2,865.9 L247.7,864.0 L248.6,862.0 L249.8,860.0 L251.9,858.8 L253.4,856.9 L255.8,856.0 L257.9,854.9 L260.3,854.7 L262.6,854.0 L264.9,853.6 L267.1,854.1 L269.6,853.8 L271.5,855.0 L273.5,855.8 L275.4,856.8 L276.6,858.5 L278.2,859.9" fill="none" stroke="#111" stroke-width="2.1" stroke-linecap="round"/>
<path d="M249.2,882.1 L246.6,880.7 L244.8,878.5 L242.8,876.5 L241.3,874.2 L239.8,871.9 L239.2,869.2 L238.1,866.6 L238.8,863.9 L238.9,861.2 L239.4,858.5 L241.0,856.2 L242.6,853.9 L244.4,851.8 L246.2,849.6 L248.9,848.2 L251.3,846.5 L254.4,846.1 L257.2,845.4 L260.2,845.0 L263.2,845.2 L266.1,845.7 L268.9,846.7 L271.8,847.6 L274.4,848.9 L276.4,851.0 L278.8,852.7 L280.2,855.2 L281.3,857.7 L282.1,860.3 L282.6,862.9" fill="none" stroke="#111" stroke-width="1.9" stroke-linecap="round"/>
<path d="M270.7,871.5 L269.9,873.1 L268.4,874.4 L266.9,875.7 L265.4,876.9 L263.4,877.6 L261.5,878.2 L259.4,878.2 L257.4,878.4 L255.4,878.0 L253.6,877.3 L251.9,876.4 L250.1,875.5 L248.8,874.1 L248.0,872.5 L247.4,870.8 L247.0,869.1 L247.0,867.4 L247.3,865.6 L247.7,863.8 L249.0,862.4 L250.2,860.9 L251.6,859.6 L253.3,858.5 L255.2,857.9" fill="none" stroke="#111" stroke-width="1.7" stroke-linecap="round"/>
<path d="M254.5,843.4 L256.3,843.1 L258.2,843.0 L260.1,843.0 L261.9,843.2 L263.8,843.4 L265.6,843.8 L267.4,844.3 L269.1,845.0 L270.8,845.7 L272.4,846.6 L274.0,847.6 L275.4,848.6 L276.8,849.8 L278.0,851.1 L279.2,852.4 L280.2,853.9 L281.2,855.4 L282.0,856.9 L282.6,858.5 L283.2,860.2 L283.6,861.8 L283.9,863.5 L284.0,865.3 L284.0,867.0" fill="none" stroke="#333" stroke-width="1.1" stroke-dasharray="5 3"/>
<path d="M365.9,886.6 L363.1,888.4 L359.9,888.1 L356.8,887.3 L353.8,886.7 L351.1,885.0 L348.4,883.3 L346.1,881.2 L344.2,878.5 L342.7,875.6 L342.2,872.2 L341.9,868.9 L342.1,865.7 L343.2,862.6 L344.5,859.6 L345.3,856.3 L347.3,853.6 L349.8,851.5 L352.9,850.5 L355.6,848.8 L358.8,848.6 L361.9,848.2 L365.1,848.1 L368.2,848.8 L370.5,851.2 L373.5,852.3 L375.7,854.7 L377.6,857.4 L378.4,860.6 L379.5,863.6 L380.3,866.8 L379.6,870.1 L378.9,873.2 L378.1,876.4 L376.2,879.0 L374.3,881.6 L371.9,883.7 L369.3,885.4 L366.4,886.6 L363.5,887.7 L360.3,887.8" fill="none" stroke="#111" stroke-width="2.4" stroke-linecap="round"/>
<path d="M368.9,877.1 L367.7,879.0 L365.9,880.1 L364.4,881.8 L362.6,882.9 L360.6,883.3 L358.6,883.0 L356.7,883.2 L354.8,882.9 L352.7,882.9 L351.3,881.4 L349.3,880.8 L347.9,879.4 L346.5,877.8 L345.8,875.7 L345.0,873.8 L344.5,871.7 L344.0,869.6 L344.1,867.4 L344.2,865.1 L345.0,863.0 L345.4,860.8 L346.7,858.9 L348.1,857.3 L349.5,855.6 L351.2,854.4 L352.7,852.7 L354.8,852.6 L356.6,851.7 L358.6,851.4 L360.6,851.3 L362.4,852.1 L364.4,852.2 L365.9,853.6 L367.5,854.7 L368.9,856.1 L370.0,857.8" fill="none" stroke="#111" stroke-width="2.1" stroke-linecap="round"/>
<path d="M350.7,849.7 L353.7,848.7 L356.9,848.5 L360.0,848.6 L363.2,848.7 L366.4,849.5 L369.3,850.8 L372.0,852.6 L374.2,855.0 L376.0,857.7 L377.9,860.3 L378.8,863.4 L380.2,866.4 L380.4,869.7 L380.0,872.9 L379.3,876.0 L378.7,879.3 L376.9,882.0 L374.8,884.4 L373.0,887.1 L370.3,888.9 L367.4,890.2 L364.7,892.0 L361.4,892.1 L358.3,892.3 L355.1,892.4 L352.1,891.4 L349.1,890.3 L346.3,888.8 L343.5,887.2 L341.5,884.6" fill="none" stroke="#111" stroke-width="1.9" stroke-linecap="round"/>
<path d="M376.3,875.3 L375.4,877.5 L374.0,879.3 L372.8,881.3 L371.1,882.8 L369.1,883.7 L367.2,884.8 L365.2,885.1 L363.1,885.3 L361.0,885.4 L359.1,884.6 L357.2,883.7 L355.3,882.8 L353.7,881.3 L352.3,879.7 L351.6,877.4 L350.7,875.4 L350.4,873.2 L349.8,870.9 L350.1,868.6 L350.9,866.4 L351.6,864.2 L352.6,862.1 L354.0,860.3 L355.6,858.8" fill="none" stroke="#111" stroke-width="1.7" stroke-linecap="round"/>
<path d="M337.7,862.1 L338.1,860.7 L338.6,859.4 L339.2,858.1 L339.8,856.8 L340.5,855.6 L341.2,854.4 L342.1,853.2 L343.0,852.1 L343.9,851.1 L345.0,850.1 L346.0,849.2 L347.2,848.4 L348.4,847.6 L349.6,846.9 L350.8,846.3 L352.1,845.7 L353.5,845.2 L354.8,844.8 L356.2,844.5 L357.6,844.2 L359.0,844.1 L360.4,844.0 L361.8,844.0 L363.2,844.1" fill="none" stroke="#333" stroke-width="1.1" stroke-dasharray="5 3"/>
<path d="M494.7,881.9 L492.0,884.2 L489.2,886.5 L485.9,888.1 L482.3,888.9 L478.6,889.1 L474.8,889.4 L471.3,888.3 L468.0,887.0 L465.1,885.0 L462.3,883.0 L460.0,880.5 L458.3,877.6 L457.1,874.6 L456.5,871.4 L456.6,868.1 L456.5,864.8 L457.8,861.7 L459.1,858.5 L461.4,855.8 L463.9,853.2 L467.0,851.3 L470.8,850.7 L474.1,849.2 L477.8,848.5 L481.3,849.7 L484.8,850.3 L488.0,851.6 L491.1,853.2 L494.5,854.7 L496.7,857.4 L497.7,860.7 L498.6,863.8 L499.4,866.9 L500.4,870.2 L499.1,873.4 L498.2,876.7 L496.3,879.5 L494.1,882.2 L491.6,884.7 L488.7,886.9" fill="none" stroke="#111" stroke-width="2.4" stroke-linecap="round"/>
<path d="M472.6,853.8 L474.9,853.1 L477.3,852.7 L479.8,853.4 L482.2,854.1 L484.3,855.4 L486.7,856.5 L488.7,858.0 L490.1,860.4 L491.6,862.5 L492.6,864.9 L493.1,867.4 L494.1,869.9 L493.4,872.4 L493.4,874.9 L493.2,877.5 L491.9,879.6 L490.4,881.5 L488.7,883.1 L486.9,884.8 L485.1,886.3 L482.8,887.1 L480.4,887.5 L478.0,887.9 L475.5,887.1 L473.2,886.4 L470.8,885.7 L468.4,884.6 L466.6,882.7 L464.7,880.9 L463.2,878.7 L462.8,876.1 L461.4,873.8 L461.3,871.3 L460.7,868.7 L460.9,866.1 L461.4,863.7" fill="none" stroke="#111" stroke-width="2.1" stroke-linecap="round"/>
<path d="M488.8,848.4 L491.4,850.3 L493.5,852.6 L496.1,854.6 L497.7,857.4 L498.7,860.3 L499.6,863.3 L499.6,866.3 L499.5,869.4 L498.7,872.3 L498.2,875.4 L496.9,878.2 L494.6,880.4 L492.3,882.6 L489.9,884.6 L487.1,886.1 L484.2,887.6 L480.9,887.9 L477.7,888.1 L474.5,888.1 L471.2,887.9 L468.2,886.7 L465.5,884.8 L462.9,883.1 L460.7,880.9 L458.3,878.8 L456.7,876.1 L455.9,873.1 L455.1,870.1 L454.3,867.1 L455.2,864.1" fill="none" stroke="#111" stroke-width="1.9" stroke-linecap="round"/>
<path d="M490.8,847.8 L492.9,849.0 L494.9,850.3 L496.7,851.7 L498.4,853.3 L499.9,855.0 L501.3,856.8 L502.4,858.8 L503.4,860.8 L504.1,862.9 L504.6,865.0 L504.9,867.2 L505.0,869.4 L504.8,871.6 L504.5,873.7 L503.9,875.8 L503.1,877.9 L502.1,879.9 L500.8,881.8 L499.4,883.6 L497.8,885.3 L496.1,886.8 L494.2,888.2 L492.2,889.4 L490.0,890.5" fill="none" stroke="#333" stroke-width="1.1" stroke-dasharray="5 3"/>
<path d="M615.0,869.4 L615.6,872.3 L617.3,875.0 L616.4,878.0 L617.0,881.0 L615.5,883.7 L614.3,886.5 L612.3,888.8 L610.6,891.4 L607.7,892.9 L605.3,895.0 L602.2,896.0 L599.0,896.5 L595.8,897.2 L592.5,897.1 L589.6,895.8 L586.2,895.6 L583.4,894.1 L580.9,892.1 L578.7,890.0 L577.6,887.2 L576.6,884.4 L575.4,881.7 L574.5,878.8 L575.0,875.8 L576.4,873.1 L576.9,870.1 L578.5,867.4 L580.9,865.3 L583.2,863.1 L585.8,861.2 L589.0,860.3 L592.0,859.1 L595.3,858.9 L598.6,858.7 L601.9,859.1 L604.6,860.8 L607.4,862.1 L610.3,863.5 L612.2,865.8 L614.0,868.2" fill="none" stroke="#111" stroke-width="2.4" stroke-linecap="round"/>
<path d="M582.4,887.6 L581.5,885.6 L580.6,883.5 L580.6,881.2 L580.4,878.9 L581.4,876.8 L582.2,874.7 L582.7,872.3 L584.3,870.6 L586.0,869.1 L588.0,867.8 L590.2,867.2 L592.4,866.6 L594.6,866.0 L596.9,865.8 L599.1,866.4 L601.3,867.1 L603.2,868.4 L605.5,869.1 L606.7,871.2 L608.2,872.9 L609.6,874.8 L610.5,876.9 L610.4,879.3 L610.6,881.6 L610.7,883.9 L609.8,886.0 L608.6,888.0 L607.4,889.9 L606.0,891.7 L604.1,892.9 L602.2,894.1 L600.4,895.6 L598.1,896.1 L595.8,896.4 L593.5,895.7 L591.3,895.3" fill="none" stroke="#111" stroke-width="2.1" stroke-linecap="round"/>
<path d="M572.2,885.2 L571.1,882.0 L569.9,878.8 L569.8,875.6 L570.4,872.5 L570.8,869.4 L572.3,866.6 L573.5,863.7 L575.8,861.5 L578.8,860.0 L581.5,858.1 L584.7,857.1 L588.1,856.4 L591.7,856.8 L595.2,856.9 L598.7,858.1 L602.1,859.2 L605.3,861.0 L608.1,863.2 L610.7,865.6 L613.0,868.3 L614.3,871.4 L615.9,874.5 L616.1,877.7 L616.9,880.9 L615.9,883.9 L615.3,887.0 L613.5,889.5 L612.2,892.4 L609.9,894.7 L607.0,896.3" fill="none" stroke="#111" stroke-width="1.9" stroke-linecap="round"/>
<path d="M590.0,884.9 L589.0,884.1 L587.9,883.4 L587.1,882.4 L586.6,881.4 L585.8,880.4 L585.4,879.3 L584.9,878.2 L584.8,877.0 L584.5,875.8 L584.6,874.6 L585.1,873.5 L585.2,872.3 L585.4,871.1 L586.2,870.1 L586.7,868.9 L587.5,868.0 L588.4,867.0 L589.4,866.3 L590.6,865.7 L591.7,865.1 L593.0,864.8 L594.2,864.3 L595.5,864.1 L596.8,863.7" fill="none" stroke="#111" stroke-width="1.7" stroke-linecap="round"/>
<path d="M601.7,855.6 L603.9,856.1 L606.1,856.8 L608.2,857.7 L610.2,858.7 L612.1,859.9 L613.8,861.3 L615.5,862.7 L616.9,864.3 L618.2,866.1 L619.3,867.9 L620.3,869.7 L621.0,871.7 L621.5,873.7 L621.9,875.7 L622.0,877.8 L621.9,879.8 L621.6,881.9 L621.1,883.9 L620.4,885.9 L619.5,887.8 L618.5,889.6 L617.2,891.3 L615.8,892.9 L614.2,894.4" fill="none" stroke="#333" stroke-width="1.1" stroke-dasharray="5 3"/>
<path d="M699.8,900.3 L696.1,898.6 L692.4,896.7 L689.4,893.9 L687.3,890.5 L685.3,887.2 L683.5,883.7 L683.1,879.8 L683.7,876.1 L683.8,872.3 L685.4,868.9 L686.3,865.2 L688.5,862.0 L691.5,859.5 L695.3,858.0 L698.6,855.8 L702.6,855.2 L706.4,853.7 L710.5,853.7 L714.4,855.1 L718.5,855.6 L721.7,858.1 L725.1,860.2 L728.9,862.2 L730.5,865.8 L733.0,868.9 L734.8,872.5 L735.2,876.4 L734.8,880.2 L734.2,883.9 L733.0,887.4 L730.9,890.6 L729.3,894.2 L726.2,896.5 L723.1,899.0 L719.2,900.4 L715.3,901.1 L711.3,901.7 L707.3,901.4 L703.2,901.6 L699.4,900.1" fill="none" stroke="#111" stroke-width="2.4" stroke-linecap="round"/>
<path d="M704.4,895.0 L701.8,893.7 L699.3,892.2 L696.8,890.5 L695.5,888.0 L693.8,885.7 L692.9,883.0 L691.8,880.3 L692.1,877.4 L692.0,874.5 L693.4,871.8 L694.8,869.3 L696.4,866.8 L697.7,864.2 L700.6,862.8 L703.0,861.0 L705.5,859.1 L708.7,859.1 L711.5,857.9 L714.6,858.1 L717.5,858.7 L720.7,858.6 L723.5,859.9 L725.5,862.0 L727.6,863.9 L729.9,865.7 L730.9,868.4 L733.0,870.6 L733.0,873.5 L733.2,876.3 L732.7,879.1 L732.5,881.9 L731.5,884.6 L729.6,886.9 L728.3,889.6 L725.9,891.5 L723.6,893.5" fill="none" stroke="#111" stroke-width="2.1" stroke-linecap="round"/>
<path d="M695.3,898.9 L692.2,896.8 L689.5,894.5 L686.6,892.2 L684.3,889.4 L682.7,886.3 L682.5,882.8 L682.1,879.5 L682.2,876.2 L682.7,872.9 L683.0,869.4 L685.0,866.5 L687.0,863.5 L689.6,861.0 L692.0,858.3 L695.5,856.6 L698.5,854.3 L702.6,853.9 L706.2,852.2 L710.2,852.3 L714.1,852.4 L718.0,852.8 L721.7,854.0 L725.6,854.8 L728.7,856.9 L731.7,859.0 L734.7,861.3 L736.7,864.2 L738.7,867.1 L739.3,870.6 L740.3,873.8" fill="none" stroke="#111" stroke-width="1.9" stroke-linecap="round"/>
<path d="M714.0,893.9 L712.0,894.5 L710.1,895.1 L708.1,895.0 L706.1,895.3 L704.1,895.1 L702.2,894.4 L700.2,894.1 L698.5,893.2 L697.1,891.8 L695.6,890.8 L694.1,889.5 L693.4,887.8 L692.2,886.3 L691.9,884.5 L691.2,882.8 L691.4,881.0 L691.1,879.2 L691.5,877.3 L692.4,875.7 L693.4,874.1 L694.1,872.3 L695.4,870.9 L696.9,869.7 L698.2,868.3" fill="none" stroke="#111" stroke-width="1.7" stroke-linecap="round"/>
<path d="M682.0,891.7 L680.8,889.7 L679.9,887.5 L679.1,885.4 L678.5,883.1 L678.2,880.8 L678.0,878.5 L678.1,876.2 L678.3,874.0 L678.8,871.7 L679.5,869.5 L680.3,867.3 L681.4,865.2 L682.7,863.2 L684.1,861.3 L685.7,859.5 L687.4,857.9 L689.3,856.4 L691.4,855.0 L693.5,853.7 L695.8,852.7 L698.1,851.8 L700.5,851.1 L703.0,850.5 L705.5,850.2" fill="none" stroke="#333" stroke-width="1.1" stroke-dasharray="5 3"/>
<path d="M262.4,964.5 L259.4,964.6 L256.4,963.8 L253.9,961.8 L250.8,960.6 L248.6,958.2 L247.1,955.1 L245.9,952.1 L244.9,948.9 L243.6,945.7 L244.5,942.4 L244.4,939.1 L245.5,935.9 L246.9,933.0 L249.0,930.7 L251.3,928.6 L253.8,926.9 L256.6,925.4 L259.7,925.6 L262.7,925.4 L265.7,925.7 L268.6,926.9 L271.4,928.3 L273.7,930.5 L276.3,932.6 L277.4,935.9 L279.4,938.7 L279.3,942.2 L280.4,945.5 L279.5,948.7 L279.0,951.9 L277.9,955.0 L276.7,958.1 L274.0,959.8 L271.9,962.1 L269.3,963.9 L266.3,964.5 L263.3,965.2 L260.2,965.3 L257.2,964.3 L254.5,962.4" fill="none" stroke="#111" stroke-width="2.4" stroke-linecap="round"/>
<path d="M276.8,945.9 L276.6,949.1 L275.9,952.1 L274.3,954.7 L273.0,957.4 L271.4,959.8 L269.7,962.2 L267.3,963.1 L265.0,964.6 L262.6,964.6 L260.2,965.0 L257.8,964.6 L255.5,963.6 L253.6,961.7 L251.8,959.7 L250.7,957.1 L249.0,954.8 L248.8,951.6 L248.5,948.6 L248.0,945.5 L248.7,942.5 L249.7,939.5 L251.1,936.9 L252.2,933.9 L254.2,932.0 L256.2,930.1 L258.6,929.3 L261.0,928.4 L263.4,928.1 L265.7,928.9 L267.9,929.8 L270.2,930.5 L272.0,932.5 L273.9,934.3 L275.2,936.9 L276.0,939.8 L276.5,942.8" fill="none" stroke="#111" stroke-width="2.1" stroke-linecap="round"/>
<path d="M258.6,966.1 L256.6,965.4 L254.6,965.1 L252.8,964.1 L251.3,962.5 L249.9,961.0 L248.2,959.8 L246.7,958.2 L246.2,955.9 L244.9,954.1 L244.4,951.9 L243.9,949.8 L244.2,947.5 L243.9,945.3 L244.4,943.1 L244.2,940.7 L244.9,938.5 L246.0,936.5 L247.1,934.6 L248.3,932.7 L250.1,931.4 L251.3,929.4 L253.3,928.5 L255.1,927.5 L257.1,926.9 L259.0,926.3 L261.0,925.2 L263.0,925.7 L265.1,925.6 L267.1,925.8 L269.1,926.4" fill="none" stroke="#111" stroke-width="1.9" stroke-linecap="round"/>
<path d="M254.6,951.5 L253.5,950.0 L252.7,948.2 L252.0,946.3 L251.9,944.3 L252.0,942.3 L252.2,940.3 L252.8,938.4 L253.3,936.4 L254.5,934.8 L255.6,933.2 L257.2,932.1 L258.8,931.2 L260.3,930.1 L262.1,929.9 L263.9,929.4 L265.7,929.5 L267.5,929.9 L269.1,930.7 L270.7,931.6 L271.9,933.1 L273.2,934.4 L274.2,936.1 L275.0,937.8 L275.8,939.6" fill="none" stroke="#111" stroke-width="1.7" stroke-linecap="round"/>
<path d="M283.3,954.2 L282.5,955.9 L281.6,957.6 L280.6,959.2 L279.4,960.6 L278.2,962.0 L276.8,963.3 L275.4,964.5 L273.9,965.6 L272.3,966.5 L270.6,967.3 L268.9,967.9 L267.1,968.4 L265.3,968.8 L263.5,969.0 L261.7,969.0 L259.8,968.9 L258.0,968.6 L256.2,968.2 L254.5,967.7 L252.8,967.0 L251.1,966.1 L249.5,965.2 L248.0,964.1 L246.6,962.9" fill="none" stroke="#333" stroke-width="1.1" stroke-dasharray="5 3"/>
<path d="M380.5,951.6 L381.1,954.8 L379.6,957.7 L378.2,960.4 L377.0,963.3 L374.8,965.7 L372.3,967.8 L369.4,969.4 L366.1,969.8 L363.0,971.4 L359.7,971.3 L356.4,970.8 L353.5,969.1 L350.5,968.0 L348.0,966.2 L345.1,964.5 L343.9,961.5 L342.4,958.8 L341.7,955.7 L340.7,952.7 L341.7,949.6 L342.0,946.5 L342.9,943.5 L345.0,941.0 L347.3,938.8 L349.6,936.5 L352.6,935.3 L355.4,933.5 L358.7,932.8 L362.0,933.3 L365.1,933.9 L368.3,934.4 L371.0,936.1 L374.2,937.1 L376.7,939.2 L378.3,942.0 L379.7,944.9 L380.7,947.9 L380.8,951.0 L380.9,954.1 L380.3,957.2" fill="none" stroke="#111" stroke-width="2.4" stroke-linecap="round"/>
<path d="M342.2,954.7 L341.8,952.6 L341.1,950.4 L341.4,948.2 L341.7,946.0 L342.6,944.0 L344.4,942.3 L346.1,940.7 L347.5,938.8 L349.7,937.5 L352.2,936.7 L354.6,935.7 L357.2,935.4 L359.9,935.2 L362.4,936.1 L365.2,936.0 L367.7,936.8 L369.6,938.4 L372.1,939.4 L373.4,941.4 L375.3,942.9 L376.4,945.0 L377.2,947.1 L376.7,949.3 L376.7,951.4 L376.6,953.6 L375.5,955.5 L374.4,957.4 L373.4,959.5 L371.4,961.0 L368.8,961.8 L366.5,962.8 L364.3,964.0 L361.6,964.3 L358.9,963.9 L356.2,964.5 L353.8,963.3" fill="none" stroke="#111" stroke-width="2.1" stroke-linecap="round"/>
<path d="M373.4,971.8 L370.2,973.1 L366.8,974.0 L363.3,973.8 L359.9,973.8 L356.5,973.0 L353.3,971.5 L350.5,969.4 L347.9,967.1 L345.9,964.2 L344.2,961.2 L343.2,957.9 L342.8,954.4 L343.5,951.1 L344.2,947.8 L345.4,944.6 L347.5,942.0 L349.6,939.4 L352.0,936.9 L355.0,935.2 L358.5,934.5 L361.8,934.0 L365.3,934.4 L368.7,934.7 L372.0,935.7 L374.8,937.9 L377.6,939.9 L380.0,942.4 L381.5,945.5 L382.7,948.7 L383.6,952.0" fill="none" stroke="#111" stroke-width="1.9" stroke-linecap="round"/>
<path d="M360.8,961.0 L359.1,961.2 L357.3,960.9 L355.6,960.6 L353.9,960.0 L352.5,958.8 L351.1,957.6 L349.8,956.4 L348.8,954.9 L348.2,953.2 L347.9,951.4 L347.5,949.6 L348.0,947.8 L348.0,945.9 L348.7,944.3 L349.9,942.9 L350.9,941.4 L352.0,940.0 L353.5,938.9 L355.2,938.5 L356.9,937.8 L358.6,937.4 L360.4,937.5 L362.2,937.7 L364.0,938.3" fill="none" stroke="#111" stroke-width="1.7" stroke-linecap="round"/>
<path d="M372.1,972.6 L371.0,973.1 L369.8,973.5 L368.6,973.9 L367.4,974.2 L366.2,974.5 L365.0,974.7 L363.8,974.9 L362.5,975.0 L361.3,975.0 L360.0,975.0 L358.8,974.9 L357.5,974.8 L356.3,974.6 L355.1,974.4 L353.9,974.1 L352.7,973.7 L351.6,973.3 L350.4,972.8 L349.3,972.3 L348.2,971.8 L347.2,971.2 L346.1,970.5 L345.2,969.8 L344.2,969.0" fill="none" stroke="#333" stroke-width="1.1" stroke-dasharray="5 3"/>
<path d="M460.9,951.2 L460.9,948.4 L461.1,945.5 L462.3,942.8 L464.1,940.3 L465.7,937.6 L468.6,936.0 L471.1,934.0 L474.0,932.4 L477.2,931.7 L480.4,930.3 L483.6,930.9 L486.8,931.1 L490.1,931.3 L492.7,933.0 L495.0,934.8 L497.4,936.6 L499.7,938.5 L500.9,941.2 L501.2,944.1 L501.2,946.9 L502.1,949.8 L500.6,952.6 L499.2,955.2 L498.0,957.9 L496.2,960.6 L493.5,962.4 L491.0,964.5 L488.0,966.1 L484.7,966.8 L481.5,967.6 L478.2,967.4 L475.2,966.5 L471.9,966.3 L469.3,964.7 L466.4,963.6 L464.1,961.6 L462.8,959.0 L461.2,956.6 L461.1,953.7 L460.2,951.0" fill="none" stroke="#111" stroke-width="2.4" stroke-linecap="round"/>
<path d="M491.2,961.8 L488.2,961.8 L485.4,963.0 L482.5,962.2 L479.7,961.9 L476.8,961.4 L474.6,959.6 L471.9,958.6 L470.3,956.3 L468.3,954.4 L467.3,951.9 L467.0,949.2 L466.1,946.7 L466.2,944.0 L467.1,941.4 L468.9,939.2 L470.1,936.8 L472.3,935.1 L474.3,933.1 L476.9,932.0 L479.5,930.8 L482.3,929.9 L485.3,929.9 L488.2,930.2 L490.7,931.6 L493.5,932.4 L495.8,933.9 L498.1,935.6 L500.0,937.6 L500.4,940.4 L502.2,942.6 L502.0,945.3 L501.6,947.9 L501.7,950.6 L500.6,953.0 L499.6,955.6 L497.6,957.6" fill="none" stroke="#111" stroke-width="2.1" stroke-linecap="round"/>
<path d="M461.7,942.8 L463.2,940.4 L465.3,938.5 L467.2,936.4 L469.8,935.0 L472.6,933.7 L475.8,933.2 L479.1,933.2 L482.3,933.1 L485.6,933.4 L488.8,934.6 L491.9,935.8 L494.8,937.3 L497.3,939.4 L499.6,941.6 L501.6,944.0 L503.5,946.5 L504.4,949.3 L504.4,952.1 L504.6,954.8 L504.5,957.6 L502.9,959.9 L502.1,962.5 L500.2,964.6 L497.7,966.2 L495.0,967.5 L492.3,968.7 L489.2,969.4 L486.1,970.0 L482.7,969.4 L479.5,968.9" fill="none" stroke="#111" stroke-width="1.9" stroke-linecap="round"/>
<path d="M506.2,954.4 L505.5,956.3 L504.7,958.0 L503.7,959.8 L502.5,961.4 L501.1,962.9 L499.6,964.3 L498.0,965.6 L496.2,966.8 L494.3,967.9 L492.4,968.8 L490.3,969.6 L488.1,970.2 L485.9,970.6 L483.7,970.9 L481.5,971.0 L479.2,970.9 L477.0,970.7 L474.7,970.4 L472.6,969.8 L470.5,969.1 L468.4,968.3 L466.5,967.3 L464.7,966.1 L463.0,964.9" fill="none" stroke="#333" stroke-width="1.1" stroke-dasharray="5 3"/>
<path d="M576.5,958.4 L574.8,955.8 L572.7,953.4 L572.0,950.3 L570.7,947.3 L571.3,944.1 L571.8,941.1 L572.7,938.1 L573.5,935.0 L575.3,932.3 L577.5,929.9 L580.4,928.3 L583.3,926.7 L586.5,925.9 L589.7,925.1 L592.9,925.5 L596.3,925.0 L599.3,926.3 L602.4,927.6 L604.8,929.7 L607.5,931.5 L609.2,934.1 L611.7,936.4 L611.7,939.8 L612.7,942.7 L612.4,945.8 L612.2,948.9 L611.7,952.0 L609.8,954.5 L608.6,957.5 L606.3,959.8 L603.8,961.9 L600.6,963.0 L597.7,964.4 L594.4,964.7 L591.1,965.2 L587.7,965.2 L584.8,963.4 L581.6,962.6 L578.7,961.0 L576.8,958.4" fill="none" stroke="#111" stroke-width="2.4" stroke-linecap="round"/>
<path d="M584.5,930.2 L586.8,929.3 L589.1,928.3 L591.3,927.5 L593.7,926.9 L596.1,927.1 L598.2,928.1 L600.3,929.0 L602.2,930.4 L604.0,931.9 L604.9,934.4 L606.6,936.2 L607.2,938.7 L607.7,941.3 L608.0,943.9 L607.1,946.6 L606.9,949.2 L606.3,952.0 L604.5,954.0 L603.2,956.4 L601.2,958.1 L599.5,960.2 L597.3,961.4 L594.9,961.8 L592.6,962.3 L590.3,962.7 L588.0,962.5 L585.7,962.3 L583.5,961.4 L581.8,959.6 L580.5,957.5 L578.8,955.8 L577.3,953.8 L577.4,951.0 L576.6,948.6 L576.7,945.9 L576.6,943.3" fill="none" stroke="#111" stroke-width="2.1" stroke-linecap="round"/>
<path d="M567.6,945.4 L567.4,942.0 L568.7,938.8 L569.5,935.5 L571.3,932.6 L573.3,929.8 L576.0,927.6 L578.7,925.3 L582.1,924.2 L585.3,922.7 L588.9,922.9 L592.4,922.9 L595.9,923.3 L599.0,924.9 L602.0,926.5 L604.7,928.5 L607.1,930.9 L609.0,933.7 L610.1,936.9 L610.5,940.2 L610.9,943.6 L610.8,947.0 L609.2,950.1 L607.5,953.0 L605.4,955.7 L603.2,958.4 L600.6,960.7 L597.3,962.3 L593.9,963.2 L590.3,963.3 L586.8,963.5" fill="none" stroke="#111" stroke-width="1.9" stroke-linecap="round"/>
<path d="M581.6,937.5 L582.5,936.1 L583.3,934.7 L584.8,933.8 L586.0,932.7 L587.6,931.9 L589.1,931.1 L590.8,930.8 L592.6,930.6 L594.4,930.9 L596.1,931.1 L597.9,931.4 L599.6,932.2 L601.2,933.0 L602.4,934.3 L603.7,935.5 L604.6,937.0 L605.6,938.4 L605.9,940.0 L606.3,941.7 L606.5,943.3 L606.1,944.9 L605.7,946.4 L604.8,947.8 L604.3,949.4" fill="none" stroke="#111" stroke-width="1.7" stroke-linecap="round"/>
<path d="M566.0,944.8 L566.1,943.0 L566.3,941.1 L566.7,939.3 L567.3,937.5 L568.0,935.7 L568.9,934.0 L569.9,932.4 L571.0,930.9 L572.2,929.4 L573.6,928.0 L575.1,926.8 L576.7,925.6 L578.4,924.6 L580.1,923.6 L582.0,922.9 L583.9,922.2 L585.8,921.7 L587.8,921.3 L589.8,921.1 L591.8,921.0 L593.8,921.1 L595.9,921.3 L597.8,921.6 L599.8,922.1" fill="none" stroke="#333" stroke-width="1.1" stroke-dasharray="5 3"/>
<path d="M727.4,965.9 L725.1,969.4 L721.6,971.6 L718.1,974.0 L714.2,975.2 L710.1,975.4 L706.0,975.0 L702.2,973.5 L698.4,972.2 L695.2,969.8 L691.9,967.3 L689.2,964.2 L687.7,960.3 L687.1,956.1 L685.9,952.1 L686.0,947.9 L686.3,943.7 L688.4,940.0 L690.3,936.3 L692.5,932.8 L695.7,930.0 L699.2,927.9 L702.9,926.1 L706.9,925.7 L710.8,925.7 L714.8,925.6 L718.7,926.5 L722.5,928.0 L725.5,930.8 L728.2,933.8 L731.3,936.6 L733.0,940.5 L733.2,944.8 L734.6,948.8 L733.6,953.0 L732.3,956.9 L731.8,961.2 L729.3,964.6 L727.1,968.2 L723.4,970.3 L719.7,971.9" fill="none" stroke="#111" stroke-width="2.4" stroke-linecap="round"/>
<path d="M694.1,938.8 L696.2,936.5 L698.2,934.0 L700.2,931.4 L703.5,930.8 L706.4,929.8 L709.3,928.2 L712.6,928.4 L715.7,929.2 L718.8,930.3 L721.6,931.9 L724.3,933.8 L726.7,936.0 L727.9,939.2 L729.5,942.0 L730.5,945.1 L730.5,948.3 L730.3,951.5 L730.2,954.8 L729.4,958.0 L727.6,960.7 L725.0,962.7 L722.6,964.7 L720.3,966.9 L717.1,967.9 L713.9,968.2 L710.8,967.6 L707.7,967.1 L704.4,966.8 L701.7,964.9 L699.0,963.2 L697.1,960.4 L694.8,958.1 L693.5,955.0 L693.1,951.8 L692.7,948.6 L692.7,945.4" fill="none" stroke="#111" stroke-width="2.1" stroke-linecap="round"/>
<path d="M724.6,972.2 L721.8,974.4 L718.5,975.7 L715.1,976.9 L711.5,977.3 L707.9,976.8 L704.3,976.7 L701.0,975.3 L697.9,973.9 L694.4,972.6 L691.7,970.3 L689.3,967.7 L687.6,964.6 L686.2,961.4 L685.4,958.0 L684.9,954.5 L685.1,951.0 L685.1,947.5 L686.6,944.2 L687.7,940.9 L690.1,938.2 L692.6,935.6 L695.1,933.0 L698.1,931.0 L701.4,929.7 L705.0,929.0 L708.5,928.6 L712.1,928.0 L715.5,928.9 L719.2,929.1 L722.3,930.9" fill="none" stroke="#111" stroke-width="1.9" stroke-linecap="round"/>
<path d="M706.3,978.8 L703.1,978.2 L700.1,977.3 L697.2,976.0 L694.4,974.5 L691.8,972.6 L689.5,970.5 L687.4,968.1 L685.5,965.5 L684.0,962.8 L682.7,959.8 L681.8,956.8 L681.2,953.7 L681.0,950.5 L681.1,947.3 L681.6,944.2 L682.4,941.1 L683.5,938.1 L685.0,935.3 L686.8,932.7 L688.8,930.2 L691.1,928.0 L693.6,926.1 L696.3,924.4 L699.2,923.1" fill="none" stroke="#333" stroke-width="1.1" stroke-dasharray="5 3"/>
<path d="M276.4,1032.9 L275.5,1036.2 L274.6,1039.5 L272.9,1042.4 L271.4,1045.6 L268.6,1047.6 L266.0,1049.6 L263.0,1051.3 L259.7,1051.8 L256.5,1053.4 L253.1,1052.3 L249.8,1051.9 L246.3,1051.7 L243.3,1049.9 L241.2,1047.0 L238.8,1044.8 L236.7,1042.1 L235.8,1038.8 L234.7,1035.7 L234.2,1032.3 L233.6,1028.9 L235.5,1025.8 L236.1,1022.4 L238.4,1019.8 L240.2,1016.9 L243.3,1015.3 L245.7,1012.8 L248.9,1011.4 L252.4,1011.7 L255.8,1010.4 L259.2,1011.0 L262.3,1012.6 L265.5,1013.8 L267.9,1016.2 L270.5,1018.4 L272.3,1021.1 L274.2,1023.9 L275.1,1027.2 L275.4,1030.5 L275.4,1033.8 L275.0,1037.1" fill="none" stroke="#111" stroke-width="2.4" stroke-linecap="round"/>
<path d="M241.8,1045.3 L240.2,1043.1 L238.1,1041.2 L237.4,1038.4 L236.7,1035.7 L236.6,1032.9 L236.7,1030.1 L237.4,1027.4 L238.8,1024.9 L240.6,1022.9 L242.5,1021.0 L244.9,1019.9 L247.2,1018.3 L249.9,1018.1 L252.5,1018.5 L255.2,1018.6 L257.9,1018.9 L260.1,1020.8 L262.1,1022.6 L264.5,1024.1 L265.6,1026.8 L266.8,1029.3 L267.2,1032.1 L267.3,1034.8 L267.1,1037.6 L266.9,1040.4 L265.3,1042.7 L263.9,1045.0 L261.9,1046.9 L259.5,1048.0 L257.3,1049.7 L254.6,1050.3 L251.9,1049.7 L249.3,1049.3 L246.6,1049.1 L244.4,1047.3 L241.8,1046.2" fill="none" stroke="#111" stroke-width="2.1" stroke-linecap="round"/>
<path d="M233.8,1022.7 L235.0,1020.8 L236.4,1018.9 L237.5,1016.9 L239.7,1015.8 L241.3,1014.2 L243.2,1012.9 L245.4,1012.0 L247.5,1011.1 L249.6,1009.9 L252.0,1009.8 L254.4,1009.5 L256.8,1009.9 L259.2,1009.6 L261.6,1010.1 L263.7,1011.3 L265.7,1012.4 L267.8,1013.5 L269.7,1014.9 L271.4,1016.4 L273.2,1017.9 L274.6,1019.7 L275.8,1021.7 L276.5,1023.9 L277.3,1026.0 L277.6,1028.2 L277.2,1030.5 L277.2,1032.6 L277.0,1034.8 L276.3,1036.9 L275.6,1039.0" fill="none" stroke="#111" stroke-width="1.9" stroke-linecap="round"/>
<path d="M253.9,1007.0 L255.9,1007.0 L257.9,1007.2 L259.8,1007.4 L261.8,1007.9 L263.7,1008.4 L265.5,1009.1 L267.3,1010.0 L269.0,1010.9 L270.6,1012.0 L272.2,1013.2 L273.6,1014.5 L274.9,1016.0 L276.1,1017.5 L277.2,1019.1 L278.2,1020.7 L279.0,1022.5 L279.7,1024.2 L280.3,1026.1 L280.7,1027.9 L280.9,1029.8 L281.0,1031.7 L280.9,1033.6 L280.7,1035.5 L280.4,1037.4" fill="none" stroke="#333" stroke-width="1.1" stroke-dasharray="5 3"/>
<path d="M377.5,1033.1 L378.0,1036.1 L377.8,1039.2 L377.2,1042.2 L375.6,1045.0 L373.2,1047.2 L371.7,1050.1 L369.0,1052.0 L365.6,1052.8 L362.7,1054.6 L359.4,1055.3 L355.9,1055.4 L352.5,1055.1 L349.5,1053.6 L346.3,1052.7 L343.4,1051.1 L340.9,1049.0 L339.1,1046.4 L337.2,1043.8 L336.4,1040.8 L336.2,1037.7 L335.5,1034.7 L336.7,1031.7 L338.1,1029.0 L338.8,1025.9 L341.4,1023.7 L343.4,1021.2 L346.2,1019.3 L349.3,1018.1 L352.6,1017.2 L356.0,1017.2 L359.3,1017.1 L362.6,1017.7 L366.0,1018.3 L368.6,1020.3 L371.3,1022.0 L373.9,1024.0 L375.0,1026.9 L377.1,1029.3 L377.7,1032.4 L378.2,1035.4" fill="none" stroke="#111" stroke-width="2.4" stroke-linecap="round"/>
<path d="M339.7,1032.3 L340.7,1030.2 L342.4,1028.5 L344.3,1027.0 L346.3,1025.7 L348.5,1024.5 L350.7,1023.6 L353.2,1023.1 L355.6,1022.7 L358.0,1022.9 L360.4,1023.3 L362.9,1023.5 L364.9,1024.7 L367.1,1025.7 L368.4,1027.5 L370.2,1028.9 L371.0,1031.0 L372.0,1032.9 L372.3,1035.1 L372.3,1037.2 L373.0,1039.5 L371.7,1041.6 L370.6,1043.6 L370.0,1045.9 L368.0,1047.4 L366.3,1049.1 L364.5,1050.7 L362.3,1051.8 L360.1,1052.9 L357.7,1053.6 L355.2,1053.9 L352.7,1054.4 L350.3,1053.8 L347.8,1053.7 L345.6,1052.7 L343.4,1051.7 L341.9,1049.9" fill="none" stroke="#111" stroke-width="2.1" stroke-linecap="round"/>
<path d="M376.1,1049.4 L374.7,1052.4 L371.7,1054.4 L369.1,1056.7 L365.7,1057.8 L362.2,1058.5 L358.8,1059.2 L355.2,1059.0 L351.7,1058.3 L348.2,1057.6 L345.0,1056.0 L342.3,1053.7 L339.9,1051.3 L337.9,1048.5 L336.7,1045.4 L335.5,1042.3 L335.3,1038.9 L335.3,1035.6 L336.3,1032.4 L337.6,1029.3 L340.2,1026.9 L342.2,1024.3 L345.2,1022.4 L348.2,1020.7 L351.5,1019.8 L354.9,1018.6 L358.5,1018.8 L362.1,1019.2 L365.6,1019.9 L368.8,1021.4 L371.8,1023.3" fill="none" stroke="#111" stroke-width="1.9" stroke-linecap="round"/>
<path d="M367.2,1033.2 L367.7,1034.1 L367.8,1035.1 L367.7,1036.0 L367.9,1037.0 L367.5,1038.0 L367.2,1038.9 L366.8,1039.8 L366.6,1040.8 L366.0,1041.6 L365.3,1042.4 L364.6,1043.2 L363.8,1043.9 L362.7,1044.3 L361.8,1044.8 L360.8,1045.4 L359.8,1045.7 L358.7,1046.0 L357.7,1046.1 L356.6,1046.2 L355.5,1046.4 L354.4,1046.1 L353.4,1045.9 L352.3,1045.7 L351.3,1045.3" fill="none" stroke="#111" stroke-width="1.7" stroke-linecap="round"/>
<path d="M365.0,1014.1 L367.4,1014.9 L369.8,1016.0 L372.0,1017.2 L374.1,1018.6 L375.9,1020.2 L377.6,1022.0 L379.1,1023.9 L380.4,1025.9 L381.4,1028.1 L382.2,1030.3 L382.7,1032.5 L383.0,1034.8 L383.0,1037.2 L382.7,1039.5 L382.2,1041.7 L381.4,1043.9 L380.4,1046.1 L379.1,1048.1 L377.6,1050.0 L375.9,1051.8 L374.1,1053.4 L372.0,1054.8 L369.8,1056.0 L367.5,1057.1" fill="none" stroke="#333" stroke-width="1.1" stroke-dasharray="5 3"/>
<path d="M499.9,1039.6 L499.2,1042.7 L496.7,1045.0 L494.8,1047.6 L492.3,1049.7 L489.4,1051.2 L486.5,1052.9 L483.2,1054.2 L479.8,1054.5 L476.4,1054.0 L473.3,1052.7 L469.9,1052.2 L467.4,1050.1 L464.6,1048.5 L462.4,1046.2 L460.4,1043.6 L459.7,1040.6 L459.5,1037.5 L459.6,1034.4 L459.3,1031.3 L460.8,1028.4 L462.4,1025.7 L464.2,1023.0 L466.5,1020.6 L469.4,1018.8 L472.7,1018.0 L475.7,1016.1 L479.1,1015.8 L482.6,1015.6 L485.9,1016.3 L489.1,1017.3 L491.8,1019.2 L494.5,1021.0 L497.3,1022.8 L498.4,1025.8 L500.4,1028.3 L500.4,1031.5 L500.9,1034.6 L501.2,1037.7 L499.9,1040.7 L498.4,1043.6" fill="none" stroke="#111" stroke-width="2.4" stroke-linecap="round"/>
<path d="M469.6,1019.9 L471.9,1018.9 L473.8,1016.9 L476.1,1016.0 L478.4,1015.9 L480.7,1015.7 L483.0,1015.3 L485.3,1015.5 L487.2,1016.9 L489.3,1017.7 L490.9,1019.3 L491.9,1021.5 L493.6,1023.2 L494.0,1025.6 L494.4,1028.1 L494.8,1030.5 L494.3,1033.0 L494.5,1035.7 L493.0,1037.9 L492.6,1040.7 L491.2,1043.0 L489.4,1045.0 L487.3,1046.5 L485.4,1048.3 L482.9,1048.6 L480.7,1049.7 L478.4,1050.2 L476.2,1049.9 L473.8,1050.1 L471.6,1049.5 L469.8,1048.0 L468.4,1046.3 L466.7,1044.9 L465.0,1043.3 L463.9,1041.1 L463.8,1038.5 L463.9,1035.9" fill="none" stroke="#111" stroke-width="2.1" stroke-linecap="round"/>
<path d="M457.1,1030.6 L458.2,1027.4 L459.5,1024.3 L461.3,1021.3 L464.2,1019.0 L467.0,1016.6 L470.5,1015.0 L474.4,1013.9 L478.3,1012.8 L482.4,1013.0 L486.5,1013.4 L490.5,1014.6 L493.9,1016.5 L497.2,1018.6 L499.9,1021.1 L502.4,1023.8 L503.7,1027.0 L504.4,1030.3 L505.2,1033.6 L504.1,1036.8 L503.6,1040.2 L501.1,1042.9 L498.9,1045.7 L496.0,1048.1 L492.1,1049.3 L488.6,1051.0 L484.4,1051.2 L480.3,1051.5 L476.3,1050.9 L472.3,1049.9 L468.5,1048.4" fill="none" stroke="#111" stroke-width="1.9" stroke-linecap="round"/>
<path d="M461.1,1050.8 L459.5,1049.2 L458.1,1047.4 L456.9,1045.5 L455.9,1043.6 L455.1,1041.5 L454.5,1039.4 L454.1,1037.3 L454.0,1035.1 L454.1,1033.0 L454.4,1030.8 L455.0,1028.7 L455.8,1026.7 L456.8,1024.7 L458.0,1022.8 L459.4,1021.0 L460.9,1019.4 L462.7,1017.8 L464.6,1016.5 L466.6,1015.3 L468.8,1014.3 L471.0,1013.4 L473.4,1012.8 L475.8,1012.3 L478.2,1012.1" fill="none" stroke="#333" stroke-width="1.1" stroke-dasharray="5 3"/>
<path d="M610.0,1052.0 L606.0,1052.7 L601.9,1053.6 L597.9,1052.1 L594.0,1051.3 L590.0,1050.1 L587.1,1047.1 L583.9,1044.7 L581.5,1041.4 L580.1,1037.6 L578.8,1033.8 L578.4,1029.8 L578.2,1025.7 L579.4,1021.8 L580.6,1017.9 L583.1,1014.6 L585.4,1011.2 L588.6,1008.5 L592.4,1006.8 L596.2,1005.2 L600.4,1005.1 L604.4,1005.7 L608.6,1005.3 L612.1,1007.7 L615.5,1009.9 L619.2,1011.8 L621.1,1015.5 L623.7,1018.6 L625.0,1022.5 L625.2,1026.6 L625.9,1030.6 L624.8,1034.5 L624.3,1038.6 L622.5,1042.4 L619.5,1045.2 L616.6,1048.1 L613.1,1050.1 L609.4,1052.0 L605.5,1053.4 L601.3,1052.6 L597.2,1052.7" fill="none" stroke="#111" stroke-width="2.4" stroke-linecap="round"/>
<path d="M592.8,1038.5 L590.8,1036.2 L589.1,1033.5 L588.0,1030.5 L588.0,1027.3 L588.1,1024.2 L588.4,1021.1 L589.4,1018.3 L589.8,1015.2 L591.5,1012.7 L594.0,1011.2 L595.7,1008.7 L598.4,1007.9 L601.0,1006.9 L603.8,1006.6 L606.6,1006.6 L609.3,1007.9 L612.0,1008.9 L614.5,1010.3 L616.8,1012.2 L618.9,1014.5 L620.1,1017.5 L621.3,1020.4 L622.6,1023.2 L622.7,1026.4 L623.3,1029.6 L622.7,1032.7 L621.8,1035.7 L620.4,1038.4 L618.6,1040.7 L616.5,1042.7 L613.7,1043.5 L611.5,1045.5 L608.8,1046.2 L606.0,1045.5 L603.2,1045.2 L600.3,1045.2" fill="none" stroke="#111" stroke-width="2.1" stroke-linecap="round"/>
<path d="M585.5,1048.4 L583.6,1046.1 L581.3,1044.5 L579.0,1042.6 L577.6,1040.1 L577.0,1037.2 L575.5,1034.8 L575.3,1031.9 L575.0,1029.2 L574.4,1026.3 L574.7,1023.5 L575.4,1020.7 L577.3,1018.4 L578.7,1015.9 L580.0,1013.4 L581.9,1011.3 L584.2,1009.6 L586.2,1007.4 L588.9,1006.4 L591.5,1004.9 L594.5,1005.0 L597.3,1004.2 L600.2,1004.5 L603.1,1003.9 L606.0,1004.6 L608.5,1006.2 L611.2,1007.2 L614.0,1008.3 L616.0,1010.3 L617.9,1012.5 L619.8,1014.6" fill="none" stroke="#111" stroke-width="1.9" stroke-linecap="round"/>
<path d="M613.5,1020.3 L614.7,1021.7 L615.4,1023.4 L615.7,1025.1 L616.7,1026.7 L616.4,1028.5 L616.8,1030.3 L616.1,1032.0 L615.6,1033.7 L615.3,1035.5 L614.2,1037.0 L613.4,1038.6 L611.8,1039.7 L610.4,1040.9 L608.9,1042.0 L607.3,1043.1 L605.5,1043.7 L603.6,1044.2 L601.8,1044.7 L599.8,1045.1 L597.9,1045.0 L596.0,1044.6 L594.1,1044.1 L592.3,1043.4 L590.5,1042.8" fill="none" stroke="#111" stroke-width="1.7" stroke-linecap="round"/>
<path d="M581.9,1049.2 L580.0,1047.2 L578.3,1045.1 L576.8,1042.9 L575.6,1040.5 L574.6,1038.1 L573.8,1035.5 L573.3,1032.9 L573.0,1030.3 L573.0,1027.6 L573.3,1025.0 L573.8,1022.3 L574.6,1019.8 L575.6,1017.3 L576.9,1015.0 L578.4,1012.7 L580.1,1010.7 L582.0,1008.7 L584.1,1007.0 L586.3,1005.5 L588.7,1004.1 L591.2,1003.0 L593.8,1002.1 L596.5,1001.5 L599.2,1001.1" fill="none" stroke="#333" stroke-width="1.1" stroke-dasharray="5 3"/>
<path d="M722.2,1021.1 L725.9,1022.4 L728.3,1024.9 L731.0,1027.2 L733.7,1029.7 L734.1,1033.0 L734.8,1036.2 L733.8,1039.6 L733.5,1042.9 L732.6,1046.3 L730.4,1049.4 L727.0,1051.9 L724.2,1054.7 L720.4,1056.8 L716.0,1057.4 L712.0,1059.2 L707.7,1058.9 L703.5,1059.3 L699.5,1058.5 L695.9,1057.0 L692.5,1055.4 L688.6,1054.0 L686.3,1051.3 L685.0,1048.1 L683.3,1045.2 L682.9,1041.9 L683.6,1038.5 L683.9,1035.1 L685.4,1031.8 L688.3,1029.0 L690.4,1025.8 L694.3,1023.9 L698.0,1022.1 L701.6,1019.8 L705.9,1018.9 L710.2,1019.1 L714.4,1018.8 L718.3,1019.9 L722.5,1020.3 L725.3,1022.7 L729.3,1024.0" fill="none" stroke="#111" stroke-width="2.4" stroke-linecap="round"/>
<path d="M691.2,1056.2 L688.7,1054.3 L686.9,1051.9 L685.7,1049.0 L686.1,1045.7 L686.7,1042.5 L687.8,1039.2 L689.5,1036.1 L691.5,1033.0 L693.7,1029.7 L697.3,1027.6 L700.9,1025.7 L704.7,1024.3 L708.5,1023.0 L712.3,1022.8 L715.9,1023.0 L719.5,1023.4 L722.6,1024.7 L725.8,1026.0 L727.4,1028.7 L728.4,1031.6 L729.3,1034.4 L730.4,1037.4 L729.7,1040.7 L728.6,1044.1 L727.2,1047.4 L724.2,1050.2 L721.3,1052.9 L718.2,1055.5 L714.9,1058.0 L711.0,1059.5 L707.0,1060.1 L703.1,1060.7 L699.6,1060.0 L696.0,1059.4 L693.2,1057.9 L690.2,1056.4" fill="none" stroke="#111" stroke-width="2.1" stroke-linecap="round"/>
<path d="M704.4,1062.3 L700.2,1060.7 L696.2,1058.9 L692.3,1056.8 L689.3,1053.8 L685.9,1051.1 L683.8,1047.8 L681.8,1044.4 L681.4,1040.9 L680.9,1037.4 L680.9,1034.0 L681.7,1030.7 L684.2,1028.1 L685.7,1025.0 L688.5,1022.7 L692.2,1021.3 L695.8,1019.9 L699.9,1019.3 L703.9,1018.5 L708.3,1018.9 L712.6,1019.7 L716.9,1021.1 L721.2,1022.3 L724.6,1025.0 L728.7,1027.1 L731.1,1030.3 L733.8,1033.4 L735.6,1036.7 L736.6,1040.1 L737.2,1043.5 L737.2,1046.9" fill="none" stroke="#111" stroke-width="1.9" stroke-linecap="round"/>
<path d="M719.7,1032.1 L720.7,1033.8 L721.7,1035.4 L722.1,1037.2 L722.4,1039.0 L722.2,1040.8 L721.9,1042.7 L720.8,1044.3 L719.4,1045.8 L717.7,1047.2 L716.0,1048.5 L713.9,1049.5 L711.7,1050.3 L709.3,1050.7 L707.0,1050.4 L704.6,1050.6 L702.4,1049.8 L700.3,1049.1 L698.4,1048.1 L696.8,1046.8 L695.4,1045.4 L694.4,1043.8 L693.6,1042.1 L693.5,1040.3 L693.4,1038.5" fill="none" stroke="#111" stroke-width="1.7" stroke-linecap="round"/>
<path d="M739.8,1036.2 L739.9,1037.3 L740.0,1038.4 L740.0,1039.6 L739.9,1040.7 L739.8,1041.9 L739.6,1043.0 L739.3,1044.1 L738.9,1045.2 L738.5,1046.3 L738.0,1047.4 L737.5,1048.4 L736.9,1049.5 L736.2,1050.5 L735.5,1051.5 L734.7,1052.4 L733.8,1053.4 L732.9,1054.3 L732.0,1055.1 L731.0,1055.9 L729.9,1056.7 L728.8,1057.5 L727.6,1058.2 L726.4,1058.9 L725.2,1059.5" fill="none" stroke="#333" stroke-width="1.1" stroke-dasharray="5 3"/>
<path d="M272.9,1122.4 L270.9,1126.1 L269.1,1129.8 L266.6,1133.0 L263.6,1135.7 L260.4,1138.1 L256.7,1139.6 L252.9,1140.5 L249.0,1141.6 L245.1,1140.5 L241.2,1139.9 L237.4,1138.8 L234.6,1135.8 L231.9,1132.9 L229.6,1129.7 L227.6,1126.4 L226.2,1122.7 L225.1,1118.8 L225.7,1114.8 L225.0,1110.6 L226.7,1106.8 L228.4,1103.0 L230.4,1099.4 L233.9,1097.2 L237.0,1094.7 L240.2,1092.1 L244.1,1091.0 L248.1,1090.6 L252.0,1091.5 L256.0,1091.4 L259.2,1094.1 L262.6,1095.9 L265.9,1098.0 L267.9,1101.5 L270.0,1104.8 L272.6,1108.1 L272.6,1112.3 L272.5,1116.3 L273.1,1120.5 L271.1,1124.1 L270.3,1128.3" fill="none" stroke="#111" stroke-width="2.4" stroke-linecap="round"/>
<path d="M259.2,1137.5 L257.4,1139.8 L254.5,1139.8 L251.9,1140.3 L249.2,1140.5 L246.5,1139.6 L243.7,1139.5 L241.0,1138.0 L238.2,1136.9 L235.7,1134.8 L233.8,1132.2 L231.7,1129.6 L229.7,1127.0 L229.0,1123.7 L227.4,1120.7 L227.2,1117.5 L227.6,1114.4 L227.6,1111.4 L227.5,1108.2 L228.2,1105.2 L230.5,1103.4 L231.9,1101.2 L233.3,1098.6 L235.4,1096.9 L238.3,1096.7 L240.7,1095.6 L243.3,1095.1 L246.1,1095.2 L248.9,1096.0 L251.6,1096.8 L254.5,1097.8 L257.0,1099.7 L259.0,1102.5 L261.7,1104.3 L262.9,1107.5 L264.4,1110.4 L265.7,1113.3" fill="none" stroke="#111" stroke-width="2.1" stroke-linecap="round"/>
<path d="M259.5,1095.8 L262.5,1098.0 L264.8,1100.7 L267.6,1103.1 L269.5,1106.1 L271.2,1109.2 L272.8,1112.4 L272.7,1116.0 L273.8,1119.4 L272.9,1122.9 L272.4,1126.4 L271.1,1129.6 L269.4,1132.8 L267.3,1135.6 L264.4,1137.7 L261.8,1140.2 L258.5,1141.7 L255.4,1143.5 L251.6,1143.6 L248.0,1143.9 L244.5,1143.9 L240.9,1143.3 L237.4,1142.3 L234.0,1141.2 L230.8,1139.5 L228.0,1137.1 L225.8,1134.3 L223.7,1131.5 L222.1,1128.4 L220.3,1125.3 L219.8,1121.8" fill="none" stroke="#111" stroke-width="1.9" stroke-linecap="round"/>
<path d="M233.4,1140.5 L230.9,1138.7 L228.6,1136.6 L226.5,1134.3 L224.7,1131.8 L223.1,1129.1 L221.9,1126.3 L221.0,1123.4 L220.3,1120.3 L220.0,1117.3 L220.1,1114.2 L220.4,1111.1 L221.1,1108.1 L222.1,1105.2 L223.4,1102.4 L225.0,1099.7 L226.9,1097.3 L229.0,1095.0 L231.3,1093.0 L233.9,1091.3 L236.6,1089.8 L239.5,1088.6 L242.4,1087.8 L245.5,1087.2 L248.5,1087.0" fill="none" stroke="#333" stroke-width="1.1" stroke-dasharray="5 3"/>
<path d="M371.4,1103.9 L374.5,1105.4 L376.7,1107.8 L378.6,1110.3 L381.4,1112.4 L382.9,1115.3 L382.8,1118.5 L384.0,1121.4 L383.6,1124.5 L383.6,1127.6 L382.2,1130.4 L381.1,1133.3 L379.1,1135.8 L376.1,1137.3 L373.8,1139.5 L370.5,1140.3 L367.4,1141.1 L364.3,1142.3 L360.9,1141.9 L357.5,1142.0 L354.1,1141.0 L351.1,1139.5 L348.5,1137.4 L346.4,1135.0 L344.1,1132.7 L342.8,1129.8 L341.0,1127.2 L339.9,1124.2 L340.7,1121.1 L339.8,1117.9 L341.8,1115.3 L341.9,1112.0 L344.4,1109.9 L346.6,1107.7 L348.5,1105.1 L351.7,1104.0 L354.8,1102.9 L357.9,1101.6 L361.3,1101.4 L364.6,1102.7 L368.1,1102.7" fill="none" stroke="#111" stroke-width="2.4" stroke-linecap="round"/>
<path d="M369.9,1105.2 L372.1,1106.7 L374.0,1108.6 L375.9,1110.4 L377.6,1112.7 L377.9,1115.6 L378.7,1118.3 L379.5,1121.1 L378.5,1124.0 L378.3,1127.0 L376.9,1129.6 L374.9,1131.8 L373.1,1134.0 L371.2,1136.3 L368.7,1137.6 L366.0,1138.2 L363.4,1139.0 L360.7,1139.3 L358.0,1138.9 L355.4,1138.2 L353.3,1136.5 L350.8,1135.2 L349.2,1132.9 L347.9,1130.5 L346.5,1128.0 L346.2,1125.1 L346.1,1122.2 L346.8,1119.3 L347.5,1116.6 L347.9,1113.5 L349.7,1111.2 L351.7,1109.1 L353.9,1107.4 L356.2,1105.9 L358.7,1104.6 L361.3,1103.9 L364.0,1103.6" fill="none" stroke="#111" stroke-width="2.1" stroke-linecap="round"/>
<path d="M376.4,1136.7 L373.4,1138.6 L370.7,1140.8 L367.2,1141.7 L363.6,1142.6 L360.0,1142.1 L356.4,1141.5 L352.9,1140.6 L349.7,1139.0 L346.5,1137.3 L343.8,1134.8 L341.3,1132.1 L339.8,1128.9 L338.7,1125.5 L338.5,1122.1 L337.7,1118.6 L338.7,1115.3 L340.2,1112.2 L341.5,1109.0 L343.5,1106.2 L346.6,1104.5 L349.3,1102.2 L352.7,1101.0 L356.3,1100.7 L359.8,1100.3 L363.4,1100.8 L367.0,1101.4 L370.4,1102.8 L373.4,1104.9 L376.4,1107.0 L378.8,1109.7" fill="none" stroke="#111" stroke-width="1.9" stroke-linecap="round"/>
<path d="M354.4,1133.6 L353.1,1132.6 L351.8,1131.8 L350.6,1130.9 L349.7,1129.6 L349.0,1128.2 L348.2,1126.9 L347.9,1125.5 L347.4,1124.0 L347.6,1122.5 L347.6,1121.0 L347.6,1119.5 L348.2,1118.0 L348.9,1116.6 L349.5,1115.2 L350.8,1114.2 L351.9,1113.1 L353.1,1112.1 L354.4,1111.1 L355.9,1110.6 L357.5,1110.3 L359.0,1109.8 L360.6,1109.9 L362.1,1109.9 L363.7,1110.0" fill="none" stroke="#111" stroke-width="1.7" stroke-linecap="round"/>
<path d="M384.4,1108.6 L385.3,1109.9 L386.2,1111.4 L387.0,1112.9 L387.6,1114.4 L388.1,1116.0 L388.5,1117.6 L388.8,1119.2 L389.0,1120.8 L389.0,1122.5 L388.9,1124.1 L388.7,1125.7 L388.3,1127.3 L387.9,1128.9 L387.3,1130.5 L386.6,1132.0 L385.7,1133.4 L384.8,1134.8 L383.8,1136.2 L382.6,1137.5 L381.4,1138.7 L380.1,1139.8 L378.7,1140.9 L377.2,1141.9 L375.6,1142.7" fill="none" stroke="#333" stroke-width="1.1" stroke-dasharray="5 3"/>
<path d="M451.8,1108.6 L452.2,1105.3 L454.5,1102.8 L456.3,1100.0 L458.7,1097.6 L462.1,1096.6 L465.1,1095.0 L468.4,1094.2 L471.8,1094.4 L475.3,1094.2 L478.4,1095.9 L481.6,1097.0 L484.1,1099.2 L486.9,1101.2 L488.8,1104.0 L490.3,1107.0 L490.8,1110.3 L491.1,1113.6 L491.1,1117.0 L489.5,1120.0 L488.6,1123.2 L485.9,1125.4 L483.5,1127.8 L481.0,1130.1 L477.4,1130.6 L474.2,1131.7 L470.8,1132.3 L467.3,1131.8 L464.2,1130.3 L461.0,1129.2 L457.8,1127.7 L455.7,1125.0 L453.9,1122.3 L452.5,1119.3 L451.0,1116.3 L451.6,1112.9 L451.0,1109.6 L452.4,1106.6 L453.6,1103.5 L455.2,1100.6 L457.7,1098.2" fill="none" stroke="#111" stroke-width="2.4" stroke-linecap="round"/>
<path d="M479.2,1098.0 L481.4,1099.3 L483.0,1101.2 L484.0,1103.5 L485.3,1105.6 L485.9,1108.0 L485.6,1110.5 L485.4,1112.8 L485.2,1115.3 L483.8,1117.4 L483.2,1119.8 L481.3,1121.5 L479.5,1123.3 L477.6,1125.1 L475.0,1125.6 L472.6,1126.3 L470.2,1127.5 L467.6,1126.7 L464.9,1127.4 L462.4,1126.4 L460.3,1125.0 L457.8,1124.3 L456.2,1122.4 L454.4,1120.6 L452.6,1118.9 L452.3,1116.3 L451.4,1114.1 L450.5,1111.7 L451.0,1109.3 L451.4,1106.9 L452.8,1104.8 L453.1,1102.2 L454.9,1100.3 L456.6,1098.4 L459.1,1097.5 L461.3,1096.3 L463.7,1095.3" fill="none" stroke="#111" stroke-width="2.1" stroke-linecap="round"/>
<path d="M486.6,1104.9 L487.8,1107.2 L489.2,1109.5 L489.8,1112.0 L491.0,1114.5 L490.4,1117.0 L490.6,1119.6 L489.6,1122.0 L488.5,1124.3 L487.0,1126.5 L485.6,1128.7 L483.3,1130.2 L480.8,1131.6 L478.4,1133.0 L475.6,1133.7 L472.9,1134.4 L470.0,1134.7 L467.0,1135.1 L464.1,1134.4 L461.2,1133.9 L458.7,1132.3 L456.1,1131.2 L453.5,1129.9 L451.5,1127.9 L449.4,1126.0 L448.4,1123.5 L446.9,1121.2 L446.7,1118.6 L446.0,1116.1 L446.1,1113.6 L446.5,1111.1" fill="none" stroke="#111" stroke-width="1.9" stroke-linecap="round"/>
<path d="M494.5,1105.2 L495.2,1107.1 L495.6,1109.0 L495.9,1111.0 L496.0,1113.0 L495.9,1115.0 L495.6,1117.0 L495.1,1118.9 L494.5,1120.9 L493.7,1122.7 L492.7,1124.5 L491.5,1126.2 L490.2,1127.8 L488.7,1129.2 L487.1,1130.6 L485.4,1131.8 L483.6,1132.9 L481.6,1133.8 L479.6,1134.6 L477.6,1135.2 L475.4,1135.6 L473.3,1135.9 L471.1,1136.0 L468.9,1135.9 L466.8,1135.7" fill="none" stroke="#333" stroke-width="1.1" stroke-dasharray="5 3"/>
<path d="M635.9,1109.4 L636.4,1112.4 L635.7,1115.5 L634.7,1118.7 L632.0,1121.5 L628.9,1124.0 L626.0,1126.7 L622.5,1129.1 L618.3,1130.8 L613.7,1131.4 L609.3,1132.8 L604.7,1133.6 L600.3,1132.8 L595.9,1132.5 L591.4,1132.0 L587.5,1130.5 L584.9,1128.1 L582.5,1125.7 L580.1,1123.3 L577.7,1120.8 L576.9,1117.8 L577.9,1114.6 L578.1,1111.5 L579.3,1108.4 L581.1,1105.4 L583.9,1102.6 L587.4,1100.3 L590.5,1097.8 L594.4,1095.8 L598.5,1093.9 L603.4,1093.9 L607.9,1092.4 L612.4,1092.8 L616.7,1093.5 L621.3,1093.7 L624.4,1095.9 L628.0,1097.4 L631.3,1099.3 L633.4,1101.8 L635.8,1104.3 L635.6,1107.5" fill="none" stroke="#111" stroke-width="2.4" stroke-linecap="round"/>
<path d="M611.5,1124.7 L608.1,1125.5 L604.5,1125.4 L601.1,1125.5 L597.7,1125.6 L594.5,1124.9 L591.1,1124.7 L588.4,1123.5 L585.7,1122.3 L583.8,1120.6 L582.3,1118.8 L581.0,1116.9 L580.1,1114.9 L579.4,1112.9 L579.4,1110.7 L580.6,1108.5 L581.0,1106.3 L582.8,1104.3 L584.1,1102.2 L586.2,1100.2 L589.4,1098.9 L592.6,1097.8 L595.4,1096.2 L598.7,1095.3 L602.2,1094.9 L605.7,1094.5 L609.2,1094.3 L612.3,1095.2 L615.5,1095.7 L618.7,1096.3 L620.6,1098.1 L623.6,1099.1 L624.9,1101.1 L626.4,1102.8 L628.2,1104.7 L628.7,1106.8 L628.2,1109.1" fill="none" stroke="#111" stroke-width="2.1" stroke-linecap="round"/>
<path d="M574.7,1104.7 L577.3,1101.6 L579.8,1098.3 L584.6,1096.4 L589.0,1094.3 L593.8,1092.6 L599.2,1092.2 L604.6,1091.1 L610.1,1091.6 L615.5,1092.4 L620.4,1094.2 L625.2,1096.0 L628.7,1098.9 L633.0,1101.3 L635.8,1104.6 L637.2,1108.1 L638.4,1111.7 L637.9,1115.4 L637.3,1119.0 L635.7,1122.4 L633.6,1125.8 L630.5,1128.8 L625.8,1130.8 L621.9,1133.4 L616.7,1134.7 L611.2,1135.2 L605.9,1136.1 L600.4,1135.4 L595.2,1134.3 L590.0,1133.2 L585.6,1131.0" fill="none" stroke="#111" stroke-width="1.9" stroke-linecap="round"/>
<path d="M619.5,1135.4 L617.5,1135.9 L615.4,1136.3 L613.3,1136.6 L611.2,1136.8 L609.1,1137.0 L606.9,1137.0 L604.8,1137.0 L602.6,1136.8 L600.5,1136.6 L598.4,1136.3 L596.4,1135.9 L594.4,1135.4 L592.4,1134.8 L590.5,1134.2 L588.6,1133.4 L586.8,1132.6 L585.1,1131.7 L583.5,1130.8 L581.9,1129.7 L580.5,1128.7 L579.1,1127.5 L577.9,1126.3 L576.8,1125.1 L575.7,1123.8" fill="none" stroke="#333" stroke-width="1.1" stroke-dasharray="5 3"/>
<path d="M738.8,1111.5 L737.5,1114.3 L735.2,1116.8 L732.0,1118.9 L729.0,1121.2 L725.3,1123.1 L720.8,1123.7 L716.7,1125.1 L712.3,1125.1 L708.0,1124.8 L704.0,1124.2 L699.8,1123.7 L696.0,1122.6 L693.0,1120.6 L689.9,1118.9 L687.6,1116.6 L687.1,1113.7 L685.6,1111.2 L684.9,1108.5 L685.0,1105.6 L687.1,1102.9 L688.0,1100.1 L690.8,1097.7 L692.8,1095.0 L696.7,1093.3 L700.1,1091.2 L704.3,1090.0 L708.6,1089.4 L713.0,1089.1 L717.3,1089.2 L721.4,1089.5 L725.3,1090.5 L729.8,1090.9 L733.0,1092.7 L735.7,1094.8 L737.2,1097.4 L740.2,1099.4 L740.5,1102.3 L741.1,1105.0 L740.2,1107.9 L740.3,1110.8" fill="none" stroke="#111" stroke-width="2.4" stroke-linecap="round"/>
<path d="M731.4,1100.2 L731.6,1102.7 L733.0,1105.0 L733.0,1107.5 L731.9,1109.9 L730.8,1112.3 L729.4,1114.6 L727.4,1116.6 L725.2,1118.5 L722.5,1120.0 L719.3,1120.8 L716.2,1121.4 L713.0,1122.5 L709.8,1121.8 L706.5,1121.9 L703.5,1120.9 L700.9,1119.5 L698.4,1118.0 L696.4,1116.2 L694.2,1114.4 L693.0,1112.2 L692.7,1109.7 L691.9,1107.3 L692.6,1104.9 L692.4,1102.3 L693.8,1099.9 L696.1,1098.0 L697.8,1095.8 L700.5,1094.3 L703.4,1093.2 L706.2,1091.8 L709.3,1090.8 L712.7,1090.8 L716.0,1090.7 L719.1,1091.6 L722.2,1092.4 L724.4,1094.2" fill="none" stroke="#111" stroke-width="2.1" stroke-linecap="round"/>
<path d="M735.7,1105.3 L736.8,1107.9 L738.3,1110.5 L738.6,1113.1 L737.7,1115.4 L737.7,1117.8 L736.5,1120.0 L735.0,1122.0 L733.0,1123.6 L730.7,1125.2 L727.9,1126.3 L724.4,1126.6 L721.4,1127.7 L717.7,1127.5 L714.1,1127.4 L710.3,1126.4 L706.6,1125.6 L703.0,1124.4 L699.2,1123.2 L695.9,1121.3 L693.0,1119.2 L690.6,1116.8 L688.2,1114.4 L686.5,1111.9 L684.5,1109.4 L683.7,1106.8 L683.1,1104.2 L683.6,1101.8 L684.6,1099.7 L685.2,1097.4 L686.8,1095.5" fill="none" stroke="#111" stroke-width="1.9" stroke-linecap="round"/>
<path d="M728.1,1108.8 L727.7,1110.2 L726.8,1111.6 L726.0,1113.0 L724.5,1114.2 L723.1,1115.4 L721.5,1116.6 L719.5,1117.3 L717.6,1118.2 L715.5,1118.8 L713.3,1119.3 L711.1,1119.3 L708.9,1119.6 L706.8,1119.4 L704.7,1119.2 L702.8,1118.7 L701.1,1118.0 L699.7,1117.1 L698.6,1116.0 L697.2,1115.0 L696.7,1113.7 L696.3,1112.4 L696.1,1111.1 L695.9,1109.7 L696.7,1108.3" fill="none" stroke="#111" stroke-width="1.7" stroke-linecap="round"/>
<path d="M734.6,1090.4 L736.8,1091.8 L738.8,1093.3 L740.6,1095.0 L742.2,1096.7 L743.5,1098.6 L744.5,1100.5 L745.3,1102.5 L745.8,1104.5 L746.0,1106.5 L745.9,1108.6 L745.6,1110.6 L744.9,1112.6 L744.0,1114.6 L742.8,1116.4 L741.4,1118.2 L739.7,1119.9 L737.8,1121.5 L735.6,1123.0 L733.3,1124.3 L730.8,1125.5 L728.1,1126.5 L725.4,1127.4 L722.5,1128.1 L719.5,1128.6" fill="none" stroke="#333" stroke-width="1.1" stroke-dasharray="5 3"/>
<rect x="250" y="244" width="37" height="116" rx="17" fill="#fcfcfd" stroke="#111" stroke-width="3.2"/>
<rect x="249.75763512799003" y="245.75763512799003" width="38.67323115914691" height="114.096794808285" rx="17" fill="none" stroke="#111" stroke-width="1.3"/>
<rect x="249.2891219971158" y="245.2891219971158" width="34.11805851805364" height="114.73971614783116" rx="17" fill="none" stroke="#111" stroke-width="1.3"/>
<rect x="250.49470965960987" y="246.49470965960987" width="37.31678757092752" height="111.02266962679404" rx="17" fill="none" stroke="#111" stroke-width="1.3"/>
<line x1="268" y1="268" x2="266" y2="345" stroke="#333" stroke-width="1" stroke-dasharray="8 4 2 4"/>
<path d="M164,313 L198,313.5 M203,313.5 L209,313.5 M228,328.5 L233,328.5 M294,328.5 L299,328" stroke="#111" stroke-width="2.4" stroke-linecap="round"/>
<circle cx="166" cy="313.5" r="2.6" fill="#111"/>
<line x1="165" y1="185.3" x2="890" y2="185.3" stroke="#1e1e1e" stroke-width="3.6"/>
<line x1="165" y1="185.3" x2="240" y2="185.3" stroke="#444" stroke-width="3.6"/>
<line x1="178" y1="160" x2="178" y2="1207" stroke="#3a3a3a" stroke-width="4.5"/>
<line x1="157" y1="1192.5" x2="890" y2="1192.5" stroke="#111" stroke-width="4.5"/>
<path d="M176,296 L177,1120 Q180,1183 240,1184 L772,1184" stroke="#26406a" stroke-width="12" fill="none"/>
<path d="M185.7,703 L185.7,1120 Q188,1160 215,1172" fill="none" stroke="#26406a" stroke-width="6" stroke-linecap="round"/>
<line x1="224" y1="1170.5" x2="498" y2="1170.5" stroke="#26406a" stroke-width="5.5" stroke-linecap="round"/>
<line x1="302" y1="205.5" x2="862" y2="205.5" stroke="#26406a" stroke-width="6" stroke-linecap="round"/>
<line x1="395" y1="191.5" x2="880" y2="191.5" stroke="#26406a" stroke-width="5"/>
<path d="M839.6,189.7 L270.5,188.4 A86.1,86.1 0 0 0 184.4,274.5 L182.4,1134.6 A54.6,54.6 0 0 0 237.0,1189.3 L864.3,1189.4" fill="none" stroke="#111" stroke-width="1.8"/>
<path d="M683.2,195.9 L289.6,194.8 A106.2,106.2 0 0 0 183.4,300.9 L178.3,1126.1 A63.2,63.2 0 0 0 241.4,1189.2 L833.0,1188.3" fill="none" stroke="#111" stroke-width="2.6"/>
<path d="M832.8,196.5 L260.5,197.9 A84.3,84.3 0 0 0 176.2,282.3 L179.2,1130.1 A60.6,60.6 0 0 0 239.8,1190.7 L827.4,1191.3" fill="none" stroke="#111" stroke-width="2.2"/>
<path d="M565.0,199.5 L272.4,199.6 A92.1,92.1 0 0 0 180.2,291.7 L177.0,1127.0 A65.5,65.5 0 0 0 242.5,1192.5 L854.4,1192.7" fill="none" stroke="#111" stroke-width="2.2"/>
<path d="M788.1,192.7 L263.5,192.4 A85.9,85.9 0 0 0 177.6,278.4 L181.5,1138.5 A50.6,50.6 0 0 0 232.1,1189.1 L876.4,1188.1" fill="none" stroke="#111" stroke-width="2.2"/>
<path d="M783.1,197.1 L277.1,198.4 A92.7,92.7 0 0 0 184.5,291.0 L177.8,1127.3 A64.7,64.7 0 0 0 242.5,1192.0 L858.7,1191.0" fill="none" stroke="#111" stroke-width="1.8"/>
<path d="M869.1,193.0 L291.7,194.5 A107.6,107.6 0 0 0 184.0,302.1 L174.7,1139.4 A53.8,53.8 0 0 0 228.5,1193.2 L855.1,1194.1" fill="none" stroke="#111" stroke-width="2.6"/>
<path d="M645.0,190.9 L265.8,190.0 A82.6,82.6 0 0 0 183.2,272.6 L177.9,1129.1 A60.1,60.1 0 0 0 238.0,1189.2 L864.8,1188.5" fill="none" stroke="#111" stroke-width="2.6"/>
<path d="M650.2,198.4 L265.8,197.5 A86.3,86.3 0 0 0 179.5,283.8 L178.3,1142.5 A50.6,50.6 0 0 0 229.0,1193.1 L837.4,1192.3" fill="none" stroke="#111" stroke-width="2.2"/>
<path d="M735.6,196.7 L266.3,196.8 A84.2,84.2 0 0 0 182.1,281.1 L179.7,1134.8 A54.1,54.1 0 0 0 233.8,1188.9 L872.2,1188.6" fill="none" stroke="#111" stroke-width="1.2"/>
<path d="M675.8,193.7 L257.3,194.5 A80.8,80.8 0 0 0 176.5,275.3 L178.8,1129.5 A64.2,64.2 0 0 0 243.0,1193.6 L870.2,1194.6" fill="none" stroke="#111" stroke-width="1.5"/>
<path d="M555.7,197.1 L265.7,196.8 A89.7,89.7 0 0 0 176.0,286.5 L176.8,1134.1 A59.9,59.9 0 0 0 236.6,1194.0 L844.2,1194.3" fill="none" stroke="#111" stroke-width="1.2"/>
<path d="M617.9,191.1 L291.2,191.1 A104.3,104.3 0 0 0 186.8,295.5 L179.5,1130.6 A60.2,60.2 0 0 0 239.7,1190.8 L874.8,1191.1" fill="none" stroke="#111" stroke-width="1.2"/>
<path d="M729.4,188.4 L295.7,189.3 A109.3,109.3 0 0 0 186.4,298.6 L175.6,1139.9 A54.1,54.1 0 0 0 229.6,1193.9 L841.2,1193.9" fill="none" stroke="#111" stroke-width="2.2"/>
<line x1="619.7" y1="189.8" x2="867.2" y2="190.6" stroke="#111" stroke-width="2.5"/>
<line x1="467.0" y1="194.2" x2="868.8" y2="193.7" stroke="#111" stroke-width="1.5"/>
<line x1="463.6" y1="189.5" x2="877.0" y2="190.9" stroke="#111" stroke-width="1.5"/>
<line x1="518.0" y1="196.4" x2="874.6" y2="197.0" stroke="#111" stroke-width="2"/>
<line x1="478.9" y1="189.5" x2="881.6" y2="189.0" stroke="#111" stroke-width="2.5"/>
<line x1="463.7" y1="191.0" x2="883.3" y2="192.1" stroke="#111" stroke-width="1.5"/>
<line x1="542.5" y1="195.8" x2="875.4" y2="195.1" stroke="#111" stroke-width="1.5"/>
<path d="M700,194.5 L884,192" stroke="#111" stroke-width="3.5"/>
<path d="M178,1120 Q180,1180 240,1188" fill="none" stroke="#111" stroke-width="3.5" opacity="0.85"/>
<path d="M179,300 L179,1120" fill="none" stroke="#111" stroke-width="3.5"/>
<line x1="890" y1="122" x2="890" y2="1265.5" stroke="#0d0d0d" stroke-width="4.6" stroke-linecap="round" stroke-dasharray="21 14.35 0.1 14.35" stroke-dashoffset="11.6"/>
<line x1="890" y1="186" x2="1484" y2="186" stroke="#0d0d0d" stroke-width="4.5" stroke-dasharray="28.5 23"/>
<path d="M890,1191.5 L919,1191.5 M942.5,1191.5 L971.5,1191.5 M995,1191.5 L1023.5,1191.5 M1048,1191.5 L1077,1191.5 M1096,1191.5 L1117.5,1191.5 M1141.5,1191.5 L1164,1191.5 M1188,1191.5 L1199,1191.5" stroke="#0d0d0d" stroke-width="4.5"/>
<path d="M1431.6,195.9 C1426.0,201.3 1408.8,217.5 1398.1,228.4 C1387.4,239.2 1377.2,250.1 1367.5,261.0 C1357.9,271.9 1348.7,282.8 1340.0,293.7 C1331.2,304.6 1323.0,315.5 1315.2,326.4 C1307.4,337.3 1300.1,348.3 1293.1,359.2 C1286.2,370.2 1279.8,381.1 1273.7,392.1 C1267.6,403.0 1261.9,414.0 1256.6,424.9 C1251.3,435.9 1246.4,446.8 1241.9,457.8 C1237.3,468.7 1233.1,479.7 1229.2,490.6 C1225.4,501.6 1221.8,512.5 1218.6,523.5 C1215.3,534.4 1212.4,545.3 1209.7,556.2 C1207.0,567.2 1204.6,578.1 1202.4,589.0 C1200.2,599.9 1198.3,610.8 1196.6,621.6 C1194.9,632.5 1193.4,643.4 1192.0,654.3 C1190.7,665.1 1189.6,676.0 1188.6,686.8 C1187.7,697.6 1186.9,708.4 1186.2,719.3 C1185.5,730.1 1185.0,740.9 1184.6,751.7 C1184.2,762.4 1183.9,773.2 1183.7,784.0 C1183.5,794.8 1183.4,805.5 1183.4,816.3 C1183.4,827.0 1183.5,837.8 1183.6,848.5 C1183.8,859.3 1184.0,870.0 1184.3,880.7 C1184.5,891.5 1184.9,902.2 1185.2,912.9 C1185.6,923.6 1186.1,934.4 1186.6,945.1 C1187.1,955.8 1187.6,966.5 1188.2,977.2 C1188.8,988.0 1189.4,998.7 1190.1,1009.4 C1190.8,1020.1 1191.6,1030.9 1192.4,1041.6 C1193.2,1052.3 1194.1,1063.1 1195.1,1073.8 C1196.0,1084.6 1197.1,1095.3 1198.2,1106.1 C1199.4,1116.9 1200.6,1127.7 1202.0,1138.5 C1203.4,1149.3 1205.2,1161.8 1206.6,1170.9 C1207.9,1180.0 1209.6,1189.2 1210.2,1192.9" fill="none" stroke="#dfe7f5" stroke-width="10" stroke-linecap="round" filter="url(#b2)"/>
<g filter="url(#b2)" fill="#d7e0f1">
<rect x="259" y="97" width="80" height="20" rx="8"/>
<path d="M12,1290 Q12,1282 22,1283 L265,1290 Q276,1292 274,1300 Q272,1310 262,1309 L22,1302 Q12,1300 12,1290 Z"/>
<rect x="48" y="1265" width="215" height="14" rx="7"/>
<rect x="1548" y="991" width="300" height="19" rx="9"/>
<rect x="1522" y="1024" width="340" height="24" rx="11" transform="rotate(0.8 1522 1024)"/>
<rect x="1448" y="68" width="212" height="13" rx="6" transform="rotate(-0.5 1448 68)"/>
<rect x="1431" y="88" width="150" height="10" rx="5"/>
</g>
<g fill="#dce5f4" filter="url(#b4)">
<polygon points="1300,132 1370,102 1396,130 1380,158"/>
<polygon points="1632,175 1640,160 1728,262 1620,272"/>
<polygon points="1012,1175 1130,1136 1076,1258"/>
<polygon points="1328,1200 1446,1242 1342,1304"/>
</g>
<g stroke="#111" stroke-width="1.3" fill="none">
<line x1="1065" y1="733" x2="1870" y2="724"/>
<line x1="1391" y1="474" x2="1396" y2="980" stroke-dasharray="90 5 2 5"/>
<line x1="1195" y1="616" x2="1617" y2="874"/>
<line x1="1097" y1="561" x2="1195" y2="616" stroke-dasharray="5 3 1 3" stroke-width="1"/>
<line x1="1640" y1="586" x2="1118" y2="901"/>
</g>
<g fill="none" stroke-linejoin="round">
<path d="M1383.4,289.1 C1379.1,294.4 1365.7,310.1 1357.6,320.6 C1349.4,331.1 1341.8,341.5 1334.5,352.0 C1327.3,362.4 1320.5,372.9 1314.1,383.3 C1307.6,393.8 1301.7,404.2 1296.1,414.7 C1290.5,425.1 1285.3,435.6 1280.4,446.0 C1275.5,456.4 1271.0,466.9 1266.8,477.3 C1262.7,487.8 1258.8,498.2 1255.3,508.6 C1251.7,519.1 1248.5,529.5 1245.5,540.0 C1242.5,550.4 1239.9,560.9 1237.4,571.4 C1235.0,581.8 1232.8,592.3 1230.8,602.8 C1228.8,613.3 1227.1,623.8 1225.5,634.3 C1223.9,644.8 1222.6,655.3 1221.4,665.8 C1220.2,676.3 1219.2,686.9 1218.3,697.4 C1217.5,707.9 1216.8,718.5 1216.2,729.0 C1215.6,739.6 1215.1,750.2 1214.8,760.7 C1214.4,771.3 1214.2,781.9 1214.1,792.5 C1213.9,803.1 1213.9,813.7 1213.9,824.3 C1214.0,834.9 1214.1,845.5 1214.2,856.1 C1214.4,866.7 1214.7,877.3 1215.0,887.9 C1215.3,898.5 1215.6,909.2 1216.0,919.8 C1216.4,930.4 1216.9,941.0 1217.4,951.7 C1217.9,962.3 1218.5,972.9 1219.1,983.5 C1219.7,994.1 1220.4,1004.8 1221.1,1015.4 C1221.8,1026.0 1222.6,1036.6 1223.4,1047.2 C1224.3,1057.8 1225.2,1068.4 1226.2,1079.0 C1227.2,1089.6 1228.2,1100.2 1229.4,1110.8 C1230.6,1121.4 1231.9,1131.9 1233.3,1142.5 C1234.7,1153.1 1236.8,1166.6 1238.0,1174.1 C1239.1,1181.7 1239.9,1185.4 1240.2,1187.7" stroke="#8e9db6" stroke-width="4.5"/>
<path d="M1460.9,192.3 C1455.1,197.6 1437.3,213.6 1426.3,224.3 C1415.3,235.0 1404.8,245.6 1394.8,256.3 C1384.9,267.0 1375.4,277.6 1366.4,288.3 C1357.4,299.0 1348.9,309.6 1340.8,320.3 C1332.7,331.0 1325.1,341.6 1317.9,352.3 C1310.8,363.0 1304.1,373.6 1297.7,384.3 C1291.4,395.0 1285.5,405.6 1280.0,416.3 C1274.4,427.0 1269.3,437.6 1264.5,448.3 C1259.7,459.0 1255.3,469.6 1251.2,480.3 C1247.1,491.0 1243.3,501.6 1239.8,512.3 C1236.4,523.0 1233.2,533.6 1230.3,544.3 C1227.4,555.0 1224.8,565.6 1222.4,576.3 C1220.1,587.0 1218.0,597.6 1216.1,608.3 C1214.2,619.0 1212.5,629.6 1211.0,640.3 C1209.5,651.0 1208.2,661.6 1207.1,672.3 C1206.0,683.0 1205.1,693.6 1204.3,704.3 C1203.4,715.0 1202.8,725.6 1202.3,736.3 C1201.7,747.0 1201.4,757.6 1201.1,768.3 C1200.8,779.0 1200.6,789.6 1200.5,800.3 C1200.4,811.0 1200.4,821.6 1200.5,832.3 C1200.5,843.0 1200.7,853.6 1200.9,864.3 C1201.1,875.0 1201.4,885.6 1201.7,896.3 C1202.0,907.0 1202.4,917.6 1202.9,928.3 C1203.3,939.0 1203.8,949.6 1204.3,960.3 C1204.8,971.0 1205.4,981.6 1206.1,992.3 C1206.7,1003.0 1207.4,1013.6 1208.2,1024.3 C1208.9,1035.0 1209.7,1045.6 1210.6,1056.3 C1211.5,1067.0 1212.4,1077.6 1213.5,1088.3 C1214.5,1099.0 1215.7,1109.6 1216.9,1120.3 C1218.2,1131.0 1219.5,1141.6 1221.0,1152.3 C1222.5,1163.0 1225.0,1178.0 1226.0,1184.3 C1227.0,1190.6 1226.8,1189.0 1226.9,1190.0" stroke="#0a0a0a" stroke-width="25"/>
<path d="M1460.9,192.3 C1455.1,197.6 1437.3,213.6 1426.3,224.3 C1415.3,235.0 1404.8,245.6 1394.8,256.3 C1384.9,267.0 1375.4,277.6 1366.4,288.3 C1357.4,299.0 1348.9,309.6 1340.8,320.3 C1332.7,331.0 1325.1,341.6 1317.9,352.3 C1310.8,363.0 1304.1,373.6 1297.7,384.3 C1291.4,395.0 1285.5,405.6 1280.0,416.3 C1274.4,427.0 1269.3,437.6 1264.5,448.3 C1259.7,459.0 1255.3,469.6 1251.2,480.3 C1247.1,491.0 1243.3,501.6 1239.8,512.3 C1236.4,523.0 1233.2,533.6 1230.3,544.3 C1227.4,555.0 1224.8,565.6 1222.4,576.3 C1220.1,587.0 1218.0,597.6 1216.1,608.3 C1214.2,619.0 1212.5,629.6 1211.0,640.3 C1209.5,651.0 1208.2,661.6 1207.1,672.3 C1206.0,683.0 1205.1,693.6 1204.3,704.3 C1203.4,715.0 1202.8,725.6 1202.3,736.3 C1201.7,747.0 1201.4,757.6 1201.1,768.3 C1200.8,779.0 1200.6,789.6 1200.5,800.3 C1200.4,811.0 1200.4,821.6 1200.5,832.3 C1200.5,843.0 1200.7,853.6 1200.9,864.3 C1201.1,875.0 1201.4,885.6 1201.7,896.3 C1202.0,907.0 1202.4,917.6 1202.9,928.3 C1203.3,939.0 1203.8,949.6 1204.3,960.3 C1204.8,971.0 1205.4,981.6 1206.1,992.3 C1206.7,1003.0 1207.4,1013.6 1208.2,1024.3 C1208.9,1035.0 1209.7,1045.6 1210.6,1056.3 C1211.5,1067.0 1212.4,1077.6 1213.5,1088.3 C1214.5,1099.0 1215.7,1109.6 1216.9,1120.3 C1218.2,1131.0 1219.5,1141.6 1221.0,1152.3 C1222.5,1163.0 1225.0,1178.0 1226.0,1184.3 C1227.0,1190.6 1226.8,1189.0 1226.9,1190.0" stroke="#475b7d" stroke-width="16"/>
<path d="M1460.2,191.6 C1454.5,196.9 1436.6,212.9 1425.6,223.6 C1414.6,234.3 1404.1,244.9 1394.1,255.6 C1384.1,266.3 1374.6,277.0 1365.6,287.7 C1356.6,298.3 1348.1,309.0 1340.0,319.7 C1331.9,330.4 1324.3,341.1 1317.1,351.7 C1309.9,362.4 1303.2,373.1 1296.9,383.8 C1290.5,394.5 1284.6,405.2 1279.1,415.8 C1273.5,426.5 1268.4,437.2 1263.6,447.9 C1258.8,458.6 1254.4,469.3 1250.2,479.9 C1246.1,490.6 1242.4,501.3 1238.9,512.0 C1235.4,522.7 1232.3,533.4 1229.4,544.0 C1226.4,554.7 1223.8,565.4 1221.5,576.1 C1219.1,586.8 1217.0,597.4 1215.1,608.1 C1213.2,618.8 1211.5,629.5 1210.0,640.2 C1208.5,650.8 1207.2,661.5 1206.1,672.2 C1205.0,682.9 1204.1,693.5 1203.3,704.2 C1202.5,714.9 1201.8,725.6 1201.3,736.3 C1200.8,746.9 1200.4,757.6 1200.1,768.3 C1199.8,778.9 1199.6,789.6 1199.5,800.3 C1199.4,811.0 1199.4,821.6 1199.5,832.3 C1199.5,843.0 1199.7,853.6 1199.9,864.3 C1200.1,875.0 1200.4,885.7 1200.7,896.3 C1201.0,907.0 1201.4,917.7 1201.9,928.3 C1202.3,939.0 1202.8,949.7 1203.3,960.4 C1203.8,971.0 1204.4,981.7 1205.1,992.4 C1205.7,1003.0 1206.4,1013.7 1207.2,1024.4 C1207.9,1035.0 1208.7,1045.7 1209.6,1056.4 C1210.5,1067.1 1211.4,1077.7 1212.5,1088.4 C1213.6,1099.1 1214.7,1109.7 1215.9,1120.4 C1217.2,1131.1 1218.5,1141.8 1220.0,1152.4 C1221.5,1163.1 1224.0,1178.2 1225.0,1184.5 C1226.0,1190.8 1225.8,1189.2 1226.0,1190.2" stroke="#6a80a3" stroke-width="4" opacity="0.6"/>
<path d="M1463.5,195.3 C1457.8,200.6 1440.1,216.5 1429.1,227.2 C1418.1,237.8 1407.7,248.4 1397.8,259.0 C1387.8,269.7 1378.4,280.3 1369.4,290.9 C1360.5,301.5 1352.0,312.1 1344.0,322.7 C1336.0,333.3 1328.4,343.9 1321.3,354.5 C1314.1,365.1 1307.5,375.7 1301.2,386.3 C1294.9,396.9 1289.0,407.5 1283.5,418.1 C1278.0,428.7 1272.9,439.3 1268.1,449.9 C1263.4,460.5 1259.0,471.1 1254.9,481.7 C1250.8,492.3 1247.1,502.9 1243.6,513.5 C1240.2,524.1 1237.1,534.7 1234.2,545.3 C1231.3,556.0 1228.7,566.6 1226.4,577.2 C1224.0,587.8 1221.9,598.4 1220.0,609.0 C1218.1,619.6 1216.4,630.2 1215.0,640.9 C1213.5,651.5 1212.2,662.1 1211.1,672.7 C1210.0,683.3 1209.0,694.0 1208.2,704.6 C1207.4,715.2 1206.8,725.9 1206.3,736.5 C1205.7,747.1 1205.4,757.8 1205.1,768.4 C1204.8,779.0 1204.6,789.7 1204.5,800.3 C1204.4,811.0 1204.4,821.6 1204.5,832.3 C1204.5,842.9 1204.7,853.6 1204.9,864.2 C1205.1,874.9 1205.4,885.5 1205.7,896.2 C1206.0,906.8 1206.4,917.5 1206.8,928.1 C1207.3,938.8 1207.8,949.4 1208.3,960.1 C1208.8,970.8 1209.4,981.4 1210.1,992.1 C1210.7,1002.7 1211.4,1013.4 1212.1,1024.0 C1212.9,1034.7 1213.7,1045.3 1214.6,1056.0 C1215.5,1066.6 1216.4,1077.3 1217.5,1087.9 C1218.5,1098.6 1219.6,1109.2 1220.9,1119.8 C1222.1,1130.5 1223.5,1141.1 1225.0,1151.7 C1226.5,1162.4 1228.9,1177.4 1229.9,1183.6 C1230.9,1189.9 1230.7,1188.4 1230.9,1189.3" stroke="#3a4d6e" stroke-width="3" opacity="0.7"/>
</g>
<line x1="1455" y1="185" x2="1472" y2="199" stroke="#0a0a0a" stroke-width="3.5"/>
<line x1="1214" y1="1194" x2="1240" y2="1191" stroke="#0a0a0a" stroke-width="3.5"/>
<ellipse cx="1394" cy="730.5" rx="150" ry="146" fill="#fafafa"/>
<ellipse cx="1394" cy="730.5" rx="148" ry="144" fill="url(#hatch)"/>
<path d="M1263.7,653.8 L1268.4,646.6 L1273.6,639.7 L1279.2,633.0 L1285.1,626.7 L1291.4,620.8 L1298.1,615.2 L1305.0,610.0 L1312.3,605.2 L1319.8,600.8 L1327.6,596.9 L1335.6,593.3 L1343.8,590.3 L1352.2,587.7 L1360.7,585.6 L1369.3,584.0 L1378.1,582.8 L1386.8,582.2 L1395.6,582.0 L1404.4,582.3 L1413.1,583.2 L1421.8,584.5 L1430.4,586.3 L1438.8,588.6 L1447.1,591.3 L1455.3,594.6 L1463.2,598.2 L1470.9,602.3 L1478.4,606.9 L1485.5,611.8 L1492.4,617.2 L1498.9,622.9 L1505.1,629.0 L1510.9,635.4 L1516.3,642.1 L1521.3,649.2 L1525.9,656.4 L1530.0,664.0 L1533.7,671.7 L1537.0,679.7 L1539.7,687.8 L1542.0,696.1 L1543.7,704.5 L1545.0,712.9 L1545.7,721.5 L1546.0,730.0 L1545.7,738.5 L1545.0,747.1 L1543.7,755.5 L1542.0,763.9 L1539.7,772.2 L1537.0,780.3 L1533.7,788.3 L1530.0,796.0 L1525.9,803.6 L1521.3,810.8 L1516.3,817.9 L1510.9,824.6 L1505.1,831.0 L1498.9,837.1 L1492.4,842.8 L1485.5,848.2 L1478.4,853.1 L1470.9,857.7 L1463.2,861.8 L1455.3,865.4 L1447.1,868.7 L1438.8,871.4 L1430.4,873.7 L1421.8,875.5 L1413.1,876.8 L1404.4,877.7 L1395.6,878.0 L1386.8,877.8 L1378.1,877.2 L1369.3,876.0 L1360.7,874.4 L1352.2,872.3 L1343.8,869.7 L1335.6,866.7 L1327.6,863.1 L1319.8,859.2 L1312.3,854.8 L1305.0,850.0 L1298.1,844.8 L1291.4,839.2 L1285.1,833.3 L1279.2,827.0 L1273.6,820.3 L1268.4,813.4 L1263.7,806.2" fill="none" stroke="#0a0a0a" stroke-width="8.5"/>
<path d="M1265.5,814.4 L1262.2,809.4 L1259.1,804.3 L1256.1,799.0 L1253.4,793.7 L1251.0,788.2 L1248.7,782.6 L1246.7,777.0 L1244.9,771.3 L1243.3,765.5 L1242.0,759.7 L1240.9,753.8 L1240.1,747.9 L1239.5,741.9 L1239.1,736.0 L1239.0,730.0 L1239.1,724.0 L1239.5,718.1 L1240.1,712.1 L1240.9,706.2 L1242.0,700.3 L1243.3,694.5 L1244.9,688.7 L1246.7,683.0 L1248.7,677.4 L1251.0,671.8 L1253.4,666.3 L1256.1,661.0 L1259.1,655.7 L1262.2,650.6 L1265.5,645.6" fill="none" stroke="#0a0a0a" stroke-width="2.2"/>
<path d="M1271.7,810.2 L1268.6,805.5 L1265.6,800.6 L1262.8,795.6 L1260.2,790.5 L1257.9,785.3 L1255.8,780.0 L1253.8,774.7 L1252.1,769.2 L1250.6,763.7 L1249.4,758.2 L1248.3,752.6 L1247.5,747.0 L1247.0,741.3 L1246.6,735.7 L1246.5,730.0 L1246.6,724.3 L1247.0,718.7 L1247.5,713.0 L1248.3,707.4 L1249.4,701.8 L1250.6,696.3 L1252.1,690.8 L1253.8,685.3 L1255.8,680.0 L1257.9,674.7 L1260.2,669.5 L1262.8,664.4 L1265.6,659.4 L1268.6,654.5 L1271.7,649.8" fill="none" stroke="#0a0a0a" stroke-width="1.8"/>
<rect x="1212" y="687" width="60" height="80" fill="#151515"/>
<ellipse cx="1394" cy="732" rx="136" ry="134" fill="#0a0a0a"/>
<ellipse cx="1395" cy="733" rx="126.5" ry="124.5" fill="url(#ig)"/>
<g stroke="#111" stroke-width="1.3" fill="none">
<line x1="1270" y1="733" x2="1522" y2="731"/>
<line x1="1391" y1="608" x2="1394" y2="858"/>
<line x1="1281" y1="665" x2="1505" y2="802"/>
<line x1="1506" y1="665" x2="1283" y2="800"/>
</g>
<path d="M1195,700 Q1179,708 1179.5,729 Q1179,752 1195,759 Z" fill="#475b7d" stroke="#0a0a0a" stroke-width="2.5"/>
<rect x="1183" y="719" width="87" height="22" fill="#475b7d" stroke="#0a0a0a" stroke-width="2.5"/>
<path d="M1226,738 l6,-15 l2,13 l5,-15 l2,13 l5,-15 l2,13 l5,-13" fill="none" stroke="#1a2a44" stroke-width="1.3"/>
<rect x="1181" y="724" width="5" height="12" fill="#fff" stroke="#111" stroke-width="1"/>
<path d="M1374,126 C1450,128 1560,168 1640,224" fill="none" stroke="#26406a" stroke-width="7" stroke-linecap="round"/>
<path d="M1424,124 C1480,132 1560,166 1636,220" fill="none" stroke="#111" stroke-width="1.8"/>
<polygon points="1301,134 1366,104 1375,153" fill="#cfdaee"/>
<path d="M1366,101 Q1386,94 1392,115 Q1398,133 1397,146 Q1390,156 1376,152 Z" fill="#26406a" opacity="0.85"/>
<path d="M1350,124 Q1335,129 1350,134 L1374,136 L1374,124 Z" fill="#26406a" opacity="0.8"/>
<path d="M1301,134 Q1340,142 1374,153" fill="none" stroke="#24395a" stroke-width="4.5" stroke-linecap="round"/>
<path d="M1304,132 L1366,105 M1308,129 L1363,108 M1300,135 L1372,151 M1366,101 L1375,155 M1371,103 L1377,150 M1296,133 L1312,138" stroke="#111" stroke-width="1.6" fill="none"/>
<polygon points="1648,167 1624,263 1714,260" fill="#d7e1f2"/>
<path d="M1640,200 L1627,261 L1690,258 Q1670,236 1640,200 Z" fill="#26406a" opacity="0.9"/>
<path d="M1645,172 L1628,258" stroke="#24395a" stroke-width="5" stroke-linecap="round"/>
<path d="M1636,164 L1650,177 M1649.5,166 L1624,264 M1644,170 L1627,255 M1615,261 L1726,257 M1620,268 L1712,256 M1648,168 L1714,260 M1658,179 L1716,262 M1714,260 Q1724,268 1718,274" stroke="#111" stroke-width="1.7" fill="none"/>
<path d="M1096,1194 C1150,1240 1250,1262 1341,1260" fill="none" stroke="#24395a" stroke-width="7.5" stroke-linecap="round"/>
<path d="M1096,1200 C1150,1250 1250,1266 1336,1263" fill="none" stroke="#111" stroke-width="1.6"/>
<polygon points="1017,1175 1127,1140 1074,1253" fill="#cfdaee"/>
<path d="M1031,1178 L1071,1243 M1048,1185 L1072,1228 M1110,1155 L1075,1238 M1095,1175 L1080,1215 M1066,1186 L1080,1196" stroke="#26406a" stroke-width="7" stroke-linecap="round" opacity="0.9"/>
<path d="M1029,1172 L1072,1244" stroke="#24395a" stroke-width="4.5" stroke-linecap="round"/>
<path d="M1017,1175 L1128,1139 M1027,1163 Q1022,1168 1030,1175 M1074,1253 L1127,1140 M1092,1158 L1071,1245 M1100,1163 L1077,1245" stroke="#111" stroke-width="1.7" fill="none"/>
<polygon points="1332,1209 1436,1239 1345,1297" fill="#d7e1f2"/>
<path d="M1336,1211 L1432,1238" stroke="#24395a" stroke-width="7.5" stroke-linecap="round"/>
<path d="M1340,1216 L1350,1290" stroke="#24395a" stroke-width="6" stroke-linecap="round"/>
<path d="M1352,1228 L1360,1282 M1360,1236 Q1372,1232 1388,1243 M1370,1228 L1412,1236" stroke="#26406a" stroke-width="6" stroke-linecap="round" opacity="0.9"/>
<path d="M1323,1206 L1438,1240 M1333,1200 L1346,1300 M1341,1295 L1430,1243 M1358,1294 L1418,1255 M1432,1240 Q1444,1246 1436,1250" stroke="#111" stroke-width="1.7" fill="none"/>
<line x1="1514" y1="42" x2="1572" y2="42" stroke="#26406a" stroke-width="8.5" stroke-linecap="round"/>
<line x1="1507" y1="108" x2="1582" y2="108" stroke="#26406a" stroke-width="8.5" stroke-linecap="round"/>
<line x1="1522" y1="44" x2="1560" y2="44" stroke="#111" stroke-width="1.5"/>
<line x1="1512" y1="108" x2="1573" y2="108" stroke="#111" stroke-width="2"/>
<line x1="1472" y1="193" x2="1611" y2="112" stroke="#222" stroke-width="1" stroke-dasharray="6 3 1 3"/>
<g fill="none" stroke="#111" stroke-linecap="round" stroke-linejoin="round">
<path d="M306,118 Q276,170 266,240" stroke-width="3"/>
<path d="M259,226 L266,241 L280,220" stroke-width="4.5"/>
<path d="M263,1280 Q322,1268 354,1212" stroke-width="3"/>
<path d="M331,1228 L354,1211 L355,1232" stroke-width="3"/>
<path d="M1558,1011 C1490,985 1455,930 1467,871" stroke-width="3"/>
<path d="M1445,914 L1468,869 L1473,904" stroke-width="3"/>
</g>
<text x="273" y="110" font-size="30" font-family="Liberation Sans, sans-serif" font-style="italic" fill="#111" textLength="384" lengthAdjust="spacingAndGlyphs">asola per il fissaggio dei cuscini</text>
<text x="36" y="1296" font-size="40" font-family="Liberation Sans, sans-serif" font-style="italic" fill="#111" stroke="#fff" stroke-width="0.45" paint-order="fill" textLength="209" lengthAdjust="spacingAndGlyphs">vista frontale</text>
<text x="34" y="1339" font-size="40" font-family="Liberation Sans, sans-serif" font-style="italic" fill="#111" stroke="#fff" stroke-width="0.45" paint-order="fill" textLength="374" lengthAdjust="spacingAndGlyphs">pannello lamiera forata</text>
<text x="1108" y="708" font-size="23" font-family="Liberation Sans, sans-serif" font-style="italic" fill="#111" stroke="#fff" stroke-width="0.15" paint-order="fill" textLength="44" lengthAdjust="spacingAndGlyphs">vite</text>
<text x="1564" y="1007" font-size="38" font-family="Liberation Sans, sans-serif" font-style="italic" fill="#111" stroke="#fff" stroke-width="0.45" paint-order="fill" textLength="269" lengthAdjust="spacingAndGlyphs">sezione schienale</text>
<text x="1542" y="1049" font-size="38" font-family="Liberation Sans, sans-serif" font-style="italic" fill="#111" stroke="#fff" stroke-width="0.45" paint-order="fill" textLength="312" lengthAdjust="spacingAndGlyphs">c/n doppio tubolare</text>
<g fill="none" stroke="#111" stroke-width="2.6" stroke-linecap="round" stroke-linejoin="round">
<path d="M1468.5,92 L1469.5,74 Q1479,70 1480,77 Q1479,83 1471,83 L1480,91.5"/>
<path d="M1496,77 Q1489,74 1487.5,83 Q1488,89.5 1496,86"/>
<path d="M1499.5,75 L1512,72 M1506,73 Q1503,84 1506,89"/>
<path d="M1519,86 L1532,70.5 L1534,85 M1522,80.5 L1535,78.5"/>
<path d="M1544,76 L1558,74.5 L1545,90 L1560,88"/>
<path d="M1567.5,73 L1566.5,88"/>
<path d="M1594,75.5 Q1582,73 1580,82 Q1581,89 1593,86.5"/>
<path d="M1603,87 L1605,72 L1616,86 L1618.5,70.5"/>
<path d="M1655,64.5 L1625,72 L1623,87 L1645,84.5 M1624,78.5 L1642,76.5"/>
</g>
</svg>
</body></html>
